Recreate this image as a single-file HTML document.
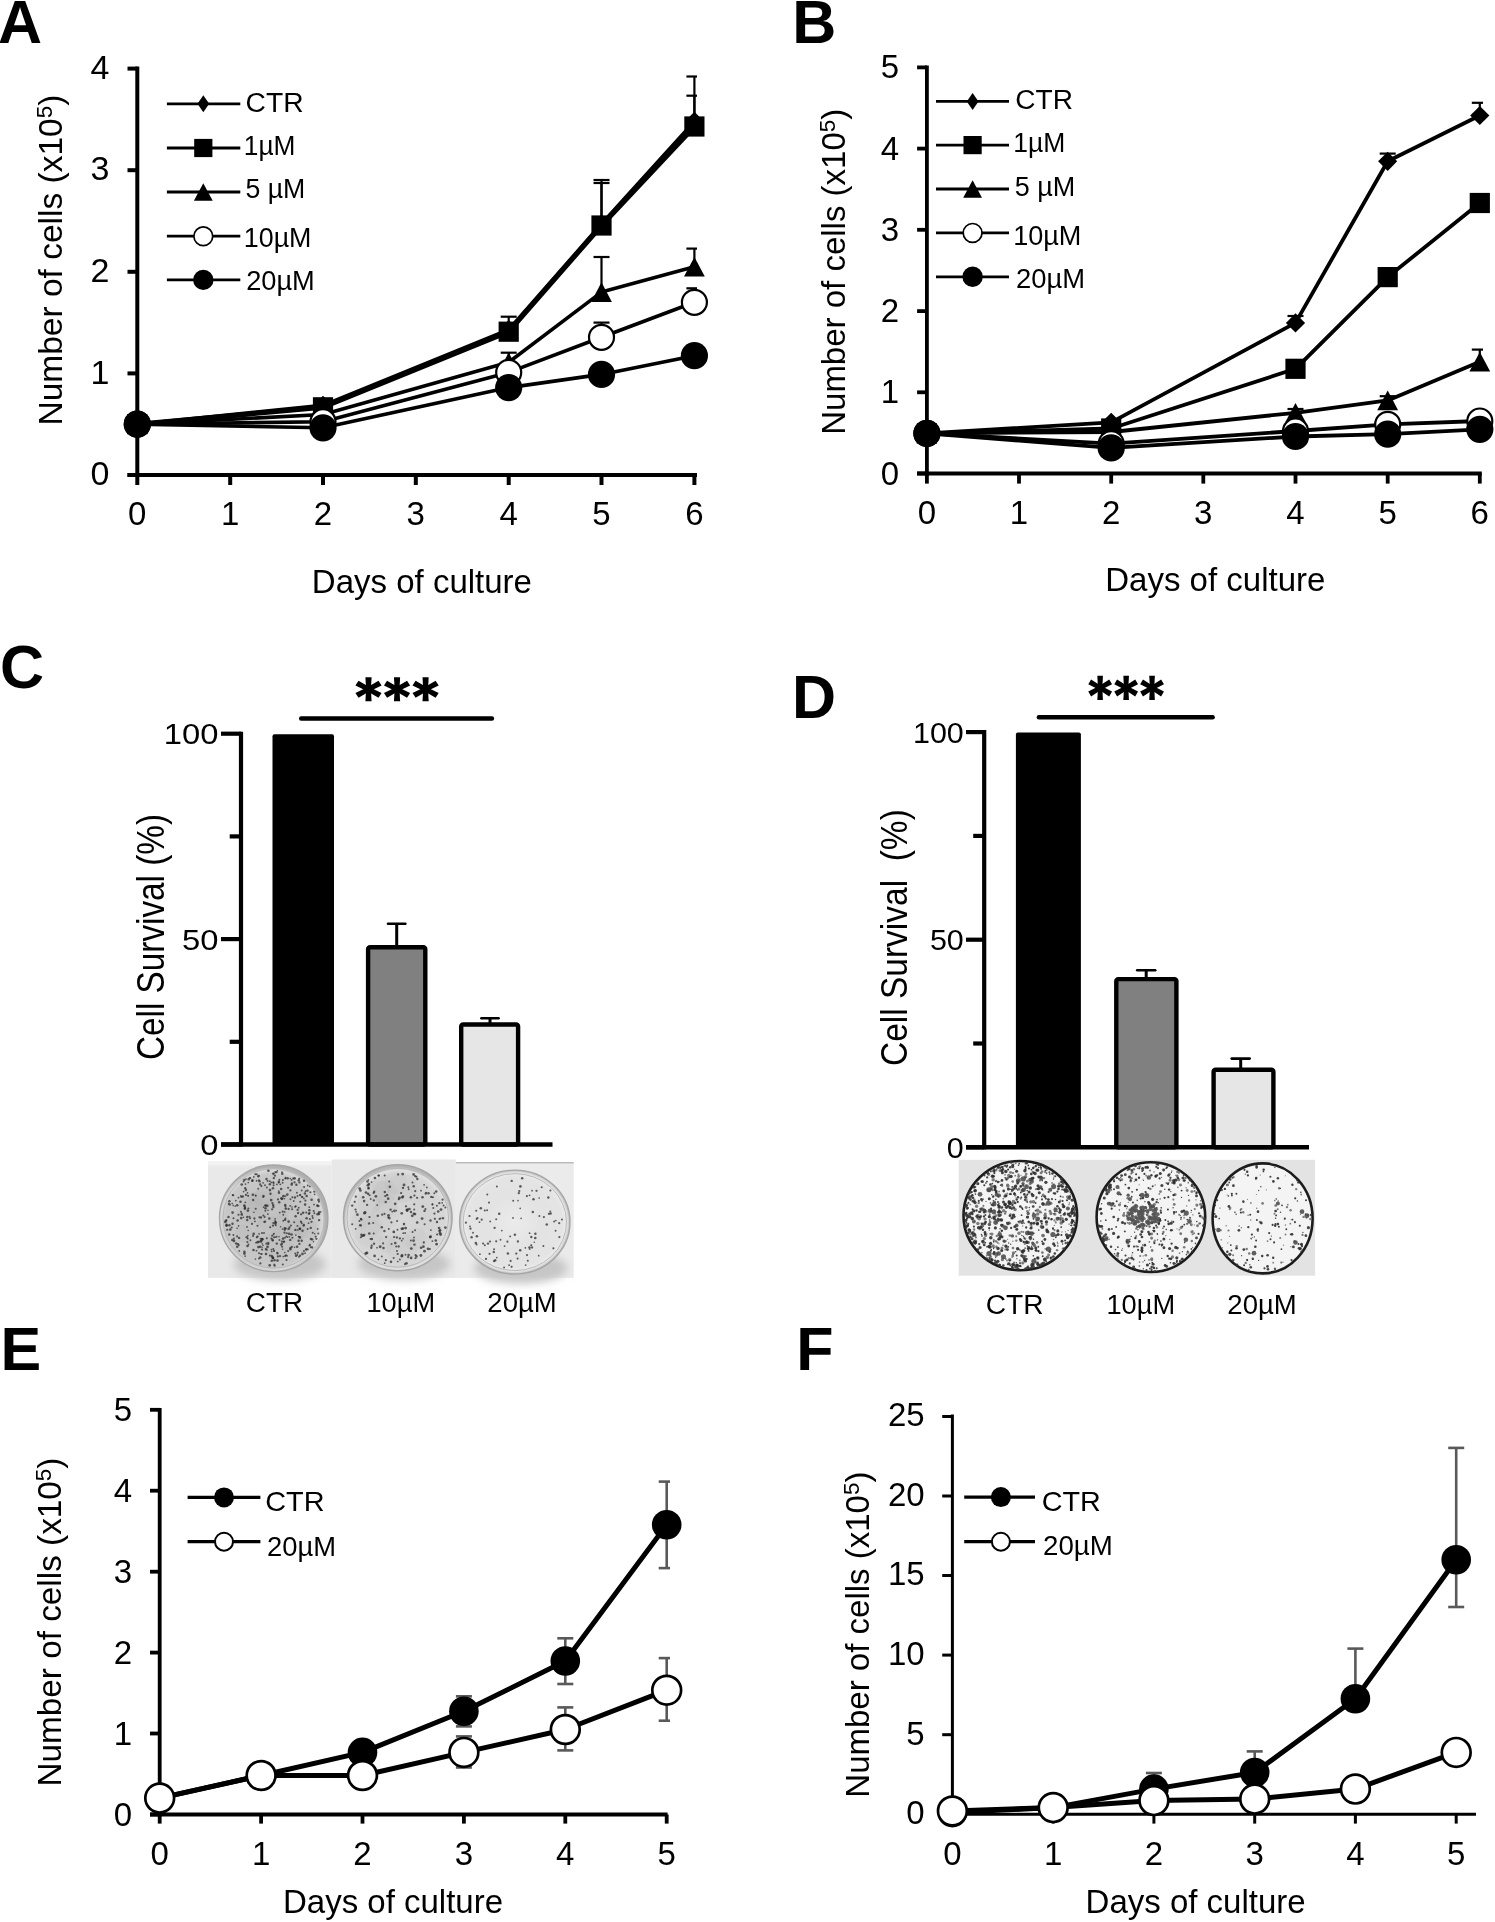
<!DOCTYPE html>
<html><head><meta charset="utf-8"><style>
html,body{margin:0;padding:0;background:#fff;}
body{width:1495px;height:1922px;overflow:hidden;font-family:"Liberation Sans", sans-serif;}
svg{display:block;will-change:transform;}
</style></head><body>
<svg width="1495" height="1922" viewBox="0 0 1495 1922" font-family='"Liberation Sans", sans-serif'>
<rect width="1495" height="1922" fill="#fff"/>
<text x="-1.9" y="42.7" font-size="61" text-anchor="start" font-weight="bold" fill="#000" >A</text>
<line x1="137.3" y1="66.5" x2="137.3" y2="477.0" stroke="#000" stroke-width="4" stroke-linecap="butt"/>
<line x1="127.5" y1="475.0" x2="697.0" y2="475.0" stroke="#000" stroke-width="4" stroke-linecap="butt"/>
<line x1="127.5" y1="475.0" x2="137.3" y2="475.0" stroke="#000" stroke-width="4" stroke-linecap="butt"/>
<text x="109.3" y="485.2" font-size="34" text-anchor="end" fill="#000" >0</text>
<line x1="127.5" y1="373.4" x2="137.3" y2="373.4" stroke="#000" stroke-width="4" stroke-linecap="butt"/>
<text x="109.3" y="383.6" font-size="34" text-anchor="end" fill="#000" >1</text>
<line x1="127.5" y1="271.8" x2="137.3" y2="271.8" stroke="#000" stroke-width="4" stroke-linecap="butt"/>
<text x="109.3" y="282.0" font-size="34" text-anchor="end" fill="#000" >2</text>
<line x1="127.5" y1="170.2" x2="137.3" y2="170.2" stroke="#000" stroke-width="4" stroke-linecap="butt"/>
<text x="109.3" y="180.4" font-size="34" text-anchor="end" fill="#000" >3</text>
<line x1="127.5" y1="68.6" x2="137.3" y2="68.6" stroke="#000" stroke-width="4" stroke-linecap="butt"/>
<text x="109.3" y="78.8" font-size="34" text-anchor="end" fill="#000" >4</text>
<line x1="137.3" y1="475.0" x2="137.3" y2="485.0" stroke="#000" stroke-width="4" stroke-linecap="butt"/>
<text x="137.3" y="525.0" font-size="33" text-anchor="middle" fill="#000" >0</text>
<line x1="230.2" y1="475.0" x2="230.2" y2="485.0" stroke="#000" stroke-width="4" stroke-linecap="butt"/>
<text x="230.2" y="525.0" font-size="33" text-anchor="middle" fill="#000" >1</text>
<line x1="323.0" y1="475.0" x2="323.0" y2="485.0" stroke="#000" stroke-width="4" stroke-linecap="butt"/>
<text x="323.0" y="525.0" font-size="33" text-anchor="middle" fill="#000" >2</text>
<line x1="415.8" y1="475.0" x2="415.8" y2="485.0" stroke="#000" stroke-width="4" stroke-linecap="butt"/>
<text x="415.8" y="525.0" font-size="33" text-anchor="middle" fill="#000" >3</text>
<line x1="508.7" y1="475.0" x2="508.7" y2="485.0" stroke="#000" stroke-width="4" stroke-linecap="butt"/>
<text x="508.7" y="525.0" font-size="33" text-anchor="middle" fill="#000" >4</text>
<line x1="601.5" y1="475.0" x2="601.5" y2="485.0" stroke="#000" stroke-width="4" stroke-linecap="butt"/>
<text x="601.5" y="525.0" font-size="33" text-anchor="middle" fill="#000" >5</text>
<line x1="694.4" y1="475.0" x2="694.4" y2="485.0" stroke="#000" stroke-width="4" stroke-linecap="butt"/>
<text x="694.4" y="525.0" font-size="33" text-anchor="middle" fill="#000" >6</text>
<text transform="translate(61.6,425.5) scale(1.0,1) rotate(-90)" font-size="33.5">Number of cells (x10<tspan font-size="22.5" dy="-10">5</tspan><tspan dy="10">)</tspan></text>
<text x="421.9" y="592.7" font-size="33" text-anchor="middle" fill="#000" >Days of culture</text>
<line x1="694.4" y1="120.0" x2="694.4" y2="76.5" stroke="#000" stroke-width="2.2" stroke-linecap="butt"/>
<line x1="686.4" y1="76.5" x2="697.0" y2="76.5" stroke="#000" stroke-width="2.2" stroke-linecap="butt"/>
<line x1="694.4" y1="120.0" x2="694.4" y2="95.7" stroke="#000" stroke-width="2.2" stroke-linecap="butt"/>
<line x1="686.4" y1="95.7" x2="697.0" y2="95.7" stroke="#000" stroke-width="2.2" stroke-linecap="butt"/>
<line x1="601.5" y1="220.0" x2="601.5" y2="180.0" stroke="#000" stroke-width="2.2" stroke-linecap="butt"/>
<line x1="593.5" y1="180.0" x2="609.5" y2="180.0" stroke="#000" stroke-width="2.2" stroke-linecap="butt"/>
<line x1="601.5" y1="220.0" x2="601.5" y2="183.0" stroke="#000" stroke-width="2.2" stroke-linecap="butt"/>
<line x1="593.5" y1="183.0" x2="609.5" y2="183.0" stroke="#000" stroke-width="2.2" stroke-linecap="butt"/>
<line x1="508.7" y1="330.0" x2="508.7" y2="316.7" stroke="#000" stroke-width="2.2" stroke-linecap="butt"/>
<line x1="500.7" y1="316.7" x2="516.7" y2="316.7" stroke="#000" stroke-width="2.2" stroke-linecap="butt"/>
<line x1="601.5" y1="290.0" x2="601.5" y2="257.0" stroke="#000" stroke-width="2.2" stroke-linecap="butt"/>
<line x1="593.5" y1="257.0" x2="609.5" y2="257.0" stroke="#000" stroke-width="2.2" stroke-linecap="butt"/>
<line x1="694.4" y1="265.0" x2="694.4" y2="248.6" stroke="#000" stroke-width="2.2" stroke-linecap="butt"/>
<line x1="686.4" y1="248.6" x2="697.0" y2="248.6" stroke="#000" stroke-width="2.2" stroke-linecap="butt"/>
<line x1="601.5" y1="330.0" x2="601.5" y2="322.6" stroke="#000" stroke-width="2.2" stroke-linecap="butt"/>
<line x1="593.5" y1="322.6" x2="609.5" y2="322.6" stroke="#000" stroke-width="2.2" stroke-linecap="butt"/>
<line x1="694.4" y1="295.0" x2="694.4" y2="288.3" stroke="#000" stroke-width="2.2" stroke-linecap="butt"/>
<line x1="686.4" y1="288.3" x2="697.0" y2="288.3" stroke="#000" stroke-width="2.2" stroke-linecap="butt"/>
<line x1="508.7" y1="362.0" x2="508.7" y2="352.7" stroke="#000" stroke-width="2.2" stroke-linecap="butt"/>
<line x1="500.7" y1="352.7" x2="516.7" y2="352.7" stroke="#000" stroke-width="2.2" stroke-linecap="butt"/>
<polyline points="137.3,424.2 323.0,405.3 508.7,329.7 601.5,224.0 694.4,121.4" fill="none" stroke="#000" stroke-width="3.6" stroke-linejoin="round"/>
<polyline points="137.3,424.2 323.0,407.3 508.7,331.7 601.5,225.5 694.4,126.5" fill="none" stroke="#000" stroke-width="5.0" stroke-linejoin="round"/>
<polyline points="137.3,424.2 323.0,414.5 508.7,362.2 601.5,292.1 694.4,266.7" fill="none" stroke="#000" stroke-width="3.6" stroke-linejoin="round"/>
<polyline points="137.3,424.2 323.0,421.7 508.7,372.4 601.5,337.3 694.4,302.3" fill="none" stroke="#000" stroke-width="3.6" stroke-linejoin="round"/>
<polyline points="137.3,424.2 323.0,427.8 508.7,387.6 601.5,374.4 694.4,355.7" fill="none" stroke="#000" stroke-width="3.6" stroke-linejoin="round"/>
<polygon points="137.3,414.6 146.9,424.2 137.3,433.8 127.7,424.2" fill="#000"/>
<polygon points="323.0,395.7 332.6,405.3 323.0,414.9 313.4,405.3" fill="#000"/>
<polygon points="508.7,320.1 518.3,329.7 508.7,339.3 499.1,329.7" fill="#000"/>
<polygon points="601.5,214.4 611.1,224.0 601.5,233.6 591.9,224.0" fill="#000"/>
<polygon points="694.4,111.8 704.0,121.4 694.4,131.0 684.8,121.4" fill="#000"/>
<rect x="127.2" y="414.1" width="20.2" height="20.2" fill="#000"/>
<rect x="312.9" y="397.2" width="20.2" height="20.2" fill="#000"/>
<rect x="498.6" y="321.6" width="20.2" height="20.2" fill="#000"/>
<rect x="591.4" y="215.4" width="20.2" height="20.2" fill="#000"/>
<rect x="684.3" y="116.4" width="20.2" height="20.2" fill="#000"/>
<polygon points="137.3,414.4 147.7,434.0 126.9,434.0" fill="#000"/>
<polygon points="323.0,404.7 333.4,424.3 312.6,424.3" fill="#000"/>
<polygon points="508.7,352.4 519.1,372.0 498.3,372.0" fill="#000"/>
<polygon points="601.5,282.3 611.9,301.9 591.1,301.9" fill="#000"/>
<polygon points="694.4,256.9 704.8,276.5 684.0,276.5" fill="#000"/>
<circle cx="137.3" cy="424.2" r="12.5" fill="#fff" stroke="#000" stroke-width="2.2"/>
<circle cx="323.0" cy="421.7" r="12.5" fill="#fff" stroke="#000" stroke-width="2.2"/>
<circle cx="508.7" cy="372.4" r="12.5" fill="#fff" stroke="#000" stroke-width="2.2"/>
<circle cx="601.5" cy="337.3" r="12.5" fill="#fff" stroke="#000" stroke-width="2.2"/>
<circle cx="694.4" cy="302.3" r="12.5" fill="#fff" stroke="#000" stroke-width="2.2"/>
<circle cx="137.3" cy="424.2" r="13.6" fill="#000"/>
<circle cx="323.0" cy="427.8" r="13.6" fill="#000"/>
<circle cx="508.7" cy="387.6" r="13.6" fill="#000"/>
<circle cx="601.5" cy="374.4" r="13.6" fill="#000"/>
<circle cx="694.4" cy="355.7" r="13.6" fill="#000"/>
<line x1="166.9" y1="103.8" x2="240.3" y2="103.8" stroke="#000" stroke-width="2.8" stroke-linecap="butt"/>
<polygon points="203.3,95.2 209.2,103.8 203.3,112.3 197.5,103.8" fill="#000"/>
<text transform="translate(245.59,112.40) scale(1.0073,1)" font-size="28">CTR</text>
<line x1="166.9" y1="148.0" x2="240.3" y2="148.0" stroke="#000" stroke-width="2.8" stroke-linecap="butt"/>
<rect x="194.2" y="138.9" width="18.2" height="18.2" fill="#000"/>
<text transform="translate(243.82,154.80) scale(0.9392,1)" font-size="28">1µM</text>
<line x1="166.9" y1="192.0" x2="240.3" y2="192.0" stroke="#000" stroke-width="2.8" stroke-linecap="butt"/>
<polygon points="203.3,183.2 212.7,200.8 193.9,200.8" fill="#000"/>
<text transform="translate(245.45,198.40) scale(0.9533,1)" font-size="28">5 µM</text>
<line x1="166.9" y1="236.2" x2="240.3" y2="236.2" stroke="#000" stroke-width="2.8" stroke-linecap="butt"/>
<circle cx="203.3" cy="236.2" r="9.4" fill="#fff" stroke="#000" stroke-width="1.7"/>
<text transform="translate(243.78,246.70) scale(0.9591,1)" font-size="28">10µM</text>
<line x1="166.9" y1="279.9" x2="240.3" y2="279.9" stroke="#000" stroke-width="2.8" stroke-linecap="butt"/>
<circle cx="203.3" cy="279.9" r="10.2" fill="#000"/>
<text transform="translate(246.13,289.70) scale(0.9731,1)" font-size="28">20µM</text>
<text x="792.2" y="42.8" font-size="61" text-anchor="start" font-weight="bold" fill="#000" >B</text>
<line x1="926.9" y1="65.5" x2="926.9" y2="475.5" stroke="#000" stroke-width="3.8" stroke-linecap="butt"/>
<line x1="917.1" y1="473.5" x2="1481.8" y2="473.5" stroke="#000" stroke-width="3.8" stroke-linecap="butt"/>
<line x1="917.1" y1="473.5" x2="926.9" y2="473.5" stroke="#000" stroke-width="3.8" stroke-linecap="butt"/>
<text x="899.0" y="484.5" font-size="33" text-anchor="end" fill="#000" >0</text>
<line x1="917.1" y1="392.3" x2="926.9" y2="392.3" stroke="#000" stroke-width="3.8" stroke-linecap="butt"/>
<text x="899.0" y="403.3" font-size="33" text-anchor="end" fill="#000" >1</text>
<line x1="917.1" y1="311.1" x2="926.9" y2="311.1" stroke="#000" stroke-width="3.8" stroke-linecap="butt"/>
<text x="899.0" y="322.1" font-size="33" text-anchor="end" fill="#000" >2</text>
<line x1="917.1" y1="229.8" x2="926.9" y2="229.8" stroke="#000" stroke-width="3.8" stroke-linecap="butt"/>
<text x="899.0" y="240.8" font-size="33" text-anchor="end" fill="#000" >3</text>
<line x1="917.1" y1="148.6" x2="926.9" y2="148.6" stroke="#000" stroke-width="3.8" stroke-linecap="butt"/>
<text x="899.0" y="159.6" font-size="33" text-anchor="end" fill="#000" >4</text>
<line x1="917.1" y1="67.4" x2="926.9" y2="67.4" stroke="#000" stroke-width="3.8" stroke-linecap="butt"/>
<text x="899.0" y="78.4" font-size="33" text-anchor="end" fill="#000" >5</text>
<line x1="926.9" y1="473.5" x2="926.9" y2="483.6" stroke="#000" stroke-width="3.8" stroke-linecap="butt"/>
<text x="926.9" y="524.0" font-size="33" text-anchor="middle" fill="#000" >0</text>
<line x1="1019.0" y1="473.5" x2="1019.0" y2="483.6" stroke="#000" stroke-width="3.8" stroke-linecap="butt"/>
<text x="1019.0" y="524.0" font-size="33" text-anchor="middle" fill="#000" >1</text>
<line x1="1111.2" y1="473.5" x2="1111.2" y2="483.6" stroke="#000" stroke-width="3.8" stroke-linecap="butt"/>
<text x="1111.2" y="524.0" font-size="33" text-anchor="middle" fill="#000" >2</text>
<line x1="1203.3" y1="473.5" x2="1203.3" y2="483.6" stroke="#000" stroke-width="3.8" stroke-linecap="butt"/>
<text x="1203.3" y="524.0" font-size="33" text-anchor="middle" fill="#000" >3</text>
<line x1="1295.5" y1="473.5" x2="1295.5" y2="483.6" stroke="#000" stroke-width="3.8" stroke-linecap="butt"/>
<text x="1295.5" y="524.0" font-size="33" text-anchor="middle" fill="#000" >4</text>
<line x1="1387.7" y1="473.5" x2="1387.7" y2="483.6" stroke="#000" stroke-width="3.8" stroke-linecap="butt"/>
<text x="1387.7" y="524.0" font-size="33" text-anchor="middle" fill="#000" >5</text>
<line x1="1479.8" y1="473.5" x2="1479.8" y2="483.6" stroke="#000" stroke-width="3.8" stroke-linecap="butt"/>
<text x="1479.8" y="524.0" font-size="33" text-anchor="middle" fill="#000" >6</text>
<text transform="translate(845.2,434.8) scale(1.0,1) rotate(-90)" font-size="33">Number of cells (x10<tspan font-size="22.5" dy="-10">5</tspan><tspan dy="10">)</tspan></text>
<text x="1215.3" y="590.5" font-size="33" text-anchor="middle" fill="#000" >Days of culture</text>
<line x1="1479.8" y1="115.0" x2="1479.8" y2="102.8" stroke="#000" stroke-width="2.2" stroke-linecap="butt"/>
<line x1="1471.8" y1="102.8" x2="1483.0" y2="102.8" stroke="#000" stroke-width="2.2" stroke-linecap="butt"/>
<line x1="1387.7" y1="161.0" x2="1387.7" y2="153.6" stroke="#000" stroke-width="2.2" stroke-linecap="butt"/>
<line x1="1379.7" y1="153.6" x2="1395.7" y2="153.6" stroke="#000" stroke-width="2.2" stroke-linecap="butt"/>
<line x1="1295.5" y1="322.0" x2="1295.5" y2="316.0" stroke="#000" stroke-width="2.2" stroke-linecap="butt"/>
<line x1="1287.5" y1="316.0" x2="1303.5" y2="316.0" stroke="#000" stroke-width="2.2" stroke-linecap="butt"/>
<line x1="1479.8" y1="360.0" x2="1479.8" y2="349.6" stroke="#000" stroke-width="2.2" stroke-linecap="butt"/>
<line x1="1471.8" y1="349.6" x2="1483.0" y2="349.6" stroke="#000" stroke-width="2.2" stroke-linecap="butt"/>
<line x1="1387.7" y1="400.0" x2="1387.7" y2="396.2" stroke="#000" stroke-width="2.2" stroke-linecap="butt"/>
<line x1="1379.7" y1="396.2" x2="1395.7" y2="396.2" stroke="#000" stroke-width="2.2" stroke-linecap="butt"/>
<line x1="1295.5" y1="420.0" x2="1295.5" y2="409.0" stroke="#000" stroke-width="2.2" stroke-linecap="butt"/>
<line x1="1287.5" y1="409.0" x2="1303.5" y2="409.0" stroke="#000" stroke-width="2.2" stroke-linecap="butt"/>
<polyline points="926.9,433.4 1111.2,422.3 1295.5,322.9 1387.7,161.3 1479.8,115.5" fill="none" stroke="#000" stroke-width="3.8" stroke-linejoin="round"/>
<polyline points="926.9,433.4 1111.2,428.5 1295.5,368.8 1387.7,277.1 1479.8,203.0" fill="none" stroke="#000" stroke-width="3.8" stroke-linejoin="round"/>
<polyline points="926.9,433.4 1111.2,432.0 1295.5,412.8 1387.7,400.4 1479.8,361.8" fill="none" stroke="#000" stroke-width="3.8" stroke-linejoin="round"/>
<polyline points="926.9,433.4 1111.2,443.6 1295.5,431.0 1387.7,424.3 1479.8,421.0" fill="none" stroke="#000" stroke-width="3.8" stroke-linejoin="round"/>
<polyline points="926.9,433.4 1111.2,447.9 1295.5,436.5 1387.7,434.2 1479.8,429.3" fill="none" stroke="#000" stroke-width="3.8" stroke-linejoin="round"/>
<polygon points="926.9,423.8 936.5,433.4 926.9,443.0 917.3,433.4" fill="#000"/>
<polygon points="1111.2,412.7 1120.8,422.3 1111.2,431.9 1101.6,422.3" fill="#000"/>
<polygon points="1295.5,313.3 1305.1,322.9 1295.5,332.5 1285.9,322.9" fill="#000"/>
<polygon points="1387.7,151.7 1397.2,161.3 1387.7,170.9 1378.1,161.3" fill="#000"/>
<polygon points="1479.8,105.9 1489.4,115.5 1479.8,125.1 1470.2,115.5" fill="#000"/>
<rect x="916.8" y="423.3" width="20.2" height="20.2" fill="#000"/>
<rect x="1101.1" y="418.4" width="20.2" height="20.2" fill="#000"/>
<rect x="1285.4" y="358.7" width="20.2" height="20.2" fill="#000"/>
<rect x="1377.6" y="267.0" width="20.2" height="20.2" fill="#000"/>
<rect x="1469.7" y="192.9" width="20.2" height="20.2" fill="#000"/>
<polygon points="926.9,423.6 937.3,443.2 916.5,443.2" fill="#000"/>
<polygon points="1111.2,422.2 1121.6,441.8 1100.8,441.8" fill="#000"/>
<polygon points="1295.5,403.0 1305.9,422.6 1285.1,422.6" fill="#000"/>
<polygon points="1387.7,390.6 1398.1,410.2 1377.2,410.2" fill="#000"/>
<polygon points="1479.8,352.0 1490.2,371.6 1469.4,371.6" fill="#000"/>
<circle cx="926.9" cy="433.4" r="12.5" fill="#fff" stroke="#000" stroke-width="2.2"/>
<circle cx="1111.2" cy="443.6" r="12.5" fill="#fff" stroke="#000" stroke-width="2.2"/>
<circle cx="1295.5" cy="431.0" r="12.5" fill="#fff" stroke="#000" stroke-width="2.2"/>
<circle cx="1387.7" cy="424.3" r="12.5" fill="#fff" stroke="#000" stroke-width="2.2"/>
<circle cx="1479.8" cy="421.0" r="12.5" fill="#fff" stroke="#000" stroke-width="2.2"/>
<circle cx="926.9" cy="433.4" r="13.6" fill="#000"/>
<circle cx="1111.2" cy="447.9" r="13.6" fill="#000"/>
<circle cx="1295.5" cy="436.5" r="13.6" fill="#000"/>
<circle cx="1387.7" cy="434.2" r="13.6" fill="#000"/>
<circle cx="1479.8" cy="429.3" r="13.6" fill="#000"/>
<line x1="936.0" y1="101.4" x2="1009.0" y2="101.4" stroke="#000" stroke-width="2.8" stroke-linecap="butt"/>
<polygon points="972.6,92.9 978.5,101.4 972.6,110.0 966.8,101.4" fill="#000"/>
<text transform="translate(1015.30,108.60) scale(1.0018,1)" font-size="28">CTR</text>
<line x1="936.0" y1="145.1" x2="1009.0" y2="145.1" stroke="#000" stroke-width="2.8" stroke-linecap="butt"/>
<rect x="963.5" y="136.0" width="18.2" height="18.2" fill="#000"/>
<text transform="translate(1013.21,152.10) scale(0.9451,1)" font-size="28">1µM</text>
<line x1="936.0" y1="189.0" x2="1009.0" y2="189.0" stroke="#000" stroke-width="2.8" stroke-linecap="butt"/>
<polygon points="972.6,180.2 982.0,197.8 963.2,197.8" fill="#000"/>
<text transform="translate(1014.74,196.20) scale(0.9633,1)" font-size="28">5 µM</text>
<line x1="936.0" y1="232.9" x2="1009.0" y2="232.9" stroke="#000" stroke-width="2.8" stroke-linecap="butt"/>
<circle cx="972.6" cy="232.9" r="9.4" fill="#fff" stroke="#000" stroke-width="1.7"/>
<text transform="translate(1013.17,244.90) scale(0.9667,1)" font-size="28">10µM</text>
<line x1="936.0" y1="276.8" x2="1009.0" y2="276.8" stroke="#000" stroke-width="2.8" stroke-linecap="butt"/>
<circle cx="972.6" cy="276.8" r="10.2" fill="#000"/>
<text transform="translate(1015.92,287.80) scale(0.9791,1)" font-size="28">20µM</text>
<text x="0.1" y="688.0" font-size="61" text-anchor="start" font-weight="bold" fill="#000" >C</text>
<g fill="#000"><polygon points="370.92,689.25 371.58,677.15 365.42,677.15 366.08,689.25"/><polygon points="369.71,691.16 381.57,685.62 378.49,680.78 367.29,687.34"/><polygon points="367.29,691.16 378.49,697.72 381.57,692.88 369.71,687.34"/><polygon points="366.08,689.25 365.42,701.35 371.58,701.35 370.92,689.25"/><polygon points="367.29,687.34 355.43,692.88 358.51,697.72 369.71,691.16"/><polygon points="369.71,687.34 358.51,680.78 355.43,685.62 367.29,691.16"/><ellipse cx="368.50" cy="689.25" rx="2.86" ry="2.6"/></g>
<g fill="#000"><polygon points="399.47,689.25 400.13,677.15 393.97,677.15 394.63,689.25"/><polygon points="398.26,691.16 410.12,685.62 407.04,680.78 395.84,687.34"/><polygon points="395.84,691.16 407.04,697.72 410.12,692.88 398.26,687.34"/><polygon points="394.63,689.25 393.97,701.35 400.13,701.35 399.47,689.25"/><polygon points="395.84,687.34 383.98,692.88 387.06,697.72 398.26,691.16"/><polygon points="398.26,687.34 387.06,680.78 383.98,685.62 395.84,691.16"/><ellipse cx="397.05" cy="689.25" rx="2.86" ry="2.6"/></g>
<g fill="#000"><polygon points="428.02,689.25 428.68,677.15 422.52,677.15 423.18,689.25"/><polygon points="426.81,691.16 438.67,685.62 435.59,680.78 424.39,687.34"/><polygon points="424.39,691.16 435.59,697.72 438.67,692.88 426.81,687.34"/><polygon points="423.18,689.25 422.52,701.35 428.68,701.35 428.02,689.25"/><polygon points="424.39,687.34 412.53,692.88 415.61,697.72 426.81,691.16"/><polygon points="426.81,687.34 415.61,680.78 412.53,685.62 424.39,691.16"/><ellipse cx="425.60" cy="689.25" rx="2.86" ry="2.6"/></g>
<line x1="301.2" y1="718.6" x2="491.9" y2="718.6" stroke="#000" stroke-width="4.5" stroke-linecap="round"/>
<path d="M272.5,1144.5 L272.5,736.3 Q272.5,734.3 274.5,734.3 L332.0,734.3 Q334.0,734.3 334.0,736.3 L334.0,1144.5 Z" fill="#000"/>
<rect x="368.1" y="947.3" width="57.2" height="197.2" rx="2" fill="#808080" stroke="#000" stroke-width="4.4"/>
<rect x="461.2" y="1024.5" width="56.9" height="120.0" rx="2" fill="#e6e6e6" stroke="#000" stroke-width="4.4"/>
<line x1="396.7" y1="946.0" x2="396.7" y2="923.8" stroke="#000" stroke-width="3.0" stroke-linecap="butt"/>
<line x1="388.0" y1="923.8" x2="405.4" y2="923.8" stroke="#000" stroke-width="2.6" stroke-linecap="round"/>
<line x1="490.0" y1="1023.0" x2="490.0" y2="1018.2" stroke="#000" stroke-width="3.0" stroke-linecap="butt"/>
<line x1="481.4" y1="1018.2" x2="498.6" y2="1018.2" stroke="#000" stroke-width="2.6" stroke-linecap="round"/>
<line x1="241.0" y1="731.7" x2="241.0" y2="1146.5" stroke="#000" stroke-width="4.2" stroke-linecap="butt"/>
<line x1="221.0" y1="1144.5" x2="552.5" y2="1144.5" stroke="#000" stroke-width="4.4" stroke-linecap="butt"/>
<line x1="221.0" y1="1144.5" x2="241.0" y2="1144.5" stroke="#000" stroke-width="4.2" stroke-linecap="butt"/>
<line x1="221.0" y1="939.1" x2="241.0" y2="939.1" stroke="#000" stroke-width="4.2" stroke-linecap="butt"/>
<line x1="221.0" y1="733.7" x2="241.0" y2="733.7" stroke="#000" stroke-width="4.2" stroke-linecap="butt"/>
<line x1="229.7" y1="1041.8" x2="241.0" y2="1041.8" stroke="#000" stroke-width="4.2" stroke-linecap="butt"/>
<line x1="229.7" y1="836.4" x2="241.0" y2="836.4" stroke="#000" stroke-width="4.2" stroke-linecap="butt"/>
<text transform="translate(218.5,1155.0) scale(1.13,1)" font-size="29" text-anchor="end" fill="#000" >0</text>
<text transform="translate(218.5,949.6) scale(1.13,1)" font-size="29" text-anchor="end" fill="#000" >50</text>
<text transform="translate(218.5,744.2) scale(1.13,1)" font-size="29" text-anchor="end" fill="#000" >100</text>
<text transform="translate(164.4,1060.0) scale(1.16,1) rotate(-90)" font-size="33.3">Cell Survival (%)</text>
<text x="792.0" y="717.7" font-size="61" text-anchor="start" font-weight="bold" fill="#000" >D</text>
<g fill="#000"><polygon points="1102.35,687.95 1102.95,675.85 1097.35,675.85 1097.95,687.95"/><polygon points="1101.25,689.86 1112.03,684.32 1109.23,679.48 1099.05,686.04"/><polygon points="1099.05,689.86 1109.23,696.42 1112.03,691.58 1101.25,686.04"/><polygon points="1097.95,687.95 1097.35,700.05 1102.95,700.05 1102.35,687.95"/><polygon points="1099.05,686.04 1088.27,691.58 1091.07,696.42 1101.25,689.86"/><polygon points="1101.25,686.04 1091.07,679.48 1088.27,684.32 1099.05,689.86"/><ellipse cx="1100.15" cy="687.95" rx="2.60" ry="2.6"/></g>
<g fill="#000"><polygon points="1128.35,687.95 1128.95,675.85 1123.35,675.85 1123.95,687.95"/><polygon points="1127.25,689.86 1138.03,684.32 1135.23,679.48 1125.05,686.04"/><polygon points="1125.05,689.86 1135.23,696.42 1138.03,691.58 1127.25,686.04"/><polygon points="1123.95,687.95 1123.35,700.05 1128.95,700.05 1128.35,687.95"/><polygon points="1125.05,686.04 1114.27,691.58 1117.07,696.42 1127.25,689.86"/><polygon points="1127.25,686.04 1117.07,679.48 1114.27,684.32 1125.05,689.86"/><ellipse cx="1126.15" cy="687.95" rx="2.60" ry="2.6"/></g>
<g fill="#000"><polygon points="1154.25,687.95 1154.85,675.85 1149.25,675.85 1149.85,687.95"/><polygon points="1153.15,689.86 1163.93,684.32 1161.13,679.48 1150.95,686.04"/><polygon points="1150.95,689.86 1161.13,696.42 1163.93,691.58 1153.15,686.04"/><polygon points="1149.85,687.95 1149.25,700.05 1154.85,700.05 1154.25,687.95"/><polygon points="1150.95,686.04 1140.17,691.58 1142.97,696.42 1153.15,689.86"/><polygon points="1153.15,686.04 1142.97,679.48 1140.17,684.32 1150.95,689.86"/><ellipse cx="1152.05" cy="687.95" rx="2.60" ry="2.6"/></g>
<line x1="1038.9" y1="717.3" x2="1212.6" y2="717.3" stroke="#000" stroke-width="4.5" stroke-linecap="round"/>
<path d="M1015.9,1147.3 L1015.9,734.5 Q1015.9,732.5 1017.9,732.5 L1078.9,732.5 Q1080.9,732.5 1080.9,734.5 L1080.9,1147.3 Z" fill="#000"/>
<rect x="1116.3" y="979.1" width="60.1" height="168.2" rx="2" fill="#808080" stroke="#000" stroke-width="4.4"/>
<rect x="1213.6" y="1069.7" width="59.8" height="77.6" rx="2" fill="#e6e6e6" stroke="#000" stroke-width="4.4"/>
<line x1="1146.2" y1="978.0" x2="1146.2" y2="970.3" stroke="#000" stroke-width="3.0" stroke-linecap="butt"/>
<line x1="1137.2" y1="970.3" x2="1155.2" y2="970.3" stroke="#000" stroke-width="2.6" stroke-linecap="round"/>
<line x1="1240.7" y1="1068.0" x2="1240.7" y2="1058.6" stroke="#000" stroke-width="3.0" stroke-linecap="butt"/>
<line x1="1231.7" y1="1058.6" x2="1249.7" y2="1058.6" stroke="#000" stroke-width="2.6" stroke-linecap="round"/>
<line x1="984.2" y1="730.1" x2="984.2" y2="1149.3" stroke="#000" stroke-width="4.2" stroke-linecap="butt"/>
<line x1="966.0" y1="1147.3" x2="1309.0" y2="1147.3" stroke="#000" stroke-width="4.4" stroke-linecap="butt"/>
<line x1="966.0" y1="1147.3" x2="984.2" y2="1147.3" stroke="#000" stroke-width="4.2" stroke-linecap="butt"/>
<line x1="966.0" y1="939.7" x2="984.2" y2="939.7" stroke="#000" stroke-width="4.2" stroke-linecap="butt"/>
<line x1="966.0" y1="732.1" x2="984.2" y2="732.1" stroke="#000" stroke-width="4.2" stroke-linecap="butt"/>
<line x1="973.2" y1="1043.5" x2="984.2" y2="1043.5" stroke="#000" stroke-width="4.2" stroke-linecap="butt"/>
<line x1="973.2" y1="835.9" x2="984.2" y2="835.9" stroke="#000" stroke-width="4.2" stroke-linecap="butt"/>
<text transform="translate(963.8,1157.8) scale(1.05,1)" font-size="29" text-anchor="end" fill="#000" >0</text>
<text transform="translate(963.8,950.2) scale(1.05,1)" font-size="29" text-anchor="end" fill="#000" >50</text>
<text transform="translate(963.8,742.6) scale(1.05,1)" font-size="29" text-anchor="end" fill="#000" >100</text>
<text transform="translate(906.6,1066.0) scale(1.1,1) rotate(-90)" font-size="33.5">Cell Survival&#160;&#160;(%)</text>
<text x="0.6" y="1370.0" font-size="61" text-anchor="start" font-weight="bold" fill="#000" >E</text>
<line x1="159.7" y1="1408.0" x2="159.7" y2="1816.5" stroke="#000" stroke-width="3.8" stroke-linecap="butt"/>
<line x1="150.0" y1="1814.5" x2="667.6" y2="1814.5" stroke="#000" stroke-width="3.8" stroke-linecap="butt"/>
<line x1="150.0" y1="1814.5" x2="159.7" y2="1814.5" stroke="#000" stroke-width="3.8" stroke-linecap="butt"/>
<text x="132.0" y="1825.7" font-size="33" text-anchor="end" fill="#000" >0</text>
<line x1="150.0" y1="1733.5" x2="159.7" y2="1733.5" stroke="#000" stroke-width="3.8" stroke-linecap="butt"/>
<text x="132.0" y="1744.8" font-size="33" text-anchor="end" fill="#000" >1</text>
<line x1="150.0" y1="1652.6" x2="159.7" y2="1652.6" stroke="#000" stroke-width="3.8" stroke-linecap="butt"/>
<text x="132.0" y="1663.8" font-size="33" text-anchor="end" fill="#000" >2</text>
<line x1="150.0" y1="1571.7" x2="159.7" y2="1571.7" stroke="#000" stroke-width="3.8" stroke-linecap="butt"/>
<text x="132.0" y="1582.9" font-size="33" text-anchor="end" fill="#000" >3</text>
<line x1="150.0" y1="1490.7" x2="159.7" y2="1490.7" stroke="#000" stroke-width="3.8" stroke-linecap="butt"/>
<text x="132.0" y="1501.9" font-size="33" text-anchor="end" fill="#000" >4</text>
<line x1="150.0" y1="1409.8" x2="159.7" y2="1409.8" stroke="#000" stroke-width="3.8" stroke-linecap="butt"/>
<text x="132.0" y="1421.0" font-size="33" text-anchor="end" fill="#000" >5</text>
<line x1="159.7" y1="1814.5" x2="159.7" y2="1823.6" stroke="#000" stroke-width="3.8" stroke-linecap="butt"/>
<text x="159.7" y="1864.5" font-size="33" text-anchor="middle" fill="#000" >0</text>
<line x1="261.1" y1="1814.5" x2="261.1" y2="1823.6" stroke="#000" stroke-width="3.8" stroke-linecap="butt"/>
<text x="261.1" y="1864.5" font-size="33" text-anchor="middle" fill="#000" >1</text>
<line x1="362.5" y1="1814.5" x2="362.5" y2="1823.6" stroke="#000" stroke-width="3.8" stroke-linecap="butt"/>
<text x="362.5" y="1864.5" font-size="33" text-anchor="middle" fill="#000" >2</text>
<line x1="463.9" y1="1814.5" x2="463.9" y2="1823.6" stroke="#000" stroke-width="3.8" stroke-linecap="butt"/>
<text x="463.9" y="1864.5" font-size="33" text-anchor="middle" fill="#000" >3</text>
<line x1="565.3" y1="1814.5" x2="565.3" y2="1823.6" stroke="#000" stroke-width="3.8" stroke-linecap="butt"/>
<text x="565.3" y="1864.5" font-size="33" text-anchor="middle" fill="#000" >4</text>
<line x1="666.7" y1="1814.5" x2="666.7" y2="1823.6" stroke="#000" stroke-width="3.8" stroke-linecap="butt"/>
<text x="666.7" y="1864.5" font-size="33" text-anchor="middle" fill="#000" >5</text>
<text transform="translate(61.2,1786.5) scale(1.0,1) rotate(-90)" font-size="33.3">Number of cells (x10<tspan font-size="22.5" dy="-10">5</tspan><tspan dy="10">)</tspan></text>
<text x="393.0" y="1913.2" font-size="33" text-anchor="middle" fill="#000" >Days of culture</text>
<line x1="666.7" y1="1481.6" x2="666.7" y2="1568.1" stroke="#595959" stroke-width="2.6" stroke-linecap="butt"/>
<line x1="658.7" y1="1481.6" x2="670.0" y2="1481.6" stroke="#595959" stroke-width="2.6" stroke-linecap="butt"/>
<line x1="658.7" y1="1568.1" x2="670.0" y2="1568.1" stroke="#595959" stroke-width="2.6" stroke-linecap="butt"/>
<line x1="565.3" y1="1638.3" x2="565.3" y2="1684.0" stroke="#595959" stroke-width="2.6" stroke-linecap="butt"/>
<line x1="557.3" y1="1638.3" x2="573.3" y2="1638.3" stroke="#595959" stroke-width="2.6" stroke-linecap="butt"/>
<line x1="557.3" y1="1684.0" x2="573.3" y2="1684.0" stroke="#595959" stroke-width="2.6" stroke-linecap="butt"/>
<line x1="463.9" y1="1696.3" x2="463.9" y2="1726.4" stroke="#595959" stroke-width="2.6" stroke-linecap="butt"/>
<line x1="455.9" y1="1696.3" x2="471.9" y2="1696.3" stroke="#595959" stroke-width="2.6" stroke-linecap="butt"/>
<line x1="455.9" y1="1726.4" x2="471.9" y2="1726.4" stroke="#595959" stroke-width="2.6" stroke-linecap="butt"/>
<line x1="666.7" y1="1658.1" x2="666.7" y2="1720.7" stroke="#595959" stroke-width="2.6" stroke-linecap="butt"/>
<line x1="658.7" y1="1658.1" x2="670.0" y2="1658.1" stroke="#595959" stroke-width="2.6" stroke-linecap="butt"/>
<line x1="658.7" y1="1720.7" x2="670.0" y2="1720.7" stroke="#595959" stroke-width="2.6" stroke-linecap="butt"/>
<line x1="565.3" y1="1707.4" x2="565.3" y2="1750.4" stroke="#595959" stroke-width="2.6" stroke-linecap="butt"/>
<line x1="557.3" y1="1707.4" x2="573.3" y2="1707.4" stroke="#595959" stroke-width="2.6" stroke-linecap="butt"/>
<line x1="557.3" y1="1750.4" x2="573.3" y2="1750.4" stroke="#595959" stroke-width="2.6" stroke-linecap="butt"/>
<line x1="463.9" y1="1736.4" x2="463.9" y2="1767.5" stroke="#595959" stroke-width="2.6" stroke-linecap="butt"/>
<line x1="455.9" y1="1736.4" x2="471.9" y2="1736.4" stroke="#595959" stroke-width="2.6" stroke-linecap="butt"/>
<line x1="455.9" y1="1767.5" x2="471.9" y2="1767.5" stroke="#595959" stroke-width="2.6" stroke-linecap="butt"/>
<polyline points="159.7,1798.1 261.1,1775.5 362.5,1775.5 463.9,1752.4 565.3,1729.5 666.7,1690.2" fill="none" stroke="#000" stroke-width="5.0" stroke-linejoin="round"/>
<polyline points="159.7,1798.1 261.1,1775.5 362.5,1752.4 463.9,1711.3 565.3,1661.0 666.7,1524.8" fill="none" stroke="#000" stroke-width="5.0" stroke-linejoin="round"/>
<circle cx="159.7" cy="1798.1" r="14.8" fill="#000"/>
<circle cx="261.1" cy="1775.5" r="14.8" fill="#000"/>
<circle cx="362.5" cy="1752.4" r="14.8" fill="#000"/>
<circle cx="463.9" cy="1711.3" r="14.8" fill="#000"/>
<circle cx="565.3" cy="1661.0" r="14.8" fill="#000"/>
<circle cx="666.7" cy="1524.8" r="14.8" fill="#000"/>
<circle cx="159.7" cy="1798.1" r="14.4" fill="#fff" stroke="#000" stroke-width="2.7"/>
<circle cx="261.1" cy="1775.5" r="14.4" fill="#fff" stroke="#000" stroke-width="2.7"/>
<circle cx="362.5" cy="1775.5" r="14.4" fill="#fff" stroke="#000" stroke-width="2.7"/>
<circle cx="463.9" cy="1752.4" r="14.4" fill="#fff" stroke="#000" stroke-width="2.7"/>
<circle cx="565.3" cy="1729.5" r="14.4" fill="#fff" stroke="#000" stroke-width="2.7"/>
<circle cx="666.7" cy="1690.2" r="14.4" fill="#fff" stroke="#000" stroke-width="2.7"/>
<line x1="187.6" y1="1497.4" x2="260.4" y2="1497.4" stroke="#000" stroke-width="3.2" stroke-linecap="butt"/>
<line x1="187.6" y1="1541.7" x2="260.4" y2="1541.7" stroke="#000" stroke-width="3.2" stroke-linecap="butt"/>
<circle cx="224.0" cy="1497.4" r="10.0" fill="#000"/>
<circle cx="224.0" cy="1541.7" r="9.0" fill="#fff" stroke="#000" stroke-width="2.0"/>
<text transform="translate(265.17,1511.40) scale(1.0127,1)" font-size="28.5">CTR</text>
<text transform="translate(266.94,1555.60) scale(0.9603,1)" font-size="28.5">20µM</text>
<text x="796.2" y="1369.6" font-size="61" text-anchor="start" font-weight="bold" fill="#000" >F</text>
<line x1="952.4" y1="1414.5" x2="952.4" y2="1816.0" stroke="#000" stroke-width="3.0" stroke-linecap="butt"/>
<line x1="942.2" y1="1814.2" x2="1476.0" y2="1814.2" stroke="#000" stroke-width="3.0" stroke-linecap="butt"/>
<line x1="942.2" y1="1814.2" x2="952.4" y2="1814.2" stroke="#000" stroke-width="3.0" stroke-linecap="butt"/>
<text x="924.7" y="1824.0" font-size="33" text-anchor="end" fill="#000" >0</text>
<line x1="942.2" y1="1734.7" x2="952.4" y2="1734.7" stroke="#000" stroke-width="3.0" stroke-linecap="butt"/>
<text x="924.7" y="1744.5" font-size="33" text-anchor="end" fill="#000" >5</text>
<line x1="942.2" y1="1655.1" x2="952.4" y2="1655.1" stroke="#000" stroke-width="3.0" stroke-linecap="butt"/>
<text x="924.7" y="1664.9" font-size="33" text-anchor="end" fill="#000" >10</text>
<line x1="942.2" y1="1575.5" x2="952.4" y2="1575.5" stroke="#000" stroke-width="3.0" stroke-linecap="butt"/>
<text x="924.7" y="1585.3" font-size="33" text-anchor="end" fill="#000" >15</text>
<line x1="942.2" y1="1496.0" x2="952.4" y2="1496.0" stroke="#000" stroke-width="3.0" stroke-linecap="butt"/>
<text x="924.7" y="1505.8" font-size="33" text-anchor="end" fill="#000" >20</text>
<line x1="942.2" y1="1416.5" x2="952.4" y2="1416.5" stroke="#000" stroke-width="3.0" stroke-linecap="butt"/>
<text x="924.7" y="1426.2" font-size="33" text-anchor="end" fill="#000" >25</text>
<line x1="952.4" y1="1814.2" x2="952.4" y2="1823.6" stroke="#000" stroke-width="3.0" stroke-linecap="butt"/>
<text x="952.4" y="1864.5" font-size="33" text-anchor="middle" fill="#000" >0</text>
<line x1="1053.2" y1="1814.2" x2="1053.2" y2="1823.6" stroke="#000" stroke-width="3.0" stroke-linecap="butt"/>
<text x="1053.2" y="1864.5" font-size="33" text-anchor="middle" fill="#000" >1</text>
<line x1="1153.9" y1="1814.2" x2="1153.9" y2="1823.6" stroke="#000" stroke-width="3.0" stroke-linecap="butt"/>
<text x="1153.9" y="1864.5" font-size="33" text-anchor="middle" fill="#000" >2</text>
<line x1="1254.7" y1="1814.2" x2="1254.7" y2="1823.6" stroke="#000" stroke-width="3.0" stroke-linecap="butt"/>
<text x="1254.7" y="1864.5" font-size="33" text-anchor="middle" fill="#000" >3</text>
<line x1="1355.4" y1="1814.2" x2="1355.4" y2="1823.6" stroke="#000" stroke-width="3.0" stroke-linecap="butt"/>
<text x="1355.4" y="1864.5" font-size="33" text-anchor="middle" fill="#000" >4</text>
<line x1="1456.2" y1="1814.2" x2="1456.2" y2="1823.6" stroke="#000" stroke-width="3.0" stroke-linecap="butt"/>
<text x="1456.2" y="1864.5" font-size="33" text-anchor="middle" fill="#000" >5</text>
<text transform="translate(869.1,1797.7) scale(1.0,1) rotate(-90)" font-size="33">Number of cells (x10<tspan font-size="22.5" dy="-10">5</tspan><tspan dy="10">)</tspan></text>
<text x="1195.6" y="1913.2" font-size="33" text-anchor="middle" fill="#000" >Days of culture</text>
<line x1="1456.2" y1="1447.9" x2="1456.2" y2="1607.0" stroke="#595959" stroke-width="2.6" stroke-linecap="butt"/>
<line x1="1448.2" y1="1447.9" x2="1464.2" y2="1447.9" stroke="#595959" stroke-width="2.6" stroke-linecap="butt"/>
<line x1="1448.2" y1="1607.0" x2="1464.2" y2="1607.0" stroke="#595959" stroke-width="2.6" stroke-linecap="butt"/>
<line x1="1355.4" y1="1648.6" x2="1355.4" y2="1698.8" stroke="#595959" stroke-width="2.6" stroke-linecap="butt"/>
<line x1="1347.4" y1="1648.6" x2="1363.4" y2="1648.6" stroke="#595959" stroke-width="2.6" stroke-linecap="butt"/>
<line x1="1347.4" y1="1698.8" x2="1363.4" y2="1698.8" stroke="#595959" stroke-width="2.6" stroke-linecap="butt"/>
<line x1="1254.7" y1="1751.4" x2="1254.7" y2="1772.5" stroke="#595959" stroke-width="2.6" stroke-linecap="butt"/>
<line x1="1246.7" y1="1751.4" x2="1262.7" y2="1751.4" stroke="#595959" stroke-width="2.6" stroke-linecap="butt"/>
<line x1="1246.7" y1="1772.5" x2="1262.7" y2="1772.5" stroke="#595959" stroke-width="2.6" stroke-linecap="butt"/>
<line x1="1153.9" y1="1773.0" x2="1153.9" y2="1789.1" stroke="#595959" stroke-width="2.6" stroke-linecap="butt"/>
<line x1="1145.9" y1="1773.0" x2="1161.9" y2="1773.0" stroke="#595959" stroke-width="2.6" stroke-linecap="butt"/>
<line x1="1145.9" y1="1789.1" x2="1161.9" y2="1789.1" stroke="#595959" stroke-width="2.6" stroke-linecap="butt"/>
<polyline points="952.4,1812.6 1053.2,1807.6 1153.9,1789.1 1254.7,1772.5 1355.4,1698.8 1456.2,1559.8" fill="none" stroke="#000" stroke-width="5.0" stroke-linejoin="round"/>
<polyline points="952.4,1811.0 1053.2,1807.6 1153.9,1800.6 1254.7,1799.1 1355.4,1789.1 1456.2,1752.4" fill="none" stroke="#000" stroke-width="5.0" stroke-linejoin="round"/>
<circle cx="952.4" cy="1812.6" r="14.8" fill="#000"/>
<circle cx="1053.2" cy="1807.6" r="14.8" fill="#000"/>
<circle cx="1153.9" cy="1789.1" r="14.8" fill="#000"/>
<circle cx="1254.7" cy="1772.5" r="14.8" fill="#000"/>
<circle cx="1355.4" cy="1698.8" r="14.8" fill="#000"/>
<circle cx="1456.2" cy="1559.8" r="14.8" fill="#000"/>
<circle cx="952.4" cy="1811.0" r="14.4" fill="#fff" stroke="#000" stroke-width="2.7"/>
<circle cx="1053.2" cy="1807.6" r="14.4" fill="#fff" stroke="#000" stroke-width="2.7"/>
<circle cx="1153.9" cy="1800.6" r="14.4" fill="#fff" stroke="#000" stroke-width="2.7"/>
<circle cx="1254.7" cy="1799.1" r="14.4" fill="#fff" stroke="#000" stroke-width="2.7"/>
<circle cx="1355.4" cy="1789.1" r="14.4" fill="#fff" stroke="#000" stroke-width="2.7"/>
<circle cx="1456.2" cy="1752.4" r="14.4" fill="#fff" stroke="#000" stroke-width="2.7"/>
<line x1="964.2" y1="1497.1" x2="1035.0" y2="1497.1" stroke="#000" stroke-width="3.2" stroke-linecap="butt"/>
<line x1="964.2" y1="1541.7" x2="1035.0" y2="1541.7" stroke="#000" stroke-width="3.2" stroke-linecap="butt"/>
<circle cx="1000.9" cy="1497.1" r="10.0" fill="#000"/>
<circle cx="1000.9" cy="1541.7" r="9.0" fill="#fff" stroke="#000" stroke-width="2.0"/>
<text transform="translate(1041.69,1511.30) scale(1.0073,1)" font-size="28.5">CTR</text>
<text transform="translate(1043.03,1555.30) scale(0.9706,1)" font-size="28.5">20µM</text>
<defs><filter id="soft" x="-5%" y="-5%" width="110%" height="110%"><feGaussianBlur stdDeviation="0.6"/></filter><filter id="softD" x="-5%" y="-5%" width="110%" height="110%"><feGaussianBlur stdDeviation="0.45"/></filter><filter id="soft2" x="-30%" y="-30%" width="160%" height="160%"><feGaussianBlur stdDeviation="4"/></filter><radialGradient id="cg1" cx="48%" cy="52%" r="50%"><stop offset="0" stop-color="#c9c9c9"/><stop offset="0.5" stop-color="#c3c3c3"/><stop offset="0.86" stop-color="#c8c8c8"/><stop offset="0.94" stop-color="#d8d8d8"/><stop offset="1" stop-color="#b0b0b0"/></radialGradient><radialGradient id="cg2" cx="50%" cy="52%" r="50%"><stop offset="0" stop-color="#d8d8d8"/><stop offset="0.5" stop-color="#d2d2d2"/><stop offset="0.86" stop-color="#d6d6d6"/><stop offset="0.94" stop-color="#e0e0e0"/><stop offset="1" stop-color="#b4b4b4"/></radialGradient><radialGradient id="cg3" cx="50%" cy="50%" r="50%"><stop offset="0" stop-color="#ebebeb"/><stop offset="0.5" stop-color="#e3e3e3"/><stop offset="0.86" stop-color="#e4e4e4"/><stop offset="0.94" stop-color="#ececec"/><stop offset="1" stop-color="#bcbcbc"/></radialGradient></defs>
<g filter="url(#soft)">
<rect x="208" y="1161.5" width="123.7" height="116.4" fill="#e9e9e9"/>
<rect x="331.7" y="1159.5" width="124.1" height="118.4" fill="#e8e8e8"/>
<rect x="455.8" y="1162.5" width="117.9" height="115.4" fill="#ebebeb"/>
<line x1="455.8" y1="1162.8" x2="573.7" y2="1162.8" stroke="#a0a0a0" stroke-width="1"/>
<rect x="208" y="1161.5" width="123.7" height="4" fill="#f2f2f2"/>
<ellipse cx="279.7" cy="1264.3" rx="46.1" ry="16.0" fill="#c6c6c6" filter="url(#soft2)"/>
<ellipse cx="273.7" cy="1218.3" rx="54.2" ry="53.3" fill="url(#cg1)" stroke="#a6a6a6" stroke-width="1.4"/>
<ellipse cx="273.7" cy="1218.3" rx="50.7" ry="49.8" fill="none" stroke="#b8b8b8" stroke-width="1"/>
<g fill="#909090" fill-opacity="0.05"><circle cx="268.2" cy="1229.0" r="13.21"/><circle cx="297.1" cy="1229.6" r="10.93"/><circle cx="297.3" cy="1227.2" r="8.30"/><circle cx="266.7" cy="1221.4" r="8.73"/><circle cx="243.6" cy="1233.5" r="8.99"/><circle cx="278.5" cy="1246.1" r="15.58"/><circle cx="254.4" cy="1208.3" r="15.81"/><circle cx="306.8" cy="1228.1" r="10.32"/><circle cx="280.2" cy="1226.4" r="10.47"/><circle cx="279.2" cy="1206.1" r="12.65"/><circle cx="260.2" cy="1202.5" r="12.38"/><circle cx="280.1" cy="1220.9" r="9.65"/><circle cx="264.0" cy="1198.0" r="10.51"/><circle cx="253.4" cy="1206.4" r="10.40"/></g>
<g fill="#2c2c2c" fill-opacity="0.75"><circle cx="285.3" cy="1178.6" r="0.93"/><circle cx="240.5" cy="1201.8" r="1.28"/><circle cx="270.0" cy="1190.1" r="1.34"/><circle cx="298.6" cy="1240.8" r="1.22"/><circle cx="294.6" cy="1247.3" r="0.82"/><circle cx="252.3" cy="1181.0" r="1.12"/><circle cx="295.0" cy="1197.5" r="1.18"/><circle cx="241.5" cy="1197.0" r="1.05"/><circle cx="299.2" cy="1178.7" r="1.06"/><circle cx="266.0" cy="1205.6" r="1.19"/><circle cx="244.4" cy="1180.1" r="1.25"/><circle cx="266.6" cy="1249.7" r="1.17"/><circle cx="308.6" cy="1223.2" r="0.89"/><circle cx="284.7" cy="1228.1" r="1.22"/><circle cx="292.4" cy="1237.7" r="1.02"/><circle cx="285.4" cy="1206.3" r="1.05"/><circle cx="229.6" cy="1204.4" r="1.25"/><circle cx="292.4" cy="1197.2" r="1.03"/><circle cx="244.4" cy="1253.6" r="1.33"/><circle cx="287.4" cy="1237.1" r="0.93"/><circle cx="277.5" cy="1253.5" r="1.12"/><circle cx="273.3" cy="1223.0" r="1.03"/><circle cx="247.5" cy="1246.0" r="1.32"/><circle cx="260.2" cy="1184.5" r="1.14"/><circle cx="267.3" cy="1205.7" r="1.29"/><circle cx="282.3" cy="1173.8" r="1.24"/><circle cx="247.8" cy="1238.7" r="0.86"/><circle cx="263.6" cy="1207.1" r="0.84"/><circle cx="279.5" cy="1239.9" r="0.99"/><circle cx="275.1" cy="1218.8" r="0.88"/><circle cx="299.3" cy="1237.0" r="0.81"/><circle cx="301.7" cy="1190.5" r="0.88"/><circle cx="273.3" cy="1249.1" r="1.00"/><circle cx="306.3" cy="1249.5" r="1.35"/><circle cx="238.6" cy="1225.8" r="0.85"/><circle cx="298.6" cy="1236.6" r="0.95"/><circle cx="284.5" cy="1198.7" r="0.81"/><circle cx="309.3" cy="1207.2" r="0.88"/><circle cx="263.4" cy="1215.5" r="1.09"/><circle cx="319.1" cy="1212.2" r="1.18"/><circle cx="271.5" cy="1249.7" r="0.89"/><circle cx="278.8" cy="1181.8" r="1.23"/><circle cx="261.2" cy="1240.7" r="1.25"/><circle cx="319.1" cy="1214.1" r="1.24"/><circle cx="291.6" cy="1179.9" r="0.92"/><circle cx="242.3" cy="1214.9" r="0.82"/><circle cx="301.8" cy="1223.2" r="0.94"/><circle cx="256.8" cy="1174.3" r="1.05"/><circle cx="318.5" cy="1199.9" r="1.33"/><circle cx="256.7" cy="1237.4" r="0.92"/><circle cx="281.9" cy="1241.6" r="1.14"/><circle cx="310.4" cy="1192.2" r="1.06"/><circle cx="248.3" cy="1182.5" r="0.85"/><circle cx="248.7" cy="1179.3" r="1.23"/><circle cx="273.7" cy="1183.1" r="0.90"/><circle cx="281.2" cy="1189.0" r="1.24"/><circle cx="306.2" cy="1212.5" r="1.02"/><circle cx="314.0" cy="1204.6" r="0.89"/><circle cx="289.1" cy="1233.8" r="1.30"/><circle cx="281.3" cy="1198.2" r="1.25"/><circle cx="314.3" cy="1213.3" r="0.99"/><circle cx="253.9" cy="1212.2" r="0.81"/><circle cx="313.7" cy="1211.0" r="1.09"/><circle cx="305.1" cy="1204.6" r="1.28"/><circle cx="285.4" cy="1196.1" r="0.94"/><circle cx="266.5" cy="1243.7" r="1.12"/><circle cx="271.7" cy="1251.5" r="0.87"/><circle cx="300.3" cy="1201.7" r="1.05"/><circle cx="233.2" cy="1195.3" r="1.03"/><circle cx="305.4" cy="1200.6" r="1.09"/><circle cx="264.6" cy="1217.0" r="1.04"/><circle cx="275.6" cy="1222.6" r="1.24"/><circle cx="290.4" cy="1249.3" r="1.20"/><circle cx="245.1" cy="1207.9" r="1.09"/><circle cx="232.3" cy="1203.5" r="0.86"/><circle cx="248.4" cy="1208.4" r="0.95"/><circle cx="278.8" cy="1182.6" r="1.11"/><circle cx="276.6" cy="1172.2" r="1.04"/><circle cx="245.9" cy="1194.9" r="1.08"/><circle cx="261.4" cy="1186.1" r="1.09"/><circle cx="226.6" cy="1224.7" r="1.18"/><circle cx="307.7" cy="1185.5" r="0.94"/><circle cx="229.4" cy="1201.2" r="1.26"/><circle cx="286.8" cy="1233.3" r="1.04"/><circle cx="297.8" cy="1229.9" r="0.84"/><circle cx="252.4" cy="1180.4" r="1.29"/><circle cx="297.7" cy="1252.7" r="1.16"/><circle cx="302.5" cy="1253.9" r="1.33"/><circle cx="282.8" cy="1264.4" r="1.02"/><circle cx="225.3" cy="1222.1" r="1.26"/><circle cx="291.8" cy="1246.9" r="1.08"/><circle cx="260.6" cy="1238.8" r="0.98"/><circle cx="272.1" cy="1209.3" r="1.10"/><circle cx="265.3" cy="1221.5" r="0.98"/><circle cx="247.5" cy="1192.9" r="0.84"/><circle cx="317.6" cy="1214.2" r="1.33"/><circle cx="295.8" cy="1235.1" r="0.82"/><circle cx="278.8" cy="1191.1" r="0.87"/><circle cx="232.3" cy="1240.0" r="1.25"/><circle cx="272.5" cy="1239.9" r="1.31"/><circle cx="235.8" cy="1200.6" r="0.85"/><circle cx="312.7" cy="1232.8" r="1.03"/><circle cx="316.4" cy="1238.8" r="1.15"/><circle cx="279.2" cy="1202.3" r="1.27"/><circle cx="315.6" cy="1236.6" r="1.05"/><circle cx="253.5" cy="1250.0" r="1.31"/><circle cx="271.4" cy="1238.5" r="1.09"/><circle cx="275.1" cy="1237.2" r="0.89"/><circle cx="297.4" cy="1225.9" r="0.97"/><circle cx="259.0" cy="1258.5" r="0.96"/><circle cx="250.1" cy="1218.3" r="0.99"/><circle cx="300.8" cy="1221.4" r="0.81"/><circle cx="269.7" cy="1181.2" r="0.90"/><circle cx="226.9" cy="1225.7" r="0.86"/><circle cx="288.1" cy="1187.7" r="1.07"/><circle cx="290.4" cy="1190.4" r="1.08"/><circle cx="255.2" cy="1174.3" r="0.99"/><circle cx="294.5" cy="1182.3" r="1.15"/><circle cx="247.9" cy="1235.6" r="0.83"/><circle cx="284.7" cy="1229.8" r="1.21"/><circle cx="272.9" cy="1240.7" r="0.85"/><circle cx="298.7" cy="1180.3" r="1.17"/><circle cx="268.3" cy="1244.2" r="0.96"/><circle cx="252.0" cy="1223.9" r="1.05"/><circle cx="269.7" cy="1265.3" r="1.33"/><circle cx="247.9" cy="1210.6" r="1.33"/><circle cx="262.1" cy="1247.3" r="0.80"/><circle cx="247.4" cy="1242.1" r="1.08"/><circle cx="284.8" cy="1252.6" r="0.80"/><circle cx="272.1" cy="1235.7" r="1.02"/><circle cx="283.3" cy="1220.8" r="0.97"/><circle cx="277.9" cy="1256.4" r="1.09"/><circle cx="273.8" cy="1178.1" r="1.19"/><circle cx="297.5" cy="1196.1" r="0.98"/><circle cx="295.6" cy="1216.2" r="1.20"/><circle cx="265.5" cy="1208.2" r="1.26"/><circle cx="304.9" cy="1193.5" r="1.20"/><circle cx="281.8" cy="1198.9" r="1.09"/><circle cx="228.5" cy="1217.1" r="1.24"/><circle cx="291.7" cy="1184.4" r="1.29"/><circle cx="256.6" cy="1180.8" r="0.93"/><circle cx="294.2" cy="1222.3" r="1.00"/><circle cx="309.5" cy="1245.5" r="1.11"/><circle cx="245.9" cy="1190.0" r="1.17"/><circle cx="269.3" cy="1218.6" r="1.24"/><circle cx="273.3" cy="1182.4" r="1.09"/><circle cx="265.3" cy="1205.4" r="1.21"/><circle cx="273.5" cy="1234.4" r="0.95"/><circle cx="270.5" cy="1193.8" r="1.21"/><circle cx="309.6" cy="1212.9" r="1.01"/><circle cx="232.5" cy="1223.7" r="1.22"/><circle cx="243.6" cy="1191.6" r="0.84"/><circle cx="290.2" cy="1239.9" r="1.21"/><circle cx="260.8" cy="1253.9" r="0.81"/><circle cx="299.8" cy="1228.6" r="1.17"/><circle cx="259.0" cy="1180.3" r="0.96"/><circle cx="238.5" cy="1214.7" r="1.06"/><circle cx="307.9" cy="1249.3" r="0.91"/><circle cx="320.7" cy="1211.9" r="0.81"/><circle cx="230.3" cy="1229.6" r="1.33"/><circle cx="247.0" cy="1226.9" r="0.92"/><circle cx="297.6" cy="1209.9" r="1.12"/><circle cx="297.1" cy="1246.7" r="1.32"/><circle cx="303.9" cy="1251.0" r="1.08"/><circle cx="305.6" cy="1191.3" r="0.93"/><circle cx="302.5" cy="1197.1" r="0.81"/><circle cx="309.9" cy="1219.1" r="1.05"/><circle cx="266.8" cy="1238.2" r="0.99"/><circle cx="255.4" cy="1259.1" r="0.80"/><circle cx="273.9" cy="1173.7" r="0.87"/><circle cx="311.6" cy="1199.7" r="1.30"/><circle cx="265.7" cy="1249.0" r="1.02"/><circle cx="312.8" cy="1218.0" r="1.00"/><circle cx="248.2" cy="1230.5" r="0.83"/><circle cx="310.0" cy="1244.8" r="0.96"/><circle cx="298.7" cy="1207.8" r="0.95"/><circle cx="249.5" cy="1216.7" r="1.01"/><circle cx="318.3" cy="1205.9" r="1.25"/><circle cx="241.7" cy="1184.5" r="1.32"/><circle cx="233.2" cy="1205.6" r="0.83"/><circle cx="269.8" cy="1184.2" r="1.21"/><circle cx="255.9" cy="1195.9" r="0.83"/><circle cx="292.1" cy="1209.3" r="1.06"/><circle cx="257.4" cy="1242.3" r="1.21"/><circle cx="301.1" cy="1214.3" r="1.16"/><circle cx="261.7" cy="1253.9" r="1.02"/><circle cx="285.0" cy="1237.7" r="0.91"/><circle cx="303.9" cy="1198.4" r="0.92"/><circle cx="314.2" cy="1191.7" r="1.05"/><circle cx="289.3" cy="1236.8" r="0.85"/><circle cx="264.0" cy="1233.0" r="0.93"/><circle cx="271.7" cy="1256.1" r="1.29"/><circle cx="273.6" cy="1185.2" r="1.03"/><circle cx="241.7" cy="1213.5" r="0.99"/><circle cx="300.0" cy="1228.9" r="1.33"/><circle cx="299.4" cy="1243.9" r="1.15"/><circle cx="290.4" cy="1199.2" r="0.95"/><circle cx="274.0" cy="1250.9" r="1.05"/><circle cx="317.3" cy="1205.5" r="1.28"/><circle cx="285.1" cy="1219.8" r="1.19"/><circle cx="301.9" cy="1196.9" r="1.12"/><circle cx="306.6" cy="1218.3" r="1.31"/><circle cx="294.6" cy="1178.3" r="1.33"/><circle cx="273.9" cy="1237.2" r="0.88"/><circle cx="232.6" cy="1212.6" r="1.32"/><circle cx="266.5" cy="1179.0" r="1.22"/><circle cx="237.1" cy="1228.2" r="0.82"/><circle cx="279.0" cy="1192.8" r="1.31"/><circle cx="255.6" cy="1195.3" r="0.87"/><circle cx="273.2" cy="1258.0" r="1.18"/><circle cx="285.9" cy="1228.5" r="1.09"/><circle cx="245.3" cy="1202.3" r="0.92"/><circle cx="267.9" cy="1214.1" r="0.97"/><circle cx="227.2" cy="1229.8" r="1.15"/><circle cx="300.3" cy="1194.9" r="0.93"/><circle cx="274.6" cy="1265.5" r="1.19"/><circle cx="270.2" cy="1227.3" r="1.07"/><circle cx="258.2" cy="1188.7" r="0.94"/><circle cx="250.3" cy="1178.0" r="0.92"/><circle cx="303.9" cy="1224.8" r="1.03"/><circle cx="263.5" cy="1196.1" r="1.24"/><circle cx="271.2" cy="1182.4" r="0.91"/><circle cx="303.1" cy="1212.8" r="1.25"/><circle cx="276.8" cy="1243.6" r="1.22"/><circle cx="260.4" cy="1263.4" r="1.07"/><circle cx="283.7" cy="1241.9" r="1.03"/><circle cx="249.5" cy="1177.9" r="0.88"/><circle cx="253.7" cy="1233.8" r="1.34"/><circle cx="282.5" cy="1229.1" r="0.83"/><circle cx="237.2" cy="1246.8" r="1.29"/><circle cx="268.4" cy="1170.7" r="1.31"/><circle cx="262.2" cy="1239.1" r="1.31"/><circle cx="273.4" cy="1207.0" r="1.17"/><circle cx="250.4" cy="1240.2" r="0.98"/><circle cx="275.7" cy="1221.9" r="0.95"/><circle cx="245.2" cy="1256.1" r="0.87"/><circle cx="298.3" cy="1212.8" r="1.00"/><circle cx="293.2" cy="1178.5" r="1.04"/><circle cx="307.6" cy="1229.0" r="1.00"/><circle cx="295.1" cy="1206.7" r="1.00"/><circle cx="282.7" cy="1211.6" r="1.03"/><circle cx="290.2" cy="1178.6" r="0.82"/><circle cx="288.6" cy="1221.6" r="1.31"/><circle cx="271.8" cy="1260.7" r="1.29"/><circle cx="258.7" cy="1241.8" r="1.33"/><circle cx="253.1" cy="1200.0" r="1.19"/><circle cx="262.2" cy="1243.8" r="0.80"/><circle cx="275.4" cy="1172.1" r="1.15"/><circle cx="283.3" cy="1214.8" r="0.93"/><circle cx="226.4" cy="1225.6" r="1.32"/><circle cx="253.1" cy="1235.9" r="1.04"/><circle cx="226.5" cy="1220.2" r="0.90"/><circle cx="287.6" cy="1178.3" r="1.25"/><circle cx="279.4" cy="1179.8" r="0.98"/><circle cx="260.2" cy="1246.7" r="1.23"/><circle cx="295.4" cy="1229.9" r="1.21"/><circle cx="274.0" cy="1233.5" r="0.82"/><circle cx="244.9" cy="1208.6" r="1.34"/><circle cx="309.8" cy="1186.4" r="0.95"/><circle cx="289.5" cy="1227.4" r="1.07"/><circle cx="265.0" cy="1185.2" r="0.93"/><circle cx="239.1" cy="1237.9" r="1.17"/><circle cx="273.1" cy="1173.6" r="1.17"/><circle cx="306.5" cy="1249.1" r="0.96"/><circle cx="244.3" cy="1205.4" r="1.21"/><circle cx="282.2" cy="1243.6" r="0.93"/><circle cx="300.1" cy="1255.7" r="1.12"/><circle cx="258.4" cy="1247.1" r="1.35"/><circle cx="247.3" cy="1217.1" r="1.24"/><circle cx="246.0" cy="1179.1" r="0.86"/><circle cx="229.4" cy="1225.3" r="1.26"/><circle cx="284.6" cy="1211.9" r="0.96"/><circle cx="291.5" cy="1234.5" r="1.34"/><circle cx="232.7" cy="1195.1" r="1.00"/><circle cx="296.9" cy="1192.8" r="0.94"/><circle cx="282.0" cy="1172.2" r="0.86"/><circle cx="240.9" cy="1196.0" r="0.92"/><circle cx="259.1" cy="1233.8" r="0.91"/><circle cx="272.5" cy="1257.0" r="1.16"/><circle cx="275.8" cy="1225.3" r="0.98"/><circle cx="263.2" cy="1197.0" r="0.97"/><circle cx="286.5" cy="1260.0" r="1.10"/><circle cx="290.9" cy="1225.4" r="1.02"/><circle cx="235.3" cy="1206.0" r="0.85"/><circle cx="295.3" cy="1253.6" r="1.03"/><circle cx="267.5" cy="1246.9" r="1.32"/><circle cx="259.0" cy="1253.2" r="1.00"/><circle cx="234.0" cy="1240.9" r="1.35"/><circle cx="257.5" cy="1236.6" r="1.20"/><circle cx="275.3" cy="1223.6" r="1.30"/><circle cx="233.9" cy="1238.6" r="1.02"/><circle cx="299.8" cy="1195.0" r="0.89"/><circle cx="311.5" cy="1221.8" r="1.15"/><circle cx="288.6" cy="1209.0" r="1.14"/><circle cx="248.5" cy="1244.4" r="0.88"/><circle cx="266.0" cy="1254.0" r="1.31"/><circle cx="301.7" cy="1240.8" r="1.24"/><circle cx="297.8" cy="1213.3" r="0.87"/><circle cx="318.9" cy="1201.7" r="1.07"/><circle cx="318.3" cy="1233.6" r="1.01"/><circle cx="306.6" cy="1196.1" r="1.25"/><circle cx="297.3" cy="1254.9" r="0.92"/><circle cx="236.2" cy="1243.6" r="1.26"/><circle cx="284.2" cy="1241.4" r="1.02"/><circle cx="241.3" cy="1214.7" r="0.87"/><circle cx="274.5" cy="1260.2" r="1.29"/><circle cx="310.7" cy="1227.9" r="1.22"/><circle cx="317.7" cy="1228.9" r="0.86"/><circle cx="242.9" cy="1196.5" r="1.14"/><circle cx="262.0" cy="1249.6" r="1.12"/><circle cx="237.1" cy="1236.4" r="1.05"/><circle cx="264.4" cy="1222.0" r="1.14"/><circle cx="247.2" cy="1220.0" r="1.22"/><circle cx="280.3" cy="1184.3" r="0.90"/><circle cx="254.9" cy="1221.4" r="0.87"/><circle cx="257.5" cy="1225.7" r="1.04"/><circle cx="261.0" cy="1217.5" r="1.15"/><circle cx="310.9" cy="1239.1" r="1.23"/><circle cx="259.4" cy="1217.3" r="1.08"/><circle cx="239.3" cy="1250.9" r="0.87"/><circle cx="304.0" cy="1180.8" r="1.20"/><circle cx="283.4" cy="1196.2" r="1.34"/><circle cx="225.9" cy="1220.7" r="1.30"/><circle cx="296.1" cy="1255.7" r="1.31"/><circle cx="302.5" cy="1230.7" r="1.22"/><circle cx="299.0" cy="1256.8" r="0.95"/><circle cx="282.4" cy="1198.8" r="1.08"/><circle cx="295.8" cy="1206.3" r="0.94"/><circle cx="243.5" cy="1217.2" r="0.82"/><circle cx="283.1" cy="1238.6" r="1.32"/><circle cx="253.8" cy="1176.9" r="0.89"/><circle cx="278.0" cy="1199.4" r="1.09"/><circle cx="252.9" cy="1194.7" r="1.28"/><circle cx="237.2" cy="1205.3" r="1.29"/><circle cx="312.2" cy="1247.5" r="1.15"/><circle cx="238.8" cy="1245.2" r="0.95"/><circle cx="312.4" cy="1216.0" r="1.00"/><circle cx="276.9" cy="1184.4" r="0.90"/><circle cx="273.2" cy="1204.9" r="1.25"/><circle cx="272.8" cy="1258.0" r="1.34"/><circle cx="238.5" cy="1197.6" r="0.97"/><circle cx="285.5" cy="1218.4" r="0.88"/><circle cx="248.1" cy="1195.8" r="1.08"/><circle cx="290.2" cy="1205.8" r="0.92"/><circle cx="268.1" cy="1210.3" r="0.80"/><circle cx="262.0" cy="1233.1" r="1.00"/><circle cx="280.0" cy="1256.1" r="1.12"/><circle cx="285.1" cy="1256.0" r="1.06"/><circle cx="305.1" cy="1253.3" r="0.93"/><circle cx="284.5" cy="1232.7" r="1.15"/><circle cx="304.1" cy="1187.0" r="1.02"/><circle cx="273.0" cy="1225.6" r="1.15"/><circle cx="244.7" cy="1206.5" r="1.16"/><circle cx="229.2" cy="1234.5" r="1.20"/><circle cx="274.1" cy="1264.3" r="0.82"/><circle cx="240.9" cy="1211.8" r="0.93"/><circle cx="314.7" cy="1233.8" r="0.81"/><circle cx="228.6" cy="1203.6" r="0.88"/><circle cx="286.0" cy="1255.3" r="1.08"/><circle cx="245.5" cy="1184.1" r="0.90"/><circle cx="263.0" cy="1245.3" r="0.83"/><circle cx="307.5" cy="1190.6" r="1.19"/><circle cx="319.1" cy="1220.1" r="1.21"/><circle cx="231.7" cy="1227.5" r="1.05"/><circle cx="276.6" cy="1236.7" r="0.93"/><circle cx="303.6" cy="1225.6" r="1.21"/><circle cx="258.3" cy="1176.2" r="1.19"/><circle cx="269.9" cy="1255.5" r="1.04"/><circle cx="282.6" cy="1182.8" r="0.95"/><circle cx="243.5" cy="1181.5" r="0.92"/><circle cx="279.8" cy="1212.6" r="0.94"/><circle cx="277.5" cy="1260.5" r="1.32"/><circle cx="273.0" cy="1188.3" r="1.28"/><circle cx="261.0" cy="1241.5" r="1.30"/><circle cx="245.2" cy="1188.2" r="1.17"/><circle cx="308.9" cy="1213.7" r="1.26"/><circle cx="258.9" cy="1175.7" r="1.04"/><circle cx="267.6" cy="1180.9" r="0.97"/><circle cx="283.2" cy="1256.5" r="0.84"/><circle cx="292.0" cy="1207.0" r="0.81"/><circle cx="310.8" cy="1247.2" r="0.99"/><circle cx="280.6" cy="1226.7" r="0.82"/><circle cx="259.5" cy="1181.2" r="1.18"/><circle cx="272.4" cy="1203.1" r="1.12"/><circle cx="244.4" cy="1251.7" r="1.25"/><circle cx="285.8" cy="1208.6" r="1.28"/><circle cx="314.6" cy="1194.3" r="0.86"/><circle cx="279.0" cy="1236.7" r="0.82"/><circle cx="299.4" cy="1182.4" r="1.15"/><circle cx="292.0" cy="1183.1" r="0.96"/><circle cx="288.6" cy="1228.9" r="1.22"/><circle cx="282.1" cy="1246.8" r="1.03"/><circle cx="301.0" cy="1221.9" r="0.96"/><circle cx="266.9" cy="1187.5" r="0.98"/><circle cx="309.3" cy="1210.2" r="1.27"/><circle cx="265.4" cy="1210.8" r="1.03"/><circle cx="233.4" cy="1235.0" r="0.99"/><circle cx="263.1" cy="1182.8" r="0.92"/><circle cx="285.2" cy="1205.0" r="1.25"/><circle cx="275.1" cy="1220.9" r="0.91"/><circle cx="277.4" cy="1170.9" r="0.80"/><circle cx="237.6" cy="1220.4" r="1.24"/><circle cx="288.2" cy="1251.0" r="0.99"/><circle cx="287.3" cy="1194.6" r="1.32"/><circle cx="268.3" cy="1242.9" r="1.18"/><circle cx="254.4" cy="1218.5" r="1.15"/><circle cx="312.3" cy="1239.4" r="1.18"/><circle cx="282.9" cy="1179.9" r="1.00"/><circle cx="246.8" cy="1237.2" r="1.29"/><circle cx="313.5" cy="1241.8" r="0.81"/><circle cx="281.3" cy="1244.6" r="1.30"/><circle cx="241.2" cy="1218.1" r="1.29"/><circle cx="277.3" cy="1252.8" r="1.09"/><circle cx="274.9" cy="1175.7" r="1.16"/><circle cx="256.0" cy="1242.7" r="0.89"/><circle cx="296.4" cy="1184.7" r="1.21"/><circle cx="290.4" cy="1248.0" r="1.23"/><circle cx="255.7" cy="1208.7" r="1.05"/><circle cx="293.7" cy="1201.0" r="0.91"/><circle cx="260.3" cy="1257.5" r="1.26"/><circle cx="286.3" cy="1236.4" r="0.94"/><circle cx="256.5" cy="1250.7" r="0.89"/><circle cx="262.3" cy="1239.3" r="1.34"/><circle cx="271.2" cy="1200.1" r="1.33"/><circle cx="299.9" cy="1237.4" r="1.34"/><circle cx="285.6" cy="1177.9" r="1.04"/><circle cx="287.1" cy="1255.8" r="0.86"/><circle cx="282.6" cy="1249.3" r="0.82"/><circle cx="238.1" cy="1244.1" r="1.18"/><circle cx="233.5" cy="1218.2" r="1.05"/></g>
<ellipse cx="403.8" cy="1263.7" rx="46.2" ry="15.9" fill="#c6c6c6" filter="url(#soft2)"/>
<ellipse cx="397.8" cy="1217.7" rx="54.3" ry="53.0" fill="url(#cg2)" stroke="#a6a6a6" stroke-width="1.4"/>
<ellipse cx="397.8" cy="1217.7" rx="50.8" ry="49.5" fill="none" stroke="#b8b8b8" stroke-width="1"/>
<g fill="#909090" fill-opacity="0.05"><circle cx="415.5" cy="1239.0" r="11.24"/><circle cx="395.8" cy="1182.7" r="11.44"/><circle cx="369.2" cy="1203.7" r="11.37"/><circle cx="402.0" cy="1247.9" r="15.04"/><circle cx="402.4" cy="1188.1" r="14.82"/><circle cx="385.3" cy="1192.0" r="11.63"/><circle cx="386.7" cy="1243.6" r="8.78"/><circle cx="369.1" cy="1233.2" r="13.71"/><circle cx="386.4" cy="1206.0" r="11.39"/><circle cx="370.3" cy="1225.4" r="11.27"/><circle cx="381.3" cy="1186.0" r="9.46"/><circle cx="379.3" cy="1191.4" r="11.11"/><circle cx="360.4" cy="1220.0" r="8.31"/><circle cx="385.6" cy="1214.4" r="14.25"/></g>
<g fill="#2c2c2c" fill-opacity="0.75"><circle cx="432.4" cy="1204.5" r="0.91"/><circle cx="364.1" cy="1201.1" r="1.28"/><circle cx="357.4" cy="1214.7" r="1.35"/><circle cx="364.5" cy="1213.2" r="1.42"/><circle cx="408.1" cy="1257.1" r="1.09"/><circle cx="399.4" cy="1198.0" r="1.44"/><circle cx="388.8" cy="1229.0" r="1.01"/><circle cx="391.4" cy="1222.3" r="1.10"/><circle cx="360.9" cy="1237.3" r="1.06"/><circle cx="395.3" cy="1243.1" r="1.29"/><circle cx="432.5" cy="1204.3" r="0.98"/><circle cx="408.3" cy="1187.2" r="0.98"/><circle cx="428.0" cy="1248.8" r="1.34"/><circle cx="374.2" cy="1191.8" r="1.19"/><circle cx="405.0" cy="1264.1" r="1.06"/><circle cx="368.9" cy="1184.1" r="1.34"/><circle cx="369.1" cy="1223.4" r="1.18"/><circle cx="429.8" cy="1249.0" r="1.06"/><circle cx="414.4" cy="1195.6" r="1.08"/><circle cx="397.0" cy="1251.0" r="0.96"/><circle cx="440.4" cy="1218.4" r="1.02"/><circle cx="398.7" cy="1246.5" r="1.14"/><circle cx="361.4" cy="1234.8" r="1.25"/><circle cx="367.0" cy="1252.9" r="1.36"/><circle cx="440.1" cy="1233.2" r="1.39"/><circle cx="402.3" cy="1197.3" r="1.35"/><circle cx="392.2" cy="1211.6" r="0.86"/><circle cx="436.9" cy="1205.8" r="1.00"/><circle cx="415.1" cy="1230.2" r="0.99"/><circle cx="403.0" cy="1187.6" r="0.94"/><circle cx="434.3" cy="1193.2" r="0.95"/><circle cx="428.5" cy="1193.2" r="1.32"/><circle cx="374.9" cy="1178.0" r="1.32"/><circle cx="410.9" cy="1197.2" r="1.27"/><circle cx="355.5" cy="1209.6" r="1.11"/><circle cx="426.1" cy="1192.7" r="1.01"/><circle cx="399.9" cy="1238.4" r="1.15"/><circle cx="430.9" cy="1230.1" r="0.94"/><circle cx="361.4" cy="1219.6" r="1.17"/><circle cx="401.7" cy="1213.3" r="1.35"/><circle cx="360.2" cy="1225.2" r="1.25"/><circle cx="415.2" cy="1191.1" r="1.10"/><circle cx="413.8" cy="1213.8" r="1.23"/><circle cx="390.6" cy="1209.6" r="1.22"/><circle cx="378.3" cy="1175.5" r="1.05"/><circle cx="434.4" cy="1213.6" r="1.14"/><circle cx="407.2" cy="1210.8" r="1.28"/><circle cx="375.9" cy="1196.3" r="1.37"/><circle cx="374.0" cy="1243.7" r="1.17"/><circle cx="401.1" cy="1193.1" r="1.11"/><circle cx="364.1" cy="1235.1" r="1.35"/><circle cx="385.8" cy="1260.2" r="1.09"/><circle cx="369.5" cy="1217.1" r="1.15"/><circle cx="438.2" cy="1211.5" r="1.33"/><circle cx="383.1" cy="1243.4" r="1.03"/><circle cx="363.2" cy="1197.3" r="1.32"/><circle cx="439.1" cy="1228.1" r="1.38"/><circle cx="384.5" cy="1213.9" r="1.03"/><circle cx="422.1" cy="1218.6" r="1.40"/><circle cx="366.0" cy="1192.5" r="1.32"/><circle cx="431.3" cy="1196.9" r="1.22"/><circle cx="368.5" cy="1188.4" r="1.21"/><circle cx="387.1" cy="1195.1" r="1.25"/><circle cx="355.7" cy="1228.8" r="0.91"/><circle cx="402.9" cy="1228.5" r="1.31"/><circle cx="432.9" cy="1197.2" r="1.07"/><circle cx="417.3" cy="1179.0" r="1.19"/><circle cx="396.3" cy="1246.5" r="1.10"/><circle cx="383.5" cy="1248.1" r="1.24"/><circle cx="411.0" cy="1212.0" r="1.19"/><circle cx="417.2" cy="1222.5" r="1.34"/><circle cx="355.8" cy="1196.7" r="1.12"/><circle cx="430.5" cy="1220.5" r="1.21"/><circle cx="442.6" cy="1199.7" r="1.14"/><circle cx="381.8" cy="1227.3" r="1.24"/><circle cx="403.0" cy="1238.7" r="0.86"/><circle cx="439.4" cy="1218.9" r="0.92"/><circle cx="415.0" cy="1214.1" r="1.37"/><circle cx="404.0" cy="1224.1" r="1.28"/><circle cx="399.9" cy="1259.5" r="0.96"/><circle cx="439.5" cy="1231.0" r="1.28"/><circle cx="424.1" cy="1184.8" r="0.90"/><circle cx="368.6" cy="1187.8" r="1.13"/><circle cx="422.8" cy="1206.6" r="1.43"/><circle cx="396.3" cy="1210.6" r="0.86"/><circle cx="371.6" cy="1182.1" r="0.90"/><circle cx="381.8" cy="1256.4" r="0.95"/><circle cx="421.0" cy="1190.7" r="0.89"/><circle cx="371.7" cy="1245.7" r="1.11"/><circle cx="388.2" cy="1198.7" r="1.33"/><circle cx="371.3" cy="1247.7" r="1.23"/><circle cx="369.3" cy="1233.5" r="1.32"/><circle cx="439.3" cy="1203.1" r="1.19"/><circle cx="393.8" cy="1231.9" r="1.43"/><circle cx="384.7" cy="1175.5" r="1.05"/><circle cx="359.7" cy="1188.6" r="1.35"/><circle cx="373.8" cy="1200.4" r="1.11"/><circle cx="422.5" cy="1197.2" r="1.26"/><circle cx="360.4" cy="1190.5" r="1.33"/><circle cx="397.1" cy="1220.9" r="1.01"/><circle cx="363.3" cy="1235.5" r="1.34"/><circle cx="407.6" cy="1209.5" r="1.35"/><circle cx="415.2" cy="1176.1" r="1.19"/><circle cx="391.0" cy="1261.8" r="1.33"/><circle cx="379.0" cy="1175.6" r="1.06"/><circle cx="430.6" cy="1236.7" r="1.33"/><circle cx="411.1" cy="1257.9" r="1.41"/><circle cx="401.8" cy="1256.2" r="1.26"/><circle cx="373.2" cy="1223.0" r="1.00"/><circle cx="398.1" cy="1174.5" r="1.13"/><circle cx="435.8" cy="1240.5" r="1.31"/><circle cx="402.0" cy="1255.4" r="1.39"/><circle cx="425.7" cy="1193.7" r="1.14"/><circle cx="377.2" cy="1205.1" r="0.97"/><circle cx="415.6" cy="1255.0" r="1.07"/><circle cx="367.1" cy="1204.9" r="1.16"/><circle cx="405.6" cy="1228.1" r="1.45"/><circle cx="384.4" cy="1230.9" r="1.23"/><circle cx="403.0" cy="1196.4" r="1.21"/><circle cx="377.0" cy="1247.7" r="0.86"/><circle cx="445.4" cy="1227.6" r="1.37"/><circle cx="359.4" cy="1220.9" r="1.01"/><circle cx="404.0" cy="1184.9" r="1.42"/><circle cx="402.7" cy="1174.1" r="1.43"/><circle cx="397.5" cy="1229.8" r="0.97"/><circle cx="405.1" cy="1233.0" r="0.88"/><circle cx="354.7" cy="1201.8" r="1.12"/><circle cx="442.2" cy="1202.8" r="0.89"/><circle cx="370.7" cy="1199.0" r="0.92"/><circle cx="424.5" cy="1210.9" r="1.19"/><circle cx="367.4" cy="1181.5" r="1.25"/><circle cx="370.5" cy="1238.9" r="0.95"/><circle cx="445.4" cy="1207.6" r="0.98"/><circle cx="424.6" cy="1224.2" r="1.06"/><circle cx="436.2" cy="1191.5" r="1.35"/><circle cx="440.1" cy="1230.3" r="1.28"/><circle cx="368.4" cy="1179.9" r="0.88"/><circle cx="424.5" cy="1251.2" r="1.41"/><circle cx="384.8" cy="1192.0" r="1.20"/><circle cx="398.7" cy="1199.2" r="1.04"/><circle cx="396.9" cy="1237.5" r="1.14"/><circle cx="410.9" cy="1240.5" r="0.94"/><circle cx="394.4" cy="1210.9" r="1.28"/><circle cx="401.9" cy="1228.8" r="1.41"/><circle cx="406.5" cy="1263.3" r="1.37"/><circle cx="414.2" cy="1204.3" r="1.12"/><circle cx="436.6" cy="1244.2" r="1.36"/><circle cx="373.6" cy="1193.0" r="1.05"/><circle cx="413.7" cy="1186.3" r="1.23"/><circle cx="414.0" cy="1237.5" r="0.88"/><circle cx="389.2" cy="1181.5" r="0.94"/><circle cx="417.1" cy="1197.8" r="1.10"/><circle cx="413.6" cy="1240.6" r="1.35"/><circle cx="386.1" cy="1237.1" r="1.14"/><circle cx="378.4" cy="1259.3" r="0.92"/><circle cx="412.3" cy="1215.8" r="1.39"/><circle cx="385.3" cy="1196.1" r="1.14"/><circle cx="391.6" cy="1244.0" r="0.97"/><circle cx="365.8" cy="1253.5" r="1.45"/><circle cx="414.2" cy="1209.6" r="1.02"/><circle cx="409.5" cy="1209.0" r="1.29"/><circle cx="384.7" cy="1263.2" r="0.86"/><circle cx="408.7" cy="1189.3" r="0.93"/><circle cx="443.0" cy="1218.2" r="1.17"/><circle cx="411.3" cy="1248.6" r="1.40"/><circle cx="405.5" cy="1254.7" r="0.93"/><circle cx="416.4" cy="1256.4" r="1.28"/><circle cx="403.3" cy="1233.2" r="0.90"/><circle cx="369.6" cy="1195.3" r="1.01"/><circle cx="408.6" cy="1255.1" r="1.27"/><circle cx="412.5" cy="1182.5" r="0.97"/><circle cx="437.1" cy="1234.5" r="1.09"/><circle cx="395.2" cy="1203.8" r="1.34"/><circle cx="374.6" cy="1255.9" r="1.37"/><circle cx="389.3" cy="1218.1" r="1.40"/><circle cx="352.2" cy="1224.3" r="1.01"/><circle cx="415.5" cy="1258.3" r="1.07"/><circle cx="414.5" cy="1244.6" r="1.21"/><circle cx="434.9" cy="1218.8" r="1.12"/><circle cx="377.8" cy="1215.8" r="1.28"/><circle cx="416.5" cy="1176.7" r="1.04"/><circle cx="389.9" cy="1186.8" r="1.30"/><circle cx="440.6" cy="1234.6" r="1.42"/><circle cx="360.9" cy="1218.9" r="1.17"/><circle cx="388.5" cy="1215.5" r="1.43"/><circle cx="401.7" cy="1240.7" r="0.91"/><circle cx="397.7" cy="1261.5" r="0.87"/><circle cx="432.4" cy="1241.1" r="0.97"/><circle cx="437.0" cy="1222.0" r="1.20"/><circle cx="356.1" cy="1211.8" r="0.91"/><circle cx="426.8" cy="1187.4" r="0.88"/><circle cx="423.8" cy="1242.5" r="1.15"/><circle cx="394.1" cy="1237.1" r="1.09"/><circle cx="423.4" cy="1246.7" r="1.37"/><circle cx="421.1" cy="1247.8" r="1.30"/><circle cx="420.9" cy="1255.5" r="1.41"/><circle cx="371.8" cy="1239.0" r="1.35"/><circle cx="365.1" cy="1212.5" r="1.41"/><circle cx="403.0" cy="1187.9" r="0.99"/><circle cx="380.2" cy="1246.7" r="1.44"/><circle cx="413.6" cy="1174.4" r="1.34"/><circle cx="406.0" cy="1206.3" r="1.16"/><circle cx="443.6" cy="1205.6" r="1.00"/><circle cx="362.2" cy="1236.2" r="1.07"/><circle cx="382.2" cy="1214.7" r="1.11"/><circle cx="388.2" cy="1217.4" r="0.93"/><circle cx="441.0" cy="1209.6" r="1.41"/><circle cx="367.9" cy="1185.3" r="1.38"/><circle cx="406.7" cy="1210.0" r="1.23"/><circle cx="393.7" cy="1258.0" r="1.01"/><circle cx="352.2" cy="1205.6" r="1.22"/><circle cx="397.7" cy="1254.0" r="1.11"/><circle cx="425.4" cy="1209.1" r="1.03"/><circle cx="385.7" cy="1202.0" r="1.21"/><circle cx="433.3" cy="1207.9" r="1.01"/><circle cx="361.1" cy="1225.4" r="0.94"/><circle cx="412.6" cy="1232.0" r="1.03"/><circle cx="373.7" cy="1233.4" r="1.00"/><circle cx="430.1" cy="1237.1" r="1.35"/><circle cx="368.1" cy="1193.7" r="1.24"/></g>
<ellipse cx="520.8" cy="1268.1" rx="46.9" ry="15.6" fill="#c6c6c6" filter="url(#soft2)"/>
<ellipse cx="514.8" cy="1222.1" rx="55.2" ry="52.0" fill="url(#cg3)" stroke="#a6a6a6" stroke-width="1.4"/>
<ellipse cx="514.8" cy="1222.1" rx="51.7" ry="48.5" fill="none" stroke="#b8b8b8" stroke-width="1"/>
<g fill="#2c2c2c" fill-opacity="0.75"><circle cx="527.8" cy="1260.7" r="1.03"/><circle cx="476.2" cy="1210.8" r="1.03"/><circle cx="504.6" cy="1246.1" r="0.91"/><circle cx="481.7" cy="1219.7" r="1.09"/><circle cx="546.8" cy="1224.4" r="1.23"/><circle cx="517.6" cy="1258.6" r="1.05"/><circle cx="504.1" cy="1267.5" r="0.95"/><circle cx="518.0" cy="1200.7" r="0.83"/><circle cx="539.1" cy="1198.1" r="0.83"/><circle cx="488.0" cy="1243.6" r="1.17"/><circle cx="535.3" cy="1238.0" r="1.28"/><circle cx="513.2" cy="1200.8" r="0.97"/><circle cx="489.5" cy="1253.8" r="1.11"/><circle cx="541.7" cy="1187.2" r="1.06"/><circle cx="511.7" cy="1180.9" r="1.18"/><circle cx="470.5" cy="1228.7" r="1.15"/><circle cx="532.8" cy="1212.0" r="1.24"/><circle cx="559.2" cy="1223.2" r="1.09"/><circle cx="465.9" cy="1222.7" r="1.09"/><circle cx="475.8" cy="1242.9" r="1.24"/><circle cx="489.0" cy="1202.6" r="1.03"/><circle cx="473.0" cy="1232.8" r="0.95"/><circle cx="484.8" cy="1245.3" r="0.99"/><circle cx="495.2" cy="1260.2" r="1.22"/><circle cx="479.5" cy="1222.2" r="0.89"/><circle cx="507.4" cy="1241.7" r="1.09"/><circle cx="499.2" cy="1213.8" r="1.26"/><circle cx="494.1" cy="1261.1" r="1.22"/><circle cx="539.4" cy="1215.9" r="1.01"/><circle cx="521.1" cy="1218.4" r="0.82"/><circle cx="480.8" cy="1208.3" r="1.26"/><circle cx="520.4" cy="1186.4" r="1.30"/><circle cx="477.4" cy="1218.2" r="1.14"/><circle cx="490.0" cy="1241.5" r="1.10"/><circle cx="486.0" cy="1258.9" r="1.14"/><circle cx="496.2" cy="1219.3" r="0.99"/><circle cx="483.1" cy="1243.5" r="1.09"/><circle cx="550.4" cy="1190.5" r="1.04"/><circle cx="476.9" cy="1236.2" r="1.30"/><circle cx="493.8" cy="1252.0" r="1.21"/><circle cx="529.5" cy="1247.5" r="1.29"/><circle cx="532.1" cy="1190.7" r="0.86"/><circle cx="548.3" cy="1197.5" r="1.21"/><circle cx="562.0" cy="1219.4" r="1.01"/><circle cx="531.2" cy="1245.2" r="1.06"/><circle cx="490.2" cy="1221.4" r="0.89"/><circle cx="487.3" cy="1194.5" r="0.98"/><circle cx="555.9" cy="1220.6" r="0.82"/><circle cx="476.6" cy="1244.5" r="0.95"/><circle cx="513.0" cy="1217.9" r="0.95"/><circle cx="536.5" cy="1190.8" r="1.13"/><circle cx="527.0" cy="1255.1" r="1.08"/><circle cx="510.6" cy="1260.9" r="1.07"/><circle cx="554.2" cy="1221.4" r="1.01"/><circle cx="531.3" cy="1237.0" r="1.18"/><circle cx="529.6" cy="1233.2" r="0.89"/><circle cx="469.5" cy="1216.0" r="1.11"/><circle cx="520.2" cy="1208.4" r="0.81"/><circle cx="518.8" cy="1193.2" r="1.16"/><circle cx="500.5" cy="1239.7" r="0.93"/><circle cx="553.4" cy="1248.3" r="1.09"/><circle cx="494.1" cy="1249.3" r="0.99"/><circle cx="559.4" cy="1237.1" r="1.09"/><circle cx="548.9" cy="1213.8" r="1.11"/><circle cx="514.9" cy="1234.7" r="1.27"/><circle cx="533.5" cy="1199.3" r="1.25"/><circle cx="526.9" cy="1196.1" r="1.10"/><circle cx="550.6" cy="1213.4" r="1.27"/><circle cx="516.3" cy="1253.6" r="1.16"/><circle cx="520.2" cy="1250.2" r="1.24"/><circle cx="470.0" cy="1226.3" r="0.92"/><circle cx="529.7" cy="1249.1" r="0.89"/><circle cx="543.9" cy="1217.1" r="1.08"/><circle cx="543.4" cy="1245.9" r="0.99"/><circle cx="501.8" cy="1230.6" r="0.86"/><circle cx="529.5" cy="1195.3" r="0.92"/><circle cx="525.4" cy="1247.8" r="0.92"/><circle cx="555.6" cy="1230.7" r="0.97"/><circle cx="538.7" cy="1255.7" r="0.85"/><circle cx="509.1" cy="1265.2" r="0.86"/><circle cx="471.6" cy="1237.2" r="1.20"/><circle cx="532.1" cy="1247.5" r="1.16"/><circle cx="479.9" cy="1254.2" r="0.90"/><circle cx="550.3" cy="1211.4" r="0.91"/><circle cx="494.6" cy="1227.9" r="1.15"/><circle cx="511.6" cy="1266.8" r="1.09"/><circle cx="496.2" cy="1241.3" r="1.10"/><circle cx="525.7" cy="1265.1" r="0.86"/><circle cx="476.5" cy="1219.1" r="0.94"/><circle cx="519.3" cy="1191.1" r="1.13"/><circle cx="487.1" cy="1210.3" r="0.99"/><circle cx="535.4" cy="1233.7" r="1.23"/><circle cx="496.8" cy="1257.6" r="0.85"/><circle cx="484.8" cy="1210.5" r="1.05"/><circle cx="510.2" cy="1236.4" r="0.96"/><circle cx="517.9" cy="1241.5" r="1.16"/><circle cx="507.9" cy="1253.4" r="1.25"/><circle cx="522.2" cy="1178.2" r="1.23"/><circle cx="534.3" cy="1242.2" r="0.81"/><circle cx="496.9" cy="1186.5" r="0.98"/></g>
</g>
<g filter="url(#softD)">
<rect x="958.7" y="1159.8" width="356.4" height="115.9" fill="#e3e3e3"/>
<ellipse cx="1020.3" cy="1215.6" rx="56.8" ry="54.6" fill="#f4f4f4" stroke="#1e1e1e" stroke-width="2.6"/>
<g fill="#6e6e6e" fill-opacity="0.9"><circle cx="1006.6" cy="1247.5" r="1.25"/><circle cx="1050.7" cy="1249.2" r="0.91"/><circle cx="1013.4" cy="1172.9" r="0.78"/><circle cx="1028.5" cy="1242.5" r="1.46"/><circle cx="991.9" cy="1234.1" r="1.64"/><circle cx="1024.8" cy="1243.9" r="1.01"/><circle cx="1022.7" cy="1226.0" r="0.63"/><circle cx="992.0" cy="1186.5" r="1.57"/><circle cx="1050.0" cy="1211.2" r="1.40"/><circle cx="1042.7" cy="1203.6" r="1.43"/><circle cx="993.4" cy="1170.8" r="1.64"/><circle cx="1024.5" cy="1257.5" r="0.71"/><circle cx="989.3" cy="1230.2" r="0.67"/><circle cx="996.8" cy="1235.9" r="1.20"/><circle cx="1016.2" cy="1236.3" r="1.08"/><circle cx="998.1" cy="1219.0" r="1.40"/><circle cx="1021.4" cy="1231.7" r="1.01"/><circle cx="1001.4" cy="1225.2" r="1.30"/><circle cx="1008.0" cy="1178.0" r="1.44"/><circle cx="1054.4" cy="1220.4" r="1.04"/><circle cx="1052.6" cy="1228.6" r="0.67"/><circle cx="978.1" cy="1216.7" r="1.16"/><circle cx="1007.6" cy="1239.3" r="0.63"/><circle cx="990.5" cy="1256.6" r="1.28"/><circle cx="1016.9" cy="1258.8" r="0.82"/><circle cx="977.9" cy="1223.6" r="1.75"/><circle cx="993.1" cy="1246.1" r="1.73"/><circle cx="1026.2" cy="1174.0" r="1.34"/><circle cx="990.2" cy="1233.7" r="0.93"/><circle cx="1045.1" cy="1172.0" r="1.06"/><circle cx="1029.4" cy="1210.0" r="0.76"/><circle cx="989.7" cy="1214.3" r="1.03"/><circle cx="1041.4" cy="1212.6" r="0.83"/><circle cx="1026.4" cy="1258.9" r="0.88"/><circle cx="1060.9" cy="1215.8" r="1.07"/><circle cx="1022.9" cy="1252.7" r="1.38"/><circle cx="978.7" cy="1203.1" r="1.27"/><circle cx="1046.8" cy="1170.1" r="1.00"/><circle cx="990.7" cy="1256.5" r="0.98"/><circle cx="1010.5" cy="1172.4" r="1.42"/><circle cx="1069.0" cy="1204.8" r="0.79"/><circle cx="992.4" cy="1189.9" r="1.28"/><circle cx="1000.2" cy="1236.3" r="1.50"/><circle cx="994.1" cy="1210.1" r="0.90"/><circle cx="1009.8" cy="1235.5" r="1.22"/><circle cx="1030.0" cy="1225.1" r="0.68"/><circle cx="1057.3" cy="1242.2" r="0.74"/><circle cx="974.1" cy="1229.5" r="1.18"/><circle cx="1047.1" cy="1257.6" r="1.64"/><circle cx="1046.5" cy="1224.4" r="1.21"/><circle cx="1030.2" cy="1183.8" r="1.46"/><circle cx="1019.8" cy="1260.4" r="0.99"/><circle cx="996.2" cy="1255.5" r="1.61"/><circle cx="1040.0" cy="1180.5" r="1.10"/><circle cx="1008.7" cy="1175.3" r="1.60"/><circle cx="1026.5" cy="1197.8" r="1.05"/><circle cx="1007.4" cy="1193.3" r="0.82"/><circle cx="1062.3" cy="1219.1" r="1.73"/><circle cx="1040.1" cy="1212.0" r="1.43"/><circle cx="982.0" cy="1236.0" r="1.08"/><circle cx="1070.4" cy="1194.2" r="0.66"/><circle cx="1016.0" cy="1197.9" r="0.65"/><circle cx="1009.7" cy="1259.7" r="1.79"/><circle cx="1043.4" cy="1236.4" r="0.63"/><circle cx="983.4" cy="1205.9" r="1.05"/><circle cx="1002.4" cy="1259.7" r="1.61"/><circle cx="1013.0" cy="1248.0" r="1.34"/><circle cx="1025.6" cy="1163.4" r="1.07"/><circle cx="1006.3" cy="1178.9" r="1.56"/><circle cx="1034.2" cy="1233.3" r="0.73"/><circle cx="1045.6" cy="1204.8" r="1.19"/><circle cx="1043.1" cy="1236.3" r="0.62"/><circle cx="1001.2" cy="1207.5" r="1.35"/><circle cx="1016.3" cy="1240.6" r="1.18"/><circle cx="1001.6" cy="1235.7" r="0.66"/><circle cx="1068.2" cy="1235.3" r="0.97"/><circle cx="1041.0" cy="1226.3" r="1.18"/><circle cx="1045.1" cy="1215.2" r="1.64"/><circle cx="985.0" cy="1219.0" r="1.57"/><circle cx="1009.8" cy="1223.3" r="1.26"/><circle cx="996.3" cy="1180.7" r="0.93"/><circle cx="1067.8" cy="1197.1" r="1.79"/><circle cx="973.2" cy="1232.5" r="1.47"/><circle cx="1024.4" cy="1223.3" r="0.80"/><circle cx="1031.4" cy="1225.4" r="1.03"/><circle cx="1021.0" cy="1186.1" r="1.22"/><circle cx="1045.5" cy="1217.2" r="1.75"/><circle cx="1060.2" cy="1218.3" r="1.57"/><circle cx="1032.7" cy="1171.8" r="1.08"/><circle cx="1036.7" cy="1170.1" r="1.52"/><circle cx="1037.7" cy="1214.1" r="1.74"/><circle cx="982.5" cy="1241.2" r="0.90"/><circle cx="1027.4" cy="1211.2" r="1.29"/><circle cx="1025.2" cy="1248.3" r="1.04"/><circle cx="992.9" cy="1175.8" r="1.04"/><circle cx="999.1" cy="1191.6" r="0.94"/><circle cx="1046.2" cy="1198.7" r="0.71"/><circle cx="996.2" cy="1254.9" r="0.85"/><circle cx="1018.6" cy="1176.5" r="1.42"/><circle cx="1028.2" cy="1231.1" r="0.77"/><circle cx="999.0" cy="1243.7" r="0.61"/><circle cx="985.3" cy="1215.1" r="0.99"/><circle cx="968.0" cy="1203.6" r="0.85"/><circle cx="1043.1" cy="1195.1" r="1.50"/><circle cx="1062.8" cy="1248.7" r="1.12"/><circle cx="1045.4" cy="1209.8" r="1.09"/><circle cx="1014.0" cy="1194.1" r="0.93"/><circle cx="996.6" cy="1169.3" r="0.99"/><circle cx="1033.7" cy="1244.5" r="1.79"/><circle cx="1046.5" cy="1249.4" r="1.05"/><circle cx="1004.6" cy="1196.4" r="1.34"/><circle cx="1059.1" cy="1183.8" r="1.35"/><circle cx="978.8" cy="1214.4" r="0.74"/><circle cx="1044.2" cy="1178.1" r="1.14"/><circle cx="1002.2" cy="1186.0" r="1.06"/><circle cx="1025.6" cy="1256.3" r="1.29"/><circle cx="1010.5" cy="1214.7" r="1.35"/><circle cx="980.2" cy="1229.0" r="1.31"/><circle cx="1039.8" cy="1207.0" r="1.16"/><circle cx="1067.6" cy="1213.6" r="0.98"/><circle cx="1015.7" cy="1163.1" r="1.08"/><circle cx="1033.5" cy="1201.7" r="1.79"/><circle cx="993.7" cy="1217.0" r="1.61"/><circle cx="988.7" cy="1174.3" r="1.60"/><circle cx="1031.9" cy="1179.4" r="1.79"/><circle cx="1067.5" cy="1235.2" r="1.45"/><circle cx="1020.1" cy="1263.2" r="1.14"/><circle cx="970.4" cy="1204.5" r="0.84"/><circle cx="1012.1" cy="1257.4" r="0.69"/><circle cx="974.3" cy="1199.7" r="1.19"/><circle cx="1022.8" cy="1262.9" r="1.63"/><circle cx="1025.6" cy="1176.7" r="1.69"/><circle cx="1026.5" cy="1195.9" r="1.04"/><circle cx="1028.8" cy="1221.6" r="1.01"/><circle cx="1053.5" cy="1179.3" r="0.74"/><circle cx="1034.6" cy="1245.6" r="1.62"/><circle cx="981.5" cy="1181.9" r="0.69"/><circle cx="1045.3" cy="1213.8" r="1.36"/><circle cx="1053.9" cy="1184.0" r="0.84"/><circle cx="1002.6" cy="1185.3" r="0.62"/><circle cx="1003.8" cy="1240.8" r="1.36"/><circle cx="1012.7" cy="1256.1" r="1.43"/><circle cx="1028.6" cy="1232.8" r="1.43"/><circle cx="1000.9" cy="1219.6" r="0.74"/><circle cx="1060.4" cy="1200.6" r="1.03"/><circle cx="1038.5" cy="1265.4" r="1.43"/><circle cx="1017.4" cy="1183.9" r="0.97"/><circle cx="1002.6" cy="1226.6" r="1.36"/><circle cx="975.9" cy="1237.4" r="1.09"/><circle cx="982.5" cy="1225.7" r="1.73"/><circle cx="994.0" cy="1252.1" r="0.88"/><circle cx="994.5" cy="1202.1" r="1.65"/><circle cx="1008.7" cy="1263.3" r="1.41"/><circle cx="969.2" cy="1229.9" r="1.07"/><circle cx="1018.5" cy="1174.6" r="1.14"/><circle cx="1053.1" cy="1229.1" r="0.94"/><circle cx="970.1" cy="1234.4" r="0.95"/><circle cx="1005.0" cy="1174.8" r="0.89"/><circle cx="1003.3" cy="1225.8" r="1.67"/><circle cx="1019.9" cy="1249.9" r="1.01"/><circle cx="1042.1" cy="1171.5" r="1.31"/><circle cx="1003.6" cy="1210.8" r="1.68"/><circle cx="1048.5" cy="1232.4" r="1.05"/><circle cx="1012.7" cy="1172.9" r="1.01"/><circle cx="1063.3" cy="1184.7" r="0.63"/><circle cx="995.0" cy="1188.7" r="1.03"/><circle cx="990.1" cy="1222.1" r="1.41"/><circle cx="977.5" cy="1183.5" r="1.77"/><circle cx="1054.9" cy="1214.1" r="1.59"/><circle cx="993.2" cy="1179.7" r="1.80"/><circle cx="1054.5" cy="1230.2" r="1.08"/><circle cx="1006.0" cy="1195.1" r="1.79"/><circle cx="1028.8" cy="1246.8" r="0.77"/><circle cx="982.9" cy="1243.6" r="0.70"/><circle cx="1042.4" cy="1252.6" r="1.35"/><circle cx="1018.9" cy="1189.0" r="1.57"/><circle cx="1014.5" cy="1169.3" r="0.74"/><circle cx="1013.5" cy="1216.9" r="1.63"/><circle cx="1069.3" cy="1198.5" r="0.63"/><circle cx="996.4" cy="1246.8" r="1.24"/><circle cx="1057.8" cy="1245.9" r="0.96"/><circle cx="1000.9" cy="1214.7" r="1.28"/><circle cx="1031.5" cy="1227.1" r="1.21"/><circle cx="1007.0" cy="1260.5" r="0.90"/><circle cx="1009.3" cy="1222.0" r="0.86"/><circle cx="981.0" cy="1227.4" r="1.15"/><circle cx="1030.8" cy="1201.8" r="1.62"/><circle cx="1050.8" cy="1258.7" r="1.23"/><circle cx="984.4" cy="1238.6" r="1.64"/><circle cx="1054.8" cy="1207.9" r="0.61"/><circle cx="1048.6" cy="1255.0" r="1.48"/><circle cx="1015.2" cy="1195.2" r="1.24"/><circle cx="1038.3" cy="1218.7" r="0.96"/><circle cx="1063.5" cy="1206.6" r="1.62"/><circle cx="1054.4" cy="1225.4" r="0.69"/><circle cx="1019.0" cy="1233.3" r="1.70"/><circle cx="1002.0" cy="1248.2" r="1.38"/><circle cx="1060.9" cy="1181.9" r="1.28"/><circle cx="967.9" cy="1215.3" r="1.07"/><circle cx="1005.8" cy="1259.0" r="0.91"/><circle cx="995.9" cy="1241.2" r="1.17"/><circle cx="997.5" cy="1242.6" r="1.14"/><circle cx="1068.2" cy="1230.4" r="0.67"/><circle cx="980.2" cy="1208.8" r="1.08"/><circle cx="1023.3" cy="1232.0" r="1.05"/><circle cx="1005.2" cy="1249.5" r="0.88"/><circle cx="1020.2" cy="1178.6" r="0.61"/><circle cx="975.2" cy="1244.4" r="0.61"/><circle cx="975.3" cy="1186.9" r="1.04"/><circle cx="993.0" cy="1197.0" r="0.96"/><circle cx="987.6" cy="1189.8" r="0.98"/><circle cx="980.7" cy="1216.2" r="1.50"/><circle cx="1036.2" cy="1220.9" r="0.90"/><circle cx="1014.1" cy="1262.5" r="1.11"/><circle cx="1042.6" cy="1189.7" r="0.94"/><circle cx="1013.4" cy="1201.6" r="1.78"/><circle cx="1035.8" cy="1189.2" r="0.98"/><circle cx="1041.0" cy="1173.0" r="1.37"/><circle cx="1065.4" cy="1231.8" r="0.66"/><circle cx="991.3" cy="1187.8" r="1.71"/><circle cx="1015.0" cy="1209.5" r="1.72"/><circle cx="1021.0" cy="1175.3" r="0.61"/><circle cx="1017.4" cy="1181.5" r="1.42"/><circle cx="1072.8" cy="1210.4" r="0.69"/><circle cx="1027.5" cy="1181.1" r="1.50"/><circle cx="993.8" cy="1240.2" r="1.12"/><circle cx="1043.3" cy="1235.8" r="1.48"/><circle cx="1037.2" cy="1223.4" r="1.60"/><circle cx="999.8" cy="1181.7" r="0.74"/><circle cx="1042.9" cy="1235.6" r="1.74"/><circle cx="971.1" cy="1196.8" r="0.85"/><circle cx="985.6" cy="1235.4" r="1.61"/><circle cx="1057.1" cy="1250.2" r="1.17"/><circle cx="1055.8" cy="1222.4" r="1.05"/><circle cx="996.0" cy="1170.2" r="1.19"/><circle cx="1007.6" cy="1185.0" r="1.53"/><circle cx="1057.8" cy="1243.6" r="0.80"/><circle cx="999.0" cy="1203.4" r="1.02"/><circle cx="1037.1" cy="1242.4" r="1.31"/><circle cx="986.2" cy="1211.5" r="1.29"/><circle cx="1038.4" cy="1189.1" r="1.30"/><circle cx="966.2" cy="1222.0" r="0.99"/><circle cx="1011.7" cy="1191.4" r="0.91"/><circle cx="1015.2" cy="1175.7" r="0.91"/><circle cx="1066.3" cy="1234.5" r="1.05"/><circle cx="1012.7" cy="1181.5" r="1.34"/><circle cx="969.6" cy="1196.5" r="1.69"/><circle cx="983.3" cy="1225.7" r="0.88"/><circle cx="1020.6" cy="1198.7" r="0.97"/><circle cx="1026.2" cy="1207.5" r="1.44"/><circle cx="983.1" cy="1199.3" r="1.00"/><circle cx="1051.5" cy="1257.7" r="1.52"/><circle cx="1026.2" cy="1200.1" r="1.54"/><circle cx="1025.1" cy="1238.8" r="1.24"/><circle cx="1005.5" cy="1203.9" r="1.52"/><circle cx="974.9" cy="1190.7" r="1.71"/><circle cx="1007.9" cy="1185.9" r="1.74"/><circle cx="1014.5" cy="1187.6" r="1.63"/><circle cx="1016.2" cy="1188.6" r="0.90"/><circle cx="1060.4" cy="1220.5" r="0.90"/><circle cx="1012.9" cy="1241.3" r="0.76"/><circle cx="991.7" cy="1218.2" r="0.94"/><circle cx="1013.5" cy="1252.8" r="1.65"/><circle cx="1047.6" cy="1257.1" r="1.63"/><circle cx="988.9" cy="1190.8" r="1.48"/><circle cx="976.6" cy="1206.3" r="1.70"/><circle cx="1024.7" cy="1188.9" r="0.67"/><circle cx="1050.9" cy="1203.2" r="1.54"/><circle cx="1024.2" cy="1251.0" r="1.04"/><circle cx="1013.3" cy="1164.6" r="1.21"/><circle cx="990.5" cy="1203.0" r="0.88"/><circle cx="1037.7" cy="1210.2" r="1.73"/><circle cx="1012.2" cy="1203.8" r="1.68"/><circle cx="1053.5" cy="1239.4" r="0.74"/><circle cx="1050.9" cy="1213.5" r="1.65"/><circle cx="1062.0" cy="1231.9" r="0.68"/><circle cx="1061.2" cy="1223.0" r="1.78"/><circle cx="1000.1" cy="1170.6" r="1.54"/><circle cx="1005.1" cy="1213.6" r="1.23"/><circle cx="1036.3" cy="1250.8" r="1.03"/><circle cx="995.8" cy="1215.7" r="1.45"/><circle cx="987.0" cy="1233.9" r="0.69"/><circle cx="979.3" cy="1218.8" r="1.77"/><circle cx="1001.6" cy="1208.3" r="0.96"/><circle cx="996.6" cy="1253.7" r="1.73"/><circle cx="1073.4" cy="1207.9" r="1.71"/><circle cx="1053.9" cy="1175.9" r="0.62"/><circle cx="978.0" cy="1218.2" r="1.42"/></g>
<g fill="#2e2e2e" fill-opacity="0.9"><circle cx="980.9" cy="1227.3" r="1.71"/><circle cx="981.9" cy="1223.7" r="1.30"/><circle cx="1036.0" cy="1250.3" r="1.36"/><circle cx="1024.8" cy="1199.9" r="0.96"/><circle cx="1062.0" cy="1241.3" r="1.43"/><circle cx="1073.0" cy="1229.3" r="1.76"/><circle cx="995.8" cy="1181.4" r="0.79"/><circle cx="1060.2" cy="1219.2" r="0.67"/><circle cx="1030.2" cy="1239.8" r="0.64"/><circle cx="984.7" cy="1223.5" r="1.61"/><circle cx="976.5" cy="1210.5" r="1.20"/><circle cx="1000.8" cy="1185.1" r="0.93"/><circle cx="1075.3" cy="1214.8" r="1.61"/><circle cx="1012.2" cy="1186.9" r="0.88"/><circle cx="1016.8" cy="1229.2" r="1.52"/><circle cx="979.2" cy="1244.1" r="1.06"/><circle cx="1069.3" cy="1202.9" r="0.60"/><circle cx="1033.5" cy="1264.5" r="1.16"/><circle cx="1054.8" cy="1211.5" r="0.69"/><circle cx="986.9" cy="1181.6" r="0.92"/><circle cx="1047.4" cy="1231.5" r="1.76"/><circle cx="1021.3" cy="1197.4" r="0.90"/><circle cx="1031.2" cy="1223.3" r="1.56"/><circle cx="1038.4" cy="1251.2" r="1.14"/><circle cx="1037.5" cy="1257.8" r="0.76"/><circle cx="1008.7" cy="1201.4" r="1.10"/><circle cx="1026.9" cy="1242.4" r="1.77"/><circle cx="1030.3" cy="1188.0" r="1.66"/><circle cx="1028.8" cy="1247.8" r="1.63"/><circle cx="1009.3" cy="1202.6" r="1.79"/><circle cx="1026.7" cy="1241.8" r="1.53"/><circle cx="1006.0" cy="1241.0" r="0.69"/><circle cx="1055.8" cy="1237.3" r="0.89"/><circle cx="993.3" cy="1196.4" r="1.14"/><circle cx="1057.4" cy="1206.2" r="1.29"/><circle cx="1036.0" cy="1198.8" r="0.78"/><circle cx="1062.1" cy="1189.5" r="0.90"/><circle cx="1037.8" cy="1257.9" r="1.73"/><circle cx="1038.0" cy="1264.3" r="1.66"/><circle cx="991.8" cy="1194.8" r="0.72"/><circle cx="1072.8" cy="1228.1" r="0.89"/><circle cx="1012.4" cy="1189.8" r="1.59"/><circle cx="995.8" cy="1199.3" r="0.81"/><circle cx="1017.6" cy="1202.0" r="0.87"/><circle cx="972.9" cy="1197.8" r="1.34"/><circle cx="1010.3" cy="1265.4" r="0.84"/><circle cx="1048.7" cy="1218.5" r="1.13"/><circle cx="1041.8" cy="1223.8" r="1.04"/><circle cx="1002.3" cy="1207.2" r="1.03"/><circle cx="1062.5" cy="1182.4" r="1.39"/><circle cx="1005.1" cy="1177.8" r="0.77"/><circle cx="1027.5" cy="1217.1" r="1.69"/><circle cx="1003.9" cy="1166.1" r="0.63"/><circle cx="995.2" cy="1187.8" r="1.48"/><circle cx="997.2" cy="1263.7" r="0.69"/><circle cx="975.0" cy="1202.6" r="1.68"/><circle cx="1016.6" cy="1171.3" r="1.55"/><circle cx="1048.4" cy="1199.6" r="1.42"/><circle cx="1062.1" cy="1186.8" r="1.10"/><circle cx="1033.2" cy="1168.0" r="1.29"/><circle cx="996.2" cy="1192.4" r="1.30"/><circle cx="1008.2" cy="1206.1" r="1.37"/><circle cx="1071.9" cy="1213.5" r="1.47"/><circle cx="984.2" cy="1244.9" r="1.30"/><circle cx="973.3" cy="1233.3" r="0.70"/><circle cx="1020.3" cy="1206.5" r="1.32"/><circle cx="994.1" cy="1218.6" r="1.44"/><circle cx="977.1" cy="1216.3" r="1.70"/><circle cx="1020.1" cy="1221.2" r="0.96"/><circle cx="1009.5" cy="1194.2" r="0.80"/><circle cx="1057.4" cy="1191.6" r="1.13"/><circle cx="1044.8" cy="1196.6" r="1.40"/><circle cx="1031.8" cy="1248.6" r="1.57"/><circle cx="1064.7" cy="1190.1" r="1.06"/><circle cx="993.4" cy="1200.7" r="0.76"/><circle cx="969.9" cy="1216.7" r="1.62"/><circle cx="1007.3" cy="1165.5" r="0.93"/><circle cx="1038.3" cy="1246.7" r="0.93"/><circle cx="1028.2" cy="1248.8" r="1.35"/><circle cx="989.4" cy="1216.7" r="1.61"/><circle cx="1057.1" cy="1211.6" r="0.69"/><circle cx="1070.8" cy="1225.3" r="0.65"/><circle cx="1009.6" cy="1176.9" r="0.97"/><circle cx="1022.3" cy="1208.5" r="0.76"/><circle cx="1012.0" cy="1217.9" r="1.60"/><circle cx="1021.9" cy="1235.4" r="0.66"/><circle cx="995.0" cy="1189.9" r="1.36"/><circle cx="992.5" cy="1176.2" r="1.75"/><circle cx="1010.5" cy="1193.9" r="1.17"/><circle cx="1022.8" cy="1220.6" r="1.17"/><circle cx="1015.1" cy="1193.8" r="0.93"/><circle cx="994.3" cy="1252.1" r="1.22"/><circle cx="984.3" cy="1185.3" r="1.07"/><circle cx="1034.0" cy="1166.9" r="0.70"/><circle cx="1063.0" cy="1197.1" r="0.76"/><circle cx="978.6" cy="1227.7" r="1.69"/><circle cx="990.6" cy="1243.5" r="1.66"/><circle cx="1035.8" cy="1166.3" r="1.16"/><circle cx="1005.8" cy="1196.1" r="1.47"/><circle cx="1038.7" cy="1177.0" r="1.46"/><circle cx="1032.2" cy="1264.5" r="1.78"/><circle cx="1060.3" cy="1210.1" r="1.55"/><circle cx="997.8" cy="1261.3" r="1.63"/><circle cx="1011.1" cy="1228.0" r="1.13"/><circle cx="974.4" cy="1201.2" r="1.18"/><circle cx="1069.1" cy="1224.1" r="0.68"/><circle cx="1027.4" cy="1194.6" r="1.00"/><circle cx="1025.2" cy="1196.3" r="0.78"/><circle cx="973.7" cy="1210.9" r="1.61"/><circle cx="1000.4" cy="1167.8" r="1.19"/><circle cx="1035.6" cy="1210.7" r="0.87"/><circle cx="991.0" cy="1210.8" r="1.47"/><circle cx="994.7" cy="1186.3" r="1.61"/><circle cx="991.7" cy="1204.7" r="1.06"/><circle cx="1049.8" cy="1174.1" r="0.85"/><circle cx="1052.4" cy="1173.6" r="1.23"/><circle cx="998.2" cy="1205.1" r="1.24"/><circle cx="977.4" cy="1214.8" r="0.63"/><circle cx="1059.1" cy="1208.3" r="1.08"/><circle cx="1033.3" cy="1177.9" r="1.19"/><circle cx="1015.2" cy="1202.9" r="1.25"/><circle cx="974.1" cy="1242.3" r="1.71"/><circle cx="1015.7" cy="1251.8" r="0.75"/><circle cx="974.8" cy="1235.0" r="1.68"/><circle cx="989.6" cy="1220.0" r="0.83"/><circle cx="981.2" cy="1181.2" r="0.76"/><circle cx="1021.8" cy="1207.7" r="0.83"/><circle cx="1026.8" cy="1259.1" r="0.99"/><circle cx="993.6" cy="1248.5" r="0.73"/><circle cx="1018.0" cy="1197.2" r="1.21"/><circle cx="1020.2" cy="1239.2" r="1.24"/><circle cx="989.2" cy="1228.2" r="1.10"/><circle cx="998.7" cy="1211.7" r="0.85"/><circle cx="990.4" cy="1184.5" r="1.24"/><circle cx="1045.9" cy="1182.3" r="1.63"/><circle cx="1025.5" cy="1260.9" r="1.57"/><circle cx="1045.7" cy="1198.5" r="0.98"/><circle cx="1043.1" cy="1204.1" r="1.80"/><circle cx="1035.6" cy="1203.0" r="0.89"/><circle cx="1016.2" cy="1188.9" r="0.72"/><circle cx="1038.0" cy="1185.7" r="1.55"/><circle cx="1044.9" cy="1239.5" r="1.42"/><circle cx="1044.8" cy="1218.2" r="1.42"/><circle cx="1066.3" cy="1188.1" r="0.74"/><circle cx="972.4" cy="1214.0" r="1.20"/><circle cx="1010.9" cy="1194.4" r="0.68"/><circle cx="1028.7" cy="1221.9" r="1.26"/><circle cx="978.9" cy="1211.9" r="0.78"/><circle cx="1030.2" cy="1237.5" r="1.61"/><circle cx="1073.2" cy="1212.5" r="0.71"/><circle cx="1070.0" cy="1235.2" r="1.15"/><circle cx="1023.2" cy="1185.5" r="1.16"/><circle cx="984.3" cy="1212.3" r="1.32"/><circle cx="1066.3" cy="1219.3" r="1.61"/><circle cx="1035.8" cy="1248.0" r="1.49"/><circle cx="1000.1" cy="1228.7" r="0.80"/><circle cx="1013.5" cy="1215.1" r="1.67"/><circle cx="1035.1" cy="1173.5" r="1.63"/><circle cx="996.2" cy="1191.1" r="1.32"/><circle cx="965.7" cy="1214.2" r="1.57"/><circle cx="1017.6" cy="1266.1" r="1.49"/><circle cx="1029.0" cy="1168.5" r="1.09"/><circle cx="1061.4" cy="1185.5" r="1.43"/><circle cx="1025.5" cy="1169.5" r="1.09"/><circle cx="1017.8" cy="1201.7" r="1.01"/><circle cx="1014.7" cy="1216.7" r="1.03"/><circle cx="992.3" cy="1183.6" r="0.88"/><circle cx="1062.6" cy="1200.9" r="1.01"/><circle cx="998.0" cy="1181.9" r="1.24"/><circle cx="977.9" cy="1249.5" r="1.37"/><circle cx="1005.8" cy="1171.5" r="1.78"/><circle cx="1063.1" cy="1221.5" r="1.49"/><circle cx="1018.8" cy="1249.1" r="0.66"/><circle cx="1031.6" cy="1246.2" r="0.72"/><circle cx="1020.0" cy="1266.0" r="1.26"/><circle cx="966.2" cy="1213.0" r="1.28"/><circle cx="1064.3" cy="1214.3" r="1.57"/><circle cx="1058.1" cy="1234.5" r="1.51"/><circle cx="1071.3" cy="1229.9" r="0.79"/><circle cx="998.0" cy="1219.4" r="1.19"/><circle cx="1010.1" cy="1207.4" r="1.73"/><circle cx="985.2" cy="1234.0" r="1.32"/><circle cx="1000.7" cy="1236.8" r="1.39"/><circle cx="993.1" cy="1205.1" r="1.46"/><circle cx="1018.4" cy="1221.6" r="0.89"/><circle cx="1041.3" cy="1221.2" r="1.51"/><circle cx="980.1" cy="1247.6" r="1.50"/><circle cx="1072.4" cy="1231.9" r="1.73"/><circle cx="1067.2" cy="1238.1" r="1.12"/><circle cx="966.5" cy="1222.9" r="0.89"/><circle cx="967.5" cy="1208.1" r="1.47"/><circle cx="966.9" cy="1226.0" r="1.58"/><circle cx="1005.4" cy="1204.7" r="1.35"/><circle cx="996.4" cy="1222.2" r="0.66"/><circle cx="1001.2" cy="1212.3" r="1.13"/><circle cx="1002.0" cy="1184.5" r="0.91"/><circle cx="989.3" cy="1198.7" r="1.53"/><circle cx="966.3" cy="1205.4" r="1.74"/><circle cx="1017.6" cy="1189.9" r="0.74"/><circle cx="1058.4" cy="1186.3" r="1.35"/><circle cx="1002.1" cy="1237.0" r="1.42"/><circle cx="981.4" cy="1199.4" r="1.36"/><circle cx="1020.8" cy="1192.5" r="0.90"/><circle cx="1072.6" cy="1209.2" r="1.65"/><circle cx="1033.5" cy="1218.8" r="0.93"/><circle cx="981.5" cy="1234.5" r="0.72"/><circle cx="1006.0" cy="1211.9" r="0.70"/><circle cx="1002.0" cy="1180.4" r="1.36"/><circle cx="993.7" cy="1241.8" r="0.85"/><circle cx="993.9" cy="1253.6" r="1.61"/><circle cx="1037.3" cy="1223.9" r="1.57"/><circle cx="985.9" cy="1183.0" r="0.86"/><circle cx="995.4" cy="1227.9" r="1.57"/><circle cx="990.0" cy="1247.0" r="1.79"/><circle cx="1001.7" cy="1250.5" r="1.50"/><circle cx="1052.0" cy="1199.1" r="1.04"/><circle cx="1062.6" cy="1244.0" r="0.69"/><circle cx="1056.2" cy="1235.4" r="1.18"/><circle cx="1008.4" cy="1189.0" r="1.53"/><circle cx="1042.9" cy="1226.9" r="1.39"/><circle cx="1046.8" cy="1229.9" r="1.47"/><circle cx="1010.2" cy="1189.2" r="0.77"/><circle cx="990.9" cy="1250.8" r="1.04"/><circle cx="1054.6" cy="1245.6" r="1.28"/><circle cx="1066.9" cy="1190.5" r="1.70"/><circle cx="974.6" cy="1233.6" r="0.97"/><circle cx="1005.9" cy="1246.1" r="1.72"/><circle cx="1042.0" cy="1199.4" r="1.03"/><circle cx="998.3" cy="1239.5" r="1.07"/><circle cx="1001.8" cy="1230.8" r="1.28"/><circle cx="1032.1" cy="1178.4" r="1.60"/><circle cx="998.9" cy="1207.0" r="1.51"/><circle cx="1041.7" cy="1196.5" r="0.63"/><circle cx="979.9" cy="1211.8" r="1.28"/><circle cx="1063.8" cy="1206.6" r="1.57"/><circle cx="1057.8" cy="1230.9" r="1.55"/><circle cx="1033.9" cy="1223.2" r="1.48"/><circle cx="1033.2" cy="1206.5" r="1.36"/><circle cx="1049.7" cy="1251.5" r="1.38"/><circle cx="1021.0" cy="1240.5" r="1.52"/><circle cx="972.6" cy="1209.3" r="1.07"/><circle cx="991.9" cy="1260.0" r="1.41"/><circle cx="979.9" cy="1217.1" r="1.47"/><circle cx="1006.6" cy="1166.7" r="1.09"/><circle cx="1041.0" cy="1177.2" r="1.62"/><circle cx="1037.6" cy="1170.2" r="1.67"/><circle cx="1062.8" cy="1204.5" r="1.23"/><circle cx="1008.1" cy="1169.6" r="1.11"/><circle cx="1001.8" cy="1225.3" r="1.49"/><circle cx="1054.0" cy="1213.8" r="0.80"/><circle cx="1030.5" cy="1248.7" r="0.95"/><circle cx="1033.5" cy="1213.2" r="0.97"/><circle cx="1053.6" cy="1243.8" r="1.53"/><circle cx="1026.2" cy="1227.5" r="1.15"/><circle cx="974.9" cy="1190.1" r="0.64"/><circle cx="1038.7" cy="1230.0" r="0.86"/><circle cx="1024.6" cy="1260.3" r="1.31"/><circle cx="1024.2" cy="1238.1" r="0.94"/><circle cx="1042.7" cy="1256.3" r="0.97"/><circle cx="972.8" cy="1201.3" r="1.18"/><circle cx="1016.9" cy="1265.4" r="1.70"/><circle cx="998.0" cy="1248.4" r="1.75"/><circle cx="994.6" cy="1218.3" r="0.66"/><circle cx="1067.0" cy="1200.2" r="1.06"/><circle cx="981.3" cy="1209.0" r="0.93"/><circle cx="1064.9" cy="1213.0" r="0.89"/><circle cx="1058.1" cy="1218.1" r="1.05"/><circle cx="1033.8" cy="1172.8" r="1.33"/><circle cx="1032.3" cy="1233.1" r="0.99"/><circle cx="1017.3" cy="1264.9" r="1.22"/><circle cx="984.5" cy="1175.6" r="0.92"/><circle cx="999.4" cy="1211.2" r="1.52"/><circle cx="1070.2" cy="1216.0" r="1.62"/><circle cx="1027.2" cy="1201.9" r="0.92"/><circle cx="1016.7" cy="1199.5" r="1.18"/><circle cx="967.5" cy="1225.7" r="1.30"/><circle cx="1039.3" cy="1192.8" r="1.55"/><circle cx="974.6" cy="1240.9" r="0.71"/><circle cx="1031.9" cy="1194.1" r="1.25"/><circle cx="998.7" cy="1212.2" r="1.60"/><circle cx="1008.7" cy="1243.0" r="0.69"/><circle cx="1007.4" cy="1249.6" r="1.46"/><circle cx="991.3" cy="1249.5" r="0.73"/><circle cx="990.8" cy="1237.8" r="1.76"/><circle cx="1041.7" cy="1178.0" r="0.61"/><circle cx="987.0" cy="1246.7" r="0.88"/><circle cx="986.0" cy="1201.5" r="0.61"/><circle cx="1069.5" cy="1213.1" r="0.85"/><circle cx="998.2" cy="1196.6" r="1.05"/><circle cx="991.1" cy="1208.4" r="1.00"/><circle cx="985.2" cy="1242.7" r="0.91"/><circle cx="1034.9" cy="1258.7" r="1.00"/><circle cx="1059.2" cy="1202.1" r="1.47"/><circle cx="995.7" cy="1257.6" r="0.71"/><circle cx="1031.0" cy="1228.2" r="1.41"/><circle cx="1014.2" cy="1193.9" r="1.08"/><circle cx="1042.3" cy="1180.8" r="0.71"/><circle cx="1023.5" cy="1236.4" r="0.75"/><circle cx="1007.9" cy="1223.5" r="1.70"/><circle cx="985.0" cy="1232.4" r="1.38"/><circle cx="1025.6" cy="1167.9" r="1.06"/><circle cx="1003.0" cy="1245.2" r="0.62"/><circle cx="982.9" cy="1241.5" r="1.78"/><circle cx="1031.3" cy="1173.9" r="1.33"/><circle cx="1051.8" cy="1219.1" r="1.01"/><circle cx="1009.8" cy="1201.6" r="1.05"/><circle cx="971.5" cy="1212.8" r="1.59"/><circle cx="1003.5" cy="1202.0" r="1.52"/><circle cx="1053.7" cy="1193.2" r="1.02"/><circle cx="999.6" cy="1215.5" r="1.46"/><circle cx="1059.7" cy="1212.4" r="1.46"/><circle cx="1032.8" cy="1195.4" r="1.73"/><circle cx="1003.2" cy="1198.7" r="0.70"/><circle cx="1021.7" cy="1255.8" r="1.44"/><circle cx="995.0" cy="1260.5" r="1.03"/><circle cx="1001.4" cy="1219.9" r="1.77"/><circle cx="1054.8" cy="1253.5" r="1.25"/><circle cx="982.0" cy="1200.8" r="0.92"/><circle cx="1066.5" cy="1187.1" r="1.58"/><circle cx="1004.8" cy="1204.6" r="1.59"/><circle cx="1007.8" cy="1264.3" r="0.89"/><circle cx="975.4" cy="1194.1" r="0.82"/><circle cx="1005.8" cy="1211.3" r="0.64"/><circle cx="1043.6" cy="1263.2" r="1.73"/><circle cx="1003.7" cy="1191.0" r="1.41"/><circle cx="1017.7" cy="1183.0" r="1.31"/><circle cx="1022.6" cy="1209.2" r="0.84"/><circle cx="999.9" cy="1219.6" r="1.06"/><circle cx="999.5" cy="1206.3" r="1.22"/><circle cx="1016.7" cy="1255.4" r="1.00"/><circle cx="1013.6" cy="1207.6" r="1.41"/><circle cx="1053.4" cy="1256.5" r="1.32"/><circle cx="985.6" cy="1222.0" r="1.35"/><circle cx="1002.4" cy="1172.8" r="1.50"/><circle cx="965.6" cy="1220.3" r="1.61"/><circle cx="1041.9" cy="1188.8" r="1.12"/><circle cx="972.3" cy="1195.3" r="1.23"/><circle cx="984.5" cy="1210.2" r="1.69"/><circle cx="1014.8" cy="1226.8" r="1.47"/><circle cx="1058.5" cy="1189.0" r="1.32"/><circle cx="1020.7" cy="1186.4" r="1.31"/><circle cx="1037.9" cy="1223.5" r="1.14"/><circle cx="985.6" cy="1215.0" r="0.66"/><circle cx="1006.7" cy="1179.5" r="0.89"/><circle cx="1008.3" cy="1246.8" r="0.88"/><circle cx="1068.1" cy="1236.7" r="1.76"/><circle cx="994.4" cy="1173.1" r="1.11"/><circle cx="1029.1" cy="1192.1" r="1.50"/><circle cx="972.5" cy="1195.1" r="0.72"/><circle cx="1025.4" cy="1197.6" r="1.25"/><circle cx="1021.6" cy="1215.2" r="0.89"/><circle cx="1010.7" cy="1244.3" r="0.68"/><circle cx="1059.6" cy="1186.3" r="1.08"/><circle cx="994.1" cy="1247.4" r="0.66"/><circle cx="1071.5" cy="1225.4" r="0.97"/><circle cx="967.1" cy="1216.1" r="1.77"/><circle cx="995.6" cy="1219.7" r="0.95"/><circle cx="1066.4" cy="1192.2" r="0.83"/><circle cx="1037.5" cy="1188.8" r="1.17"/><circle cx="1044.7" cy="1259.4" r="1.79"/><circle cx="1033.3" cy="1255.8" r="0.83"/><circle cx="1029.3" cy="1207.5" r="0.73"/><circle cx="1015.6" cy="1186.3" r="1.68"/><circle cx="1052.1" cy="1182.9" r="0.76"/><circle cx="1002.5" cy="1167.2" r="1.13"/><circle cx="1043.2" cy="1227.5" r="0.97"/><circle cx="1014.3" cy="1192.8" r="0.82"/><circle cx="1024.4" cy="1258.6" r="1.55"/><circle cx="989.1" cy="1246.5" r="1.66"/><circle cx="998.0" cy="1202.0" r="0.96"/><circle cx="1060.6" cy="1196.4" r="0.93"/><circle cx="1009.8" cy="1203.4" r="1.78"/><circle cx="983.0" cy="1229.7" r="1.24"/><circle cx="1061.2" cy="1227.1" r="0.94"/><circle cx="1020.0" cy="1263.1" r="0.70"/><circle cx="1009.8" cy="1260.5" r="0.90"/><circle cx="1012.9" cy="1254.2" r="0.82"/><circle cx="1064.0" cy="1183.9" r="0.64"/><circle cx="973.9" cy="1226.6" r="1.06"/><circle cx="1055.5" cy="1199.5" r="0.82"/><circle cx="978.8" cy="1200.9" r="1.03"/><circle cx="993.7" cy="1176.3" r="1.22"/><circle cx="969.7" cy="1213.9" r="1.42"/><circle cx="967.0" cy="1209.0" r="0.81"/><circle cx="1024.4" cy="1194.4" r="1.33"/><circle cx="1023.7" cy="1250.6" r="1.53"/><circle cx="1031.5" cy="1169.7" r="0.88"/><circle cx="994.4" cy="1217.3" r="1.30"/><circle cx="1009.9" cy="1215.7" r="1.32"/><circle cx="1011.1" cy="1176.5" r="1.65"/><circle cx="1029.4" cy="1234.3" r="0.62"/><circle cx="984.0" cy="1216.5" r="1.13"/><circle cx="1016.3" cy="1262.8" r="0.69"/><circle cx="1055.0" cy="1193.6" r="1.25"/><circle cx="1027.2" cy="1190.6" r="0.78"/><circle cx="1016.1" cy="1225.7" r="0.98"/><circle cx="991.4" cy="1189.1" r="0.92"/><circle cx="1006.4" cy="1207.3" r="1.58"/><circle cx="1033.5" cy="1239.2" r="0.79"/><circle cx="1002.0" cy="1170.6" r="1.54"/><circle cx="1053.0" cy="1228.3" r="1.04"/><circle cx="1031.7" cy="1266.6" r="0.65"/><circle cx="972.3" cy="1218.6" r="1.78"/><circle cx="1043.2" cy="1243.8" r="1.49"/><circle cx="1046.5" cy="1221.9" r="1.67"/><circle cx="1042.1" cy="1241.4" r="0.96"/><circle cx="1006.7" cy="1222.3" r="0.64"/><circle cx="1068.4" cy="1214.5" r="1.48"/><circle cx="1023.8" cy="1242.0" r="1.26"/><circle cx="1022.3" cy="1251.5" r="1.72"/><circle cx="999.3" cy="1238.8" r="1.78"/><circle cx="1011.9" cy="1208.8" r="1.08"/><circle cx="1012.5" cy="1205.2" r="1.01"/><circle cx="1002.9" cy="1169.3" r="1.31"/><circle cx="1048.6" cy="1192.0" r="1.07"/><circle cx="1039.1" cy="1188.3" r="1.54"/><circle cx="1027.3" cy="1246.1" r="0.82"/><circle cx="999.1" cy="1209.0" r="0.84"/><circle cx="1028.6" cy="1250.9" r="0.97"/><circle cx="968.4" cy="1232.8" r="1.42"/><circle cx="1036.5" cy="1197.4" r="1.06"/><circle cx="1061.4" cy="1235.0" r="1.04"/><circle cx="1019.1" cy="1222.7" r="0.82"/><circle cx="1017.6" cy="1248.7" r="1.71"/><circle cx="1014.1" cy="1188.8" r="1.03"/><circle cx="1050.7" cy="1257.7" r="1.03"/><circle cx="1024.9" cy="1170.8" r="1.69"/><circle cx="1051.3" cy="1219.4" r="1.06"/><circle cx="1065.1" cy="1240.4" r="0.99"/><circle cx="1025.5" cy="1177.8" r="0.67"/><circle cx="999.2" cy="1231.6" r="0.65"/><circle cx="1045.1" cy="1248.8" r="0.64"/></g>
<g fill="#444444" fill-opacity="0.85"><circle cx="988.9" cy="1189.7" r="2.53"/><circle cx="1052.9" cy="1234.5" r="2.56"/><circle cx="1037.6" cy="1219.0" r="2.47"/><circle cx="1028.2" cy="1213.5" r="1.63"/><circle cx="1041.4" cy="1178.6" r="2.12"/><circle cx="980.0" cy="1194.3" r="2.41"/><circle cx="1034.1" cy="1215.7" r="2.39"/><circle cx="1067.9" cy="1208.5" r="2.01"/><circle cx="1004.4" cy="1241.3" r="1.61"/><circle cx="1023.7" cy="1189.8" r="2.19"/><circle cx="990.1" cy="1210.8" r="2.27"/><circle cx="995.7" cy="1222.5" r="2.48"/><circle cx="1029.5" cy="1233.2" r="1.85"/><circle cx="973.9" cy="1221.5" r="1.93"/><circle cx="1023.5" cy="1256.6" r="1.86"/><circle cx="993.9" cy="1211.9" r="2.48"/><circle cx="1030.5" cy="1238.0" r="1.90"/><circle cx="998.7" cy="1253.6" r="2.27"/><circle cx="1030.0" cy="1179.5" r="1.68"/><circle cx="1022.5" cy="1190.6" r="1.82"/><circle cx="975.2" cy="1241.5" r="1.97"/><circle cx="989.0" cy="1253.6" r="2.59"/><circle cx="1005.5" cy="1227.8" r="2.39"/><circle cx="1026.5" cy="1186.7" r="2.39"/><circle cx="999.7" cy="1234.3" r="2.19"/><circle cx="1018.4" cy="1180.6" r="2.42"/><circle cx="1057.5" cy="1218.7" r="1.98"/><circle cx="1066.6" cy="1234.9" r="1.74"/><circle cx="1033.9" cy="1261.3" r="2.56"/><circle cx="1048.4" cy="1203.2" r="2.53"/><circle cx="1048.4" cy="1249.0" r="2.55"/><circle cx="1027.2" cy="1233.1" r="2.28"/><circle cx="1053.6" cy="1186.5" r="2.55"/><circle cx="989.4" cy="1224.5" r="1.72"/><circle cx="1012.9" cy="1264.3" r="1.67"/><circle cx="1032.7" cy="1243.1" r="1.65"/><circle cx="1012.4" cy="1235.9" r="1.72"/><circle cx="982.0" cy="1209.3" r="2.17"/><circle cx="1023.3" cy="1178.9" r="2.55"/><circle cx="1042.0" cy="1227.3" r="1.68"/><circle cx="1003.5" cy="1256.8" r="2.52"/><circle cx="999.2" cy="1215.1" r="1.93"/><circle cx="994.2" cy="1204.1" r="2.39"/><circle cx="1055.6" cy="1209.7" r="2.20"/><circle cx="1040.7" cy="1187.1" r="1.79"/><circle cx="1069.3" cy="1198.3" r="1.62"/><circle cx="1023.0" cy="1183.6" r="1.65"/><circle cx="1031.7" cy="1233.6" r="2.34"/><circle cx="1022.1" cy="1222.5" r="1.82"/><circle cx="1031.6" cy="1181.4" r="2.25"/><circle cx="998.3" cy="1220.3" r="1.62"/><circle cx="1016.7" cy="1225.4" r="1.86"/><circle cx="996.7" cy="1194.7" r="2.07"/><circle cx="999.1" cy="1195.5" r="1.96"/><circle cx="1050.3" cy="1189.8" r="2.02"/></g>
<g fill="#333333" fill-opacity="0.9"><circle cx="968.5" cy="1202.8" r="0.93"/><circle cx="1065.1" cy="1189.7" r="1.54"/><circle cx="1053.8" cy="1172.9" r="0.76"/><circle cx="964.2" cy="1212.6" r="0.89"/><circle cx="1046.4" cy="1261.9" r="0.84"/><circle cx="975.4" cy="1190.6" r="1.55"/><circle cx="1009.3" cy="1264.1" r="1.29"/><circle cx="989.4" cy="1258.1" r="1.10"/><circle cx="1067.8" cy="1191.4" r="0.98"/><circle cx="1074.0" cy="1216.1" r="0.87"/><circle cx="971.8" cy="1192.1" r="1.06"/><circle cx="1065.6" cy="1243.2" r="1.08"/><circle cx="984.9" cy="1173.8" r="0.88"/><circle cx="972.0" cy="1233.0" r="1.40"/><circle cx="1025.7" cy="1268.6" r="1.40"/><circle cx="1018.7" cy="1269.2" r="1.10"/><circle cx="972.0" cy="1238.8" r="1.55"/><circle cx="966.8" cy="1218.9" r="0.89"/><circle cx="1049.4" cy="1172.2" r="0.94"/><circle cx="1037.5" cy="1263.0" r="1.43"/><circle cx="1038.8" cy="1164.7" r="1.52"/><circle cx="998.4" cy="1166.9" r="1.31"/><circle cx="1040.5" cy="1166.2" r="0.78"/><circle cx="1041.1" cy="1169.1" r="0.84"/><circle cx="1065.1" cy="1191.7" r="1.11"/><circle cx="989.8" cy="1259.8" r="1.21"/><circle cx="1067.7" cy="1187.1" r="1.24"/><circle cx="1070.4" cy="1236.3" r="0.71"/><circle cx="1075.5" cy="1209.6" r="0.91"/><circle cx="1041.7" cy="1263.9" r="1.36"/><circle cx="1074.4" cy="1210.7" r="0.73"/><circle cx="1012.8" cy="1166.7" r="1.47"/><circle cx="1026.7" cy="1163.0" r="1.47"/><circle cx="969.6" cy="1193.0" r="1.24"/><circle cx="967.3" cy="1218.2" r="0.95"/><circle cx="1071.7" cy="1222.8" r="1.40"/><circle cx="1027.6" cy="1267.5" r="1.38"/><circle cx="1001.9" cy="1167.0" r="0.92"/><circle cx="1012.8" cy="1265.1" r="1.25"/><circle cx="998.5" cy="1166.1" r="0.93"/><circle cx="1070.3" cy="1191.9" r="0.89"/><circle cx="1072.1" cy="1200.1" r="1.56"/><circle cx="1028.3" cy="1165.4" r="0.88"/><circle cx="967.2" cy="1208.3" r="0.64"/><circle cx="1055.3" cy="1176.2" r="1.07"/><circle cx="1018.5" cy="1165.3" r="0.80"/><circle cx="974.5" cy="1191.1" r="0.93"/><circle cx="1066.8" cy="1236.6" r="0.96"/><circle cx="965.1" cy="1206.5" r="1.24"/><circle cx="974.6" cy="1241.8" r="0.84"/><circle cx="965.0" cy="1224.4" r="0.72"/><circle cx="970.4" cy="1237.1" r="1.36"/><circle cx="969.1" cy="1197.9" r="1.54"/><circle cx="1063.2" cy="1186.6" r="1.14"/><circle cx="1074.1" cy="1214.7" r="0.79"/><circle cx="1025.5" cy="1166.4" r="0.75"/><circle cx="970.5" cy="1199.6" r="1.32"/><circle cx="1012.6" cy="1165.4" r="1.37"/><circle cx="987.5" cy="1173.5" r="1.06"/><circle cx="973.2" cy="1236.0" r="1.07"/><circle cx="1073.7" cy="1200.6" r="0.66"/><circle cx="1067.7" cy="1237.4" r="1.29"/><circle cx="972.5" cy="1234.6" r="1.03"/><circle cx="971.1" cy="1192.2" r="1.00"/><circle cx="988.1" cy="1173.2" r="1.22"/><circle cx="1072.7" cy="1230.7" r="0.73"/><circle cx="1070.7" cy="1233.0" r="0.62"/><circle cx="1067.9" cy="1238.2" r="1.07"/><circle cx="1064.4" cy="1248.8" r="1.45"/><circle cx="966.4" cy="1220.0" r="0.92"/><circle cx="1071.8" cy="1210.5" r="0.90"/><circle cx="1030.4" cy="1268.1" r="1.11"/><circle cx="975.3" cy="1242.9" r="1.49"/><circle cx="1017.7" cy="1268.6" r="1.31"/><circle cx="970.1" cy="1231.8" r="1.04"/><circle cx="969.8" cy="1230.3" r="1.22"/><circle cx="975.6" cy="1242.4" r="1.37"/><circle cx="968.9" cy="1229.9" r="1.48"/><circle cx="969.4" cy="1229.9" r="1.50"/><circle cx="1074.8" cy="1207.8" r="1.00"/><circle cx="994.2" cy="1169.2" r="0.90"/><circle cx="1011.2" cy="1162.5" r="1.26"/><circle cx="994.2" cy="1170.9" r="1.25"/><circle cx="1028.6" cy="1267.9" r="1.14"/><circle cx="1072.7" cy="1209.2" r="1.31"/><circle cx="1073.3" cy="1221.0" r="1.37"/><circle cx="1017.1" cy="1267.7" r="0.82"/><circle cx="975.2" cy="1247.8" r="0.80"/><circle cx="1064.2" cy="1189.8" r="1.18"/><circle cx="1044.3" cy="1167.6" r="0.99"/><circle cx="974.1" cy="1187.3" r="1.36"/><circle cx="1019.2" cy="1163.6" r="0.85"/><circle cx="1005.3" cy="1165.7" r="1.14"/><circle cx="1071.9" cy="1211.6" r="1.38"/><circle cx="995.5" cy="1262.6" r="1.55"/><circle cx="1012.0" cy="1266.9" r="1.13"/><circle cx="968.3" cy="1217.1" r="1.23"/><circle cx="1063.0" cy="1183.1" r="0.89"/><circle cx="1038.7" cy="1167.5" r="0.75"/><circle cx="978.2" cy="1183.9" r="1.13"/><circle cx="1074.2" cy="1212.7" r="1.55"/><circle cx="987.2" cy="1257.9" r="0.68"/><circle cx="1003.3" cy="1265.5" r="1.29"/><circle cx="1045.4" cy="1170.7" r="0.87"/><circle cx="986.4" cy="1255.8" r="0.62"/><circle cx="981.9" cy="1252.7" r="0.75"/><circle cx="999.5" cy="1265.1" r="1.53"/><circle cx="1020.4" cy="1265.6" r="0.72"/><circle cx="1067.7" cy="1242.8" r="1.34"/><circle cx="1015.5" cy="1266.9" r="1.30"/><circle cx="1074.7" cy="1224.9" r="1.46"/><circle cx="1033.5" cy="1266.6" r="1.30"/><circle cx="991.4" cy="1261.3" r="0.82"/><circle cx="968.3" cy="1223.9" r="1.04"/><circle cx="1040.9" cy="1167.6" r="1.21"/><circle cx="1072.4" cy="1211.5" r="0.82"/><circle cx="982.4" cy="1181.5" r="1.56"/><circle cx="991.4" cy="1258.7" r="1.03"/><circle cx="1046.5" cy="1168.2" r="1.28"/><circle cx="1045.4" cy="1260.4" r="1.31"/><circle cx="1032.1" cy="1267.9" r="1.47"/><circle cx="1028.1" cy="1266.0" r="0.83"/><circle cx="1010.2" cy="1167.2" r="1.30"/><circle cx="1071.5" cy="1236.0" r="1.14"/><circle cx="975.6" cy="1190.8" r="0.64"/><circle cx="986.4" cy="1258.6" r="1.20"/><circle cx="1053.7" cy="1178.0" r="0.70"/><circle cx="1074.5" cy="1222.5" r="0.78"/><circle cx="1012.6" cy="1267.5" r="1.30"/><circle cx="996.8" cy="1261.8" r="0.89"/><circle cx="971.2" cy="1196.5" r="0.96"/><circle cx="1020.7" cy="1266.2" r="0.86"/><circle cx="1072.7" cy="1220.8" r="1.19"/><circle cx="1014.2" cy="1265.0" r="1.45"/><circle cx="967.6" cy="1225.6" r="0.91"/><circle cx="1062.0" cy="1181.2" r="1.22"/><circle cx="990.8" cy="1171.3" r="1.10"/><circle cx="974.9" cy="1242.1" r="1.10"/><circle cx="967.5" cy="1225.7" r="1.13"/><circle cx="1033.7" cy="1163.6" r="0.82"/><circle cx="1072.4" cy="1222.6" r="0.63"/><circle cx="1035.9" cy="1165.6" r="0.89"/><circle cx="1040.3" cy="1265.4" r="1.44"/><circle cx="998.2" cy="1167.6" r="1.34"/><circle cx="969.3" cy="1230.0" r="1.15"/><circle cx="1061.4" cy="1178.7" r="1.52"/><circle cx="1046.6" cy="1173.1" r="0.85"/><circle cx="1073.3" cy="1206.2" r="1.11"/><circle cx="999.9" cy="1265.2" r="1.12"/><circle cx="1071.7" cy="1212.6" r="1.59"/><circle cx="1072.0" cy="1219.8" r="0.99"/><circle cx="987.2" cy="1177.4" r="1.16"/><circle cx="1069.8" cy="1196.5" r="1.36"/><circle cx="975.0" cy="1187.2" r="0.77"/><circle cx="966.0" cy="1227.6" r="1.27"/><circle cx="1031.4" cy="1265.8" r="1.14"/><circle cx="992.3" cy="1260.0" r="1.23"/><circle cx="1072.2" cy="1221.2" r="1.26"/></g>
<ellipse cx="1150.9" cy="1217.1" rx="54.3" ry="54.9" fill="#f4f4f4" stroke="#1e1e1e" stroke-width="2.6"/>
<g fill="#6e6e6e" fill-opacity="0.9"><circle cx="1194.8" cy="1209.1" r="1.05"/><circle cx="1150.0" cy="1170.5" r="1.08"/><circle cx="1145.8" cy="1255.3" r="1.25"/><circle cx="1131.9" cy="1255.1" r="0.70"/><circle cx="1174.7" cy="1212.6" r="0.79"/><circle cx="1200.6" cy="1204.3" r="1.52"/><circle cx="1177.2" cy="1175.9" r="1.41"/><circle cx="1137.8" cy="1211.2" r="1.32"/><circle cx="1175.6" cy="1175.3" r="0.60"/><circle cx="1192.6" cy="1234.2" r="1.06"/><circle cx="1192.1" cy="1184.3" r="1.02"/><circle cx="1131.5" cy="1178.3" r="1.28"/><circle cx="1122.5" cy="1248.6" r="0.62"/><circle cx="1187.2" cy="1190.5" r="1.39"/><circle cx="1127.7" cy="1222.8" r="1.02"/><circle cx="1134.4" cy="1181.4" r="0.66"/><circle cx="1184.1" cy="1217.9" r="0.81"/><circle cx="1154.5" cy="1241.9" r="0.99"/><circle cx="1133.9" cy="1169.2" r="1.26"/><circle cx="1199.5" cy="1223.5" r="1.19"/><circle cx="1146.2" cy="1175.7" r="0.92"/><circle cx="1143.4" cy="1229.1" r="1.25"/><circle cx="1191.9" cy="1231.7" r="1.51"/><circle cx="1130.7" cy="1181.0" r="1.40"/><circle cx="1196.9" cy="1205.1" r="1.59"/><circle cx="1144.7" cy="1218.7" r="1.20"/><circle cx="1119.3" cy="1179.3" r="1.19"/><circle cx="1148.5" cy="1219.9" r="1.42"/><circle cx="1113.9" cy="1179.8" r="1.17"/><circle cx="1178.7" cy="1179.7" r="1.59"/><circle cx="1102.4" cy="1228.9" r="0.97"/><circle cx="1180.9" cy="1219.2" r="0.92"/><circle cx="1184.0" cy="1215.5" r="0.84"/><circle cx="1144.9" cy="1201.6" r="0.87"/><circle cx="1136.2" cy="1228.6" r="1.18"/><circle cx="1109.1" cy="1239.3" r="0.91"/><circle cx="1174.0" cy="1213.8" r="1.11"/><circle cx="1151.8" cy="1223.4" r="0.87"/><circle cx="1173.4" cy="1199.6" r="1.06"/><circle cx="1124.0" cy="1213.0" r="1.11"/><circle cx="1179.4" cy="1229.7" r="0.85"/><circle cx="1169.4" cy="1174.3" r="1.29"/><circle cx="1110.3" cy="1189.3" r="1.33"/><circle cx="1168.8" cy="1223.6" r="1.34"/><circle cx="1178.9" cy="1172.4" r="1.36"/><circle cx="1172.6" cy="1250.7" r="1.21"/><circle cx="1135.6" cy="1205.2" r="1.57"/><circle cx="1123.7" cy="1215.3" r="1.58"/><circle cx="1140.5" cy="1226.4" r="1.25"/><circle cx="1149.4" cy="1241.9" r="0.87"/><circle cx="1127.6" cy="1198.3" r="1.25"/><circle cx="1194.3" cy="1187.4" r="1.48"/><circle cx="1174.2" cy="1204.4" r="1.42"/><circle cx="1184.9" cy="1238.8" r="0.63"/><circle cx="1192.6" cy="1247.4" r="0.68"/><circle cx="1143.1" cy="1179.3" r="0.55"/><circle cx="1154.4" cy="1204.5" r="1.48"/><circle cx="1166.4" cy="1183.0" r="1.02"/><circle cx="1194.3" cy="1224.9" r="0.59"/><circle cx="1100.9" cy="1208.7" r="1.26"/><circle cx="1184.2" cy="1247.3" r="1.29"/><circle cx="1128.8" cy="1258.2" r="1.16"/><circle cx="1118.2" cy="1237.1" r="0.84"/><circle cx="1139.4" cy="1265.9" r="0.92"/><circle cx="1155.1" cy="1185.1" r="0.75"/><circle cx="1202.6" cy="1217.6" r="1.34"/><circle cx="1191.1" cy="1212.5" r="0.62"/><circle cx="1157.0" cy="1227.2" r="1.19"/><circle cx="1113.8" cy="1181.0" r="0.86"/><circle cx="1153.5" cy="1242.0" r="0.70"/><circle cx="1187.3" cy="1223.8" r="0.99"/><circle cx="1116.2" cy="1255.4" r="0.88"/><circle cx="1168.8" cy="1182.7" r="0.66"/><circle cx="1191.3" cy="1224.8" r="1.47"/><circle cx="1192.8" cy="1231.0" r="0.79"/><circle cx="1132.4" cy="1172.2" r="1.31"/><circle cx="1151.6" cy="1238.1" r="1.57"/><circle cx="1194.6" cy="1191.2" r="1.12"/><circle cx="1181.2" cy="1227.4" r="1.51"/><circle cx="1177.0" cy="1228.9" r="0.59"/><circle cx="1173.8" cy="1195.5" r="0.64"/><circle cx="1136.2" cy="1236.0" r="1.01"/><circle cx="1119.0" cy="1188.3" r="0.65"/><circle cx="1138.7" cy="1214.4" r="1.01"/><circle cx="1160.5" cy="1191.6" r="1.41"/><circle cx="1152.1" cy="1250.5" r="1.38"/><circle cx="1190.1" cy="1218.0" r="1.11"/><circle cx="1139.7" cy="1166.5" r="1.28"/><circle cx="1154.8" cy="1240.5" r="1.06"/><circle cx="1143.2" cy="1255.9" r="0.64"/><circle cx="1139.2" cy="1184.8" r="0.60"/><circle cx="1187.9" cy="1252.5" r="1.44"/><circle cx="1175.0" cy="1194.5" r="1.58"/><circle cx="1172.5" cy="1256.9" r="1.54"/><circle cx="1151.8" cy="1220.4" r="0.68"/><circle cx="1191.8" cy="1241.0" r="1.19"/><circle cx="1133.3" cy="1219.8" r="1.22"/><circle cx="1163.5" cy="1231.9" r="1.17"/><circle cx="1121.7" cy="1179.7" r="1.42"/><circle cx="1169.8" cy="1239.4" r="0.70"/><circle cx="1142.0" cy="1217.6" r="1.46"/><circle cx="1131.2" cy="1173.6" r="1.06"/><circle cx="1191.9" cy="1191.6" r="1.42"/><circle cx="1159.3" cy="1193.9" r="0.91"/><circle cx="1194.1" cy="1233.2" r="1.05"/><circle cx="1179.1" cy="1214.7" r="1.00"/><circle cx="1185.5" cy="1178.1" r="1.34"/><circle cx="1188.3" cy="1182.7" r="0.84"/><circle cx="1141.0" cy="1208.1" r="1.26"/><circle cx="1186.7" cy="1206.0" r="0.70"/><circle cx="1138.7" cy="1211.4" r="1.03"/><circle cx="1180.7" cy="1233.7" r="1.41"/><circle cx="1147.7" cy="1168.0" r="1.03"/><circle cx="1139.4" cy="1221.6" r="1.38"/><circle cx="1120.4" cy="1202.7" r="0.70"/><circle cx="1138.1" cy="1220.5" r="0.68"/><circle cx="1181.1" cy="1233.7" r="0.69"/><circle cx="1170.1" cy="1180.3" r="1.46"/><circle cx="1131.0" cy="1210.1" r="0.84"/><circle cx="1172.4" cy="1182.7" r="1.23"/><circle cx="1143.1" cy="1208.5" r="0.76"/><circle cx="1106.9" cy="1237.5" r="1.54"/><circle cx="1128.3" cy="1202.4" r="0.60"/><circle cx="1119.5" cy="1204.8" r="1.53"/><circle cx="1157.3" cy="1240.3" r="0.57"/><circle cx="1197.5" cy="1225.7" r="1.46"/><circle cx="1154.6" cy="1222.5" r="1.16"/><circle cx="1151.8" cy="1258.8" r="1.51"/><circle cx="1150.4" cy="1188.9" r="1.19"/><circle cx="1139.6" cy="1262.1" r="0.82"/><circle cx="1180.5" cy="1185.0" r="1.49"/><circle cx="1121.8" cy="1260.0" r="1.16"/><circle cx="1149.0" cy="1259.9" r="0.88"/><circle cx="1158.8" cy="1224.0" r="1.19"/><circle cx="1151.7" cy="1233.9" r="1.37"/><circle cx="1179.6" cy="1253.1" r="0.84"/><circle cx="1117.7" cy="1256.0" r="1.42"/><circle cx="1177.3" cy="1171.7" r="1.18"/><circle cx="1189.1" cy="1200.5" r="1.16"/><circle cx="1136.4" cy="1246.4" r="1.15"/><circle cx="1151.7" cy="1259.8" r="1.46"/><circle cx="1146.3" cy="1192.3" r="0.58"/><circle cx="1127.6" cy="1243.1" r="1.44"/><circle cx="1114.6" cy="1205.9" r="1.19"/><circle cx="1109.9" cy="1202.8" r="1.14"/><circle cx="1126.7" cy="1208.7" r="0.68"/><circle cx="1104.8" cy="1235.7" r="1.54"/><circle cx="1140.2" cy="1256.0" r="1.09"/><circle cx="1129.6" cy="1223.5" r="1.38"/><circle cx="1172.5" cy="1230.1" r="0.84"/><circle cx="1157.6" cy="1239.5" r="0.63"/><circle cx="1129.3" cy="1213.8" r="1.22"/></g>
<g fill="#2e2e2e" fill-opacity="0.9"><circle cx="1154.1" cy="1231.1" r="1.35"/><circle cx="1125.0" cy="1262.1" r="1.14"/><circle cx="1184.7" cy="1242.4" r="0.83"/><circle cx="1168.6" cy="1175.4" r="1.35"/><circle cx="1160.0" cy="1220.6" r="1.39"/><circle cx="1165.9" cy="1235.6" r="0.58"/><circle cx="1169.6" cy="1248.5" r="1.56"/><circle cx="1139.3" cy="1241.5" r="1.42"/><circle cx="1167.7" cy="1256.0" r="1.20"/><circle cx="1161.0" cy="1212.7" r="1.14"/><circle cx="1115.5" cy="1249.5" r="0.81"/><circle cx="1146.0" cy="1194.7" r="1.07"/><circle cx="1176.2" cy="1211.9" r="0.84"/><circle cx="1188.5" cy="1195.4" r="0.62"/><circle cx="1160.9" cy="1241.0" r="0.85"/><circle cx="1175.6" cy="1180.2" r="1.58"/><circle cx="1130.7" cy="1180.2" r="0.95"/><circle cx="1143.4" cy="1180.5" r="0.61"/><circle cx="1118.3" cy="1218.8" r="1.11"/><circle cx="1159.3" cy="1219.8" r="1.58"/><circle cx="1130.0" cy="1239.2" r="0.71"/><circle cx="1108.8" cy="1189.1" r="0.74"/><circle cx="1113.7" cy="1217.0" r="1.35"/><circle cx="1127.3" cy="1206.8" r="0.75"/><circle cx="1148.6" cy="1202.4" r="1.46"/><circle cx="1173.3" cy="1221.9" r="1.04"/><circle cx="1174.0" cy="1182.3" r="1.33"/><circle cx="1154.0" cy="1171.9" r="0.60"/><circle cx="1160.1" cy="1198.9" r="0.72"/><circle cx="1159.5" cy="1219.2" r="1.47"/><circle cx="1139.5" cy="1227.8" r="0.60"/><circle cx="1174.2" cy="1183.1" r="1.51"/><circle cx="1168.1" cy="1221.3" r="0.85"/><circle cx="1157.3" cy="1233.7" r="0.76"/><circle cx="1137.2" cy="1200.2" r="0.73"/><circle cx="1119.4" cy="1209.9" r="0.71"/><circle cx="1116.7" cy="1201.3" r="0.96"/><circle cx="1140.5" cy="1218.8" r="1.20"/><circle cx="1161.5" cy="1246.0" r="0.56"/><circle cx="1181.6" cy="1190.6" r="0.96"/><circle cx="1101.6" cy="1203.7" r="0.69"/><circle cx="1117.9" cy="1247.1" r="0.94"/><circle cx="1137.4" cy="1168.2" r="0.59"/><circle cx="1144.8" cy="1245.2" r="1.34"/><circle cx="1160.3" cy="1173.6" r="1.52"/><circle cx="1163.9" cy="1247.8" r="1.45"/><circle cx="1152.6" cy="1199.3" r="1.58"/><circle cx="1148.0" cy="1167.6" r="0.93"/><circle cx="1110.2" cy="1185.0" r="1.49"/><circle cx="1106.9" cy="1193.7" r="1.60"/><circle cx="1173.6" cy="1180.6" r="1.56"/><circle cx="1171.6" cy="1243.7" r="1.14"/><circle cx="1182.4" cy="1251.7" r="0.62"/><circle cx="1131.7" cy="1196.7" r="0.89"/><circle cx="1132.9" cy="1202.6" r="1.02"/><circle cx="1183.5" cy="1175.8" r="0.83"/><circle cx="1121.8" cy="1250.3" r="0.75"/><circle cx="1164.6" cy="1197.8" r="1.13"/><circle cx="1150.0" cy="1218.6" r="0.55"/><circle cx="1181.1" cy="1217.5" r="0.84"/><circle cx="1192.9" cy="1214.8" r="0.62"/><circle cx="1145.5" cy="1192.0" r="1.06"/><circle cx="1142.6" cy="1168.5" r="1.53"/><circle cx="1124.8" cy="1231.4" r="0.97"/><circle cx="1133.5" cy="1259.4" r="1.04"/><circle cx="1142.8" cy="1198.0" r="1.37"/><circle cx="1174.1" cy="1212.1" r="1.20"/><circle cx="1156.1" cy="1225.6" r="0.98"/><circle cx="1169.2" cy="1258.7" r="1.15"/><circle cx="1127.2" cy="1170.5" r="0.61"/><circle cx="1159.0" cy="1222.9" r="1.03"/><circle cx="1170.5" cy="1177.8" r="1.13"/><circle cx="1170.8" cy="1191.6" r="0.67"/><circle cx="1145.6" cy="1210.5" r="0.79"/><circle cx="1171.7" cy="1221.1" r="0.62"/><circle cx="1132.4" cy="1213.3" r="1.18"/><circle cx="1164.8" cy="1189.2" r="0.68"/><circle cx="1129.5" cy="1177.1" r="1.48"/><circle cx="1113.0" cy="1203.6" r="1.46"/><circle cx="1127.9" cy="1169.9" r="0.85"/><circle cx="1157.3" cy="1175.2" r="1.04"/><circle cx="1187.2" cy="1219.6" r="0.83"/><circle cx="1120.7" cy="1194.5" r="1.09"/><circle cx="1168.7" cy="1224.1" r="1.19"/><circle cx="1129.2" cy="1168.9" r="1.38"/><circle cx="1142.0" cy="1251.9" r="1.08"/><circle cx="1161.9" cy="1185.6" r="1.52"/><circle cx="1117.8" cy="1220.5" r="1.05"/><circle cx="1118.0" cy="1258.7" r="0.60"/><circle cx="1138.9" cy="1225.9" r="1.26"/><circle cx="1162.8" cy="1233.8" r="0.99"/><circle cx="1114.0" cy="1189.3" r="1.02"/><circle cx="1142.0" cy="1248.1" r="1.48"/><circle cx="1152.2" cy="1222.6" r="1.48"/><circle cx="1131.9" cy="1219.2" r="0.69"/><circle cx="1186.1" cy="1187.8" r="0.62"/><circle cx="1139.9" cy="1195.2" r="1.02"/><circle cx="1141.5" cy="1209.7" r="1.53"/><circle cx="1140.7" cy="1234.5" r="1.37"/><circle cx="1158.8" cy="1223.6" r="1.23"/><circle cx="1101.8" cy="1226.5" r="1.38"/><circle cx="1153.9" cy="1228.0" r="1.18"/><circle cx="1122.5" cy="1222.5" r="1.51"/><circle cx="1161.8" cy="1258.4" r="0.63"/><circle cx="1196.4" cy="1193.1" r="1.20"/><circle cx="1131.7" cy="1258.1" r="1.50"/><circle cx="1153.9" cy="1206.8" r="1.08"/><circle cx="1175.7" cy="1247.4" r="1.55"/><circle cx="1168.3" cy="1197.2" r="1.13"/><circle cx="1142.0" cy="1237.0" r="1.33"/><circle cx="1152.7" cy="1186.3" r="0.99"/><circle cx="1136.1" cy="1174.2" r="1.04"/><circle cx="1162.9" cy="1228.2" r="0.73"/><circle cx="1168.0" cy="1183.8" r="1.23"/><circle cx="1129.8" cy="1241.4" r="0.73"/><circle cx="1191.4" cy="1210.5" r="0.69"/><circle cx="1139.0" cy="1177.7" r="1.19"/><circle cx="1156.0" cy="1175.9" r="1.47"/><circle cx="1183.9" cy="1210.7" r="1.23"/><circle cx="1127.1" cy="1241.3" r="0.93"/><circle cx="1132.1" cy="1191.8" r="0.92"/><circle cx="1177.8" cy="1178.0" r="1.26"/><circle cx="1169.1" cy="1189.6" r="1.22"/><circle cx="1150.7" cy="1247.0" r="0.66"/><circle cx="1166.1" cy="1168.3" r="0.87"/><circle cx="1137.9" cy="1229.7" r="0.70"/><circle cx="1118.8" cy="1178.7" r="0.64"/><circle cx="1149.6" cy="1263.5" r="0.79"/><circle cx="1173.4" cy="1195.1" r="1.05"/><circle cx="1159.4" cy="1244.5" r="1.00"/><circle cx="1143.0" cy="1261.9" r="0.58"/><circle cx="1120.5" cy="1180.6" r="0.89"/><circle cx="1157.5" cy="1234.3" r="0.63"/><circle cx="1161.6" cy="1177.2" r="0.57"/><circle cx="1111.9" cy="1229.0" r="0.89"/><circle cx="1184.3" cy="1224.6" r="0.92"/><circle cx="1182.0" cy="1211.6" r="1.52"/><circle cx="1177.9" cy="1187.3" r="0.68"/><circle cx="1156.5" cy="1202.2" r="1.14"/><circle cx="1164.0" cy="1226.4" r="0.98"/><circle cx="1180.0" cy="1261.2" r="1.16"/><circle cx="1192.0" cy="1185.7" r="1.35"/><circle cx="1128.8" cy="1188.1" r="1.37"/><circle cx="1140.7" cy="1198.6" r="1.11"/><circle cx="1118.5" cy="1236.9" r="1.30"/><circle cx="1136.0" cy="1179.8" r="1.38"/><circle cx="1158.2" cy="1202.7" r="0.70"/><circle cx="1171.1" cy="1223.3" r="1.56"/><circle cx="1138.1" cy="1249.9" r="1.04"/><circle cx="1125.3" cy="1206.0" r="1.37"/><circle cx="1127.1" cy="1259.8" r="1.39"/><circle cx="1189.9" cy="1217.4" r="0.65"/><circle cx="1161.2" cy="1207.8" r="0.83"/><circle cx="1155.7" cy="1176.4" r="1.25"/><circle cx="1118.4" cy="1237.1" r="0.76"/><circle cx="1124.9" cy="1223.4" r="1.26"/><circle cx="1166.2" cy="1229.4" r="0.76"/><circle cx="1111.6" cy="1208.8" r="0.55"/><circle cx="1198.9" cy="1213.2" r="0.95"/><circle cx="1176.8" cy="1257.8" r="1.58"/><circle cx="1170.9" cy="1258.8" r="1.41"/><circle cx="1173.1" cy="1207.8" r="0.68"/><circle cx="1163.9" cy="1239.1" r="1.50"/><circle cx="1181.5" cy="1197.4" r="0.68"/><circle cx="1135.4" cy="1238.0" r="1.23"/><circle cx="1142.2" cy="1171.0" r="1.01"/><circle cx="1116.2" cy="1226.9" r="0.94"/><circle cx="1109.0" cy="1229.4" r="1.30"/><circle cx="1132.6" cy="1252.7" r="0.70"/><circle cx="1182.4" cy="1226.4" r="0.93"/><circle cx="1165.4" cy="1220.1" r="1.00"/><circle cx="1196.0" cy="1199.8" r="0.58"/><circle cx="1137.9" cy="1246.6" r="0.88"/><circle cx="1177.3" cy="1248.1" r="1.43"/><circle cx="1134.6" cy="1232.2" r="0.66"/><circle cx="1196.8" cy="1221.5" r="0.79"/><circle cx="1143.3" cy="1170.4" r="0.64"/><circle cx="1162.0" cy="1244.8" r="1.36"/><circle cx="1148.5" cy="1187.9" r="1.02"/><circle cx="1128.7" cy="1246.0" r="1.38"/><circle cx="1147.4" cy="1264.9" r="1.52"/><circle cx="1109.4" cy="1186.2" r="1.53"/><circle cx="1175.8" cy="1263.7" r="0.76"/><circle cx="1157.1" cy="1199.6" r="0.87"/><circle cx="1105.8" cy="1234.4" r="1.26"/><circle cx="1165.2" cy="1265.5" r="1.46"/><circle cx="1139.1" cy="1216.4" r="0.85"/><circle cx="1141.9" cy="1250.3" r="1.54"/><circle cx="1111.5" cy="1190.0" r="0.62"/><circle cx="1152.2" cy="1262.6" r="0.91"/><circle cx="1152.8" cy="1230.3" r="0.60"/><circle cx="1117.7" cy="1237.7" r="0.97"/><circle cx="1124.8" cy="1205.7" r="0.57"/><circle cx="1136.9" cy="1189.7" r="1.07"/><circle cx="1131.2" cy="1236.3" r="0.60"/><circle cx="1142.6" cy="1244.9" r="0.67"/><circle cx="1186.8" cy="1223.9" r="0.57"/><circle cx="1173.8" cy="1195.1" r="1.02"/><circle cx="1142.8" cy="1215.8" r="0.66"/><circle cx="1159.6" cy="1178.4" r="1.07"/><circle cx="1125.5" cy="1255.5" r="1.08"/><circle cx="1163.6" cy="1170.1" r="1.49"/><circle cx="1144.4" cy="1173.9" r="1.03"/><circle cx="1111.7" cy="1208.7" r="1.10"/><circle cx="1171.4" cy="1172.4" r="0.60"/><circle cx="1151.4" cy="1175.3" r="1.18"/><circle cx="1160.7" cy="1210.6" r="1.05"/><circle cx="1114.5" cy="1253.7" r="0.72"/><circle cx="1132.4" cy="1209.3" r="1.34"/><circle cx="1105.8" cy="1220.2" r="0.87"/><circle cx="1154.2" cy="1214.1" r="0.79"/><circle cx="1145.8" cy="1167.4" r="1.37"/><circle cx="1148.5" cy="1232.1" r="1.29"/><circle cx="1149.4" cy="1204.1" r="1.53"/><circle cx="1141.4" cy="1215.4" r="1.05"/><circle cx="1141.9" cy="1231.7" r="1.48"/><circle cx="1167.9" cy="1209.6" r="1.02"/><circle cx="1144.6" cy="1260.3" r="0.67"/><circle cx="1134.0" cy="1246.6" r="1.05"/><circle cx="1113.6" cy="1233.4" r="1.54"/><circle cx="1196.5" cy="1195.9" r="1.42"/><circle cx="1154.4" cy="1243.2" r="1.03"/><circle cx="1125.4" cy="1184.6" r="0.92"/><circle cx="1180.3" cy="1215.6" r="0.57"/><circle cx="1171.2" cy="1230.3" r="1.32"/><circle cx="1156.7" cy="1207.9" r="0.80"/><circle cx="1153.1" cy="1264.3" r="1.49"/><circle cx="1149.5" cy="1234.1" r="1.57"/></g>
<g fill="#444444" fill-opacity="0.85"><circle cx="1118.6" cy="1193.3" r="2.08"/><circle cx="1130.0" cy="1199.1" r="2.06"/><circle cx="1142.1" cy="1195.2" r="2.33"/><circle cx="1108.1" cy="1191.3" r="2.22"/><circle cx="1108.7" cy="1203.6" r="1.89"/><circle cx="1127.8" cy="1241.2" r="2.33"/><circle cx="1146.7" cy="1195.5" r="2.55"/><circle cx="1186.2" cy="1213.1" r="2.60"/><circle cx="1128.2" cy="1195.2" r="1.69"/><circle cx="1189.5" cy="1221.4" r="2.32"/><circle cx="1117.5" cy="1187.0" r="2.04"/><circle cx="1148.9" cy="1177.5" r="2.23"/><circle cx="1111.5" cy="1204.6" r="2.16"/><circle cx="1185.9" cy="1239.7" r="2.30"/><circle cx="1106.2" cy="1239.1" r="2.08"/></g>
<g fill="#333333" fill-opacity="0.9"><circle cx="1176.7" cy="1262.0" r="0.96"/><circle cx="1177.9" cy="1263.5" r="0.78"/><circle cx="1139.2" cy="1168.3" r="1.12"/><circle cx="1200.2" cy="1216.1" r="1.46"/><circle cx="1204.5" cy="1219.1" r="1.51"/><circle cx="1101.6" cy="1233.8" r="1.06"/><circle cx="1177.0" cy="1260.9" r="1.04"/><circle cx="1184.7" cy="1180.6" r="1.14"/><circle cx="1100.2" cy="1226.4" r="1.39"/><circle cx="1110.0" cy="1187.3" r="1.55"/><circle cx="1110.1" cy="1187.6" r="1.15"/><circle cx="1183.9" cy="1180.4" r="1.25"/><circle cx="1100.8" cy="1221.1" r="0.76"/><circle cx="1156.7" cy="1268.3" r="1.02"/><circle cx="1110.6" cy="1186.9" r="1.22"/><circle cx="1098.9" cy="1226.0" r="1.40"/><circle cx="1155.2" cy="1271.2" r="1.15"/><circle cx="1125.4" cy="1260.7" r="1.31"/><circle cx="1102.8" cy="1237.5" r="0.86"/><circle cx="1182.9" cy="1178.1" r="1.47"/><circle cx="1103.8" cy="1236.5" r="1.18"/><circle cx="1099.9" cy="1209.6" r="1.16"/><circle cx="1200.8" cy="1200.7" r="0.69"/><circle cx="1199.7" cy="1213.3" r="0.65"/><circle cx="1171.8" cy="1171.0" r="0.63"/><circle cx="1173.9" cy="1263.5" r="1.44"/><circle cx="1200.2" cy="1223.3" r="0.61"/><circle cx="1198.5" cy="1233.9" r="1.09"/><circle cx="1201.9" cy="1206.8" r="1.45"/><circle cx="1106.0" cy="1188.0" r="1.27"/><circle cx="1154.1" cy="1268.2" r="1.08"/><circle cx="1192.1" cy="1251.5" r="1.08"/><circle cx="1166.7" cy="1266.4" r="1.41"/><circle cx="1143.3" cy="1268.8" r="0.69"/><circle cx="1153.6" cy="1267.4" r="1.11"/><circle cx="1131.8" cy="1170.4" r="1.29"/><circle cx="1105.9" cy="1189.8" r="1.60"/><circle cx="1124.0" cy="1264.1" r="1.06"/><circle cx="1101.3" cy="1214.1" r="0.68"/><circle cx="1120.7" cy="1177.6" r="0.63"/><circle cx="1195.4" cy="1243.4" r="0.80"/><circle cx="1146.5" cy="1270.1" r="1.05"/><circle cx="1182.3" cy="1259.2" r="1.59"/><circle cx="1114.1" cy="1181.3" r="1.14"/><circle cx="1135.4" cy="1165.9" r="1.39"/><circle cx="1151.5" cy="1270.4" r="0.70"/><circle cx="1186.4" cy="1254.6" r="0.78"/><circle cx="1104.3" cy="1198.0" r="1.54"/><circle cx="1102.6" cy="1238.9" r="1.54"/><circle cx="1100.6" cy="1232.7" r="1.09"/><circle cx="1111.0" cy="1246.7" r="1.26"/><circle cx="1196.9" cy="1192.2" r="0.92"/><circle cx="1100.9" cy="1209.1" r="0.99"/><circle cx="1157.9" cy="1168.2" r="1.08"/><circle cx="1101.4" cy="1213.4" r="1.33"/><circle cx="1149.8" cy="1268.5" r="0.85"/><circle cx="1109.2" cy="1187.5" r="1.28"/><circle cx="1103.9" cy="1241.2" r="1.15"/><circle cx="1191.4" cy="1248.9" r="0.85"/><circle cx="1135.0" cy="1268.8" r="1.08"/><circle cx="1147.4" cy="1167.0" r="1.23"/><circle cx="1187.7" cy="1251.3" r="0.73"/><circle cx="1203.6" cy="1225.5" r="1.56"/><circle cx="1117.9" cy="1253.6" r="1.33"/><circle cx="1125.3" cy="1174.7" r="1.37"/><circle cx="1196.5" cy="1237.9" r="1.38"/><circle cx="1156.3" cy="1166.8" r="1.11"/><circle cx="1167.0" cy="1167.3" r="1.13"/><circle cx="1170.5" cy="1262.7" r="0.79"/><circle cx="1099.7" cy="1209.1" r="1.06"/><circle cx="1117.0" cy="1177.7" r="1.25"/><circle cx="1106.0" cy="1245.5" r="1.13"/><circle cx="1190.1" cy="1180.0" r="1.43"/><circle cx="1158.1" cy="1164.8" r="1.15"/><circle cx="1151.6" cy="1267.0" r="1.26"/><circle cx="1151.5" cy="1269.5" r="1.15"/><circle cx="1111.1" cy="1185.0" r="0.84"/><circle cx="1133.6" cy="1267.0" r="1.49"/><circle cx="1129.8" cy="1263.4" r="1.05"/><circle cx="1104.0" cy="1239.7" r="1.36"/><circle cx="1156.8" cy="1164.0" r="1.33"/><circle cx="1201.2" cy="1208.0" r="1.05"/><circle cx="1121.6" cy="1175.6" r="1.43"/></g>
<g fill="#555555" fill-opacity="0.9"><circle cx="1132.6" cy="1220.4" r="1.62"/><circle cx="1141.9" cy="1216.9" r="1.33"/><circle cx="1127.6" cy="1217.7" r="1.16"/><circle cx="1155.9" cy="1209.2" r="1.95"/><circle cx="1142.6" cy="1217.6" r="2.06"/><circle cx="1150.9" cy="1218.7" r="2.13"/><circle cx="1136.3" cy="1206.3" r="2.00"/><circle cx="1148.0" cy="1223.7" r="1.11"/><circle cx="1134.8" cy="1221.8" r="1.98"/><circle cx="1139.8" cy="1225.5" r="1.17"/><circle cx="1142.8" cy="1218.9" r="1.70"/><circle cx="1131.4" cy="1210.8" r="1.50"/><circle cx="1155.5" cy="1212.1" r="1.68"/><circle cx="1147.8" cy="1212.4" r="1.35"/><circle cx="1131.3" cy="1213.0" r="2.15"/><circle cx="1141.5" cy="1213.7" r="2.13"/><circle cx="1135.9" cy="1217.1" r="1.91"/><circle cx="1132.8" cy="1208.0" r="1.66"/><circle cx="1142.6" cy="1224.2" r="1.56"/><circle cx="1135.7" cy="1223.3" r="1.18"/><circle cx="1142.9" cy="1220.1" r="1.03"/><circle cx="1129.4" cy="1214.4" r="1.48"/><circle cx="1153.2" cy="1210.6" r="1.79"/><circle cx="1139.6" cy="1227.1" r="1.42"/><circle cx="1147.4" cy="1211.1" r="2.14"/><circle cx="1140.2" cy="1211.4" r="1.88"/><circle cx="1148.6" cy="1222.2" r="1.45"/><circle cx="1138.1" cy="1222.2" r="1.19"/><circle cx="1139.0" cy="1218.2" r="1.95"/><circle cx="1134.8" cy="1224.0" r="1.51"/><circle cx="1157.8" cy="1214.2" r="1.85"/><circle cx="1151.3" cy="1206.4" r="2.12"/><circle cx="1132.5" cy="1220.8" r="1.08"/><circle cx="1137.0" cy="1221.2" r="1.75"/><circle cx="1156.9" cy="1216.5" r="1.09"/><circle cx="1133.1" cy="1219.9" r="2.01"/><circle cx="1138.9" cy="1212.6" r="1.80"/><circle cx="1144.2" cy="1225.4" r="1.50"/><circle cx="1153.3" cy="1213.8" r="1.33"/><circle cx="1137.2" cy="1226.9" r="1.42"/><circle cx="1143.5" cy="1224.8" r="1.80"/><circle cx="1147.2" cy="1214.8" r="1.40"/><circle cx="1141.1" cy="1207.7" r="1.83"/><circle cx="1140.8" cy="1212.8" r="1.06"/><circle cx="1146.9" cy="1221.9" r="1.22"/><circle cx="1141.8" cy="1219.9" r="1.03"/><circle cx="1129.2" cy="1214.4" r="1.19"/><circle cx="1154.3" cy="1221.7" r="1.10"/><circle cx="1150.1" cy="1222.5" r="1.36"/><circle cx="1145.5" cy="1207.7" r="1.63"/><circle cx="1141.1" cy="1217.4" r="1.98"/><circle cx="1131.8" cy="1223.0" r="1.13"/><circle cx="1132.3" cy="1219.6" r="1.19"/><circle cx="1156.8" cy="1221.2" r="2.13"/><circle cx="1154.8" cy="1216.0" r="1.88"/><circle cx="1134.1" cy="1211.1" r="1.21"/><circle cx="1136.3" cy="1209.8" r="1.81"/><circle cx="1151.4" cy="1217.7" r="1.14"/><circle cx="1143.9" cy="1207.7" r="1.34"/><circle cx="1145.3" cy="1207.5" r="1.35"/><circle cx="1142.5" cy="1216.3" r="1.07"/><circle cx="1158.3" cy="1218.7" r="2.05"/><circle cx="1128.1" cy="1212.8" r="1.65"/><circle cx="1140.8" cy="1212.5" r="1.52"/><circle cx="1135.2" cy="1211.1" r="1.78"/><circle cx="1135.8" cy="1224.1" r="1.25"/><circle cx="1132.6" cy="1216.5" r="1.63"/><circle cx="1150.4" cy="1218.0" r="1.86"/><circle cx="1148.6" cy="1223.2" r="2.19"/><circle cx="1132.4" cy="1209.5" r="1.92"/><circle cx="1152.8" cy="1214.5" r="1.47"/><circle cx="1143.1" cy="1214.1" r="1.56"/><circle cx="1141.4" cy="1224.9" r="1.88"/><circle cx="1150.3" cy="1209.5" r="1.83"/><circle cx="1154.4" cy="1220.7" r="2.12"/><circle cx="1134.6" cy="1210.4" r="1.61"/><circle cx="1137.2" cy="1218.7" r="1.24"/><circle cx="1146.2" cy="1207.7" r="1.05"/><circle cx="1132.1" cy="1208.8" r="1.78"/><circle cx="1149.6" cy="1226.6" r="1.22"/><circle cx="1132.2" cy="1215.6" r="1.20"/><circle cx="1142.3" cy="1221.2" r="1.20"/><circle cx="1155.4" cy="1218.5" r="1.80"/><circle cx="1142.8" cy="1227.7" r="1.51"/><circle cx="1128.2" cy="1219.1" r="1.78"/><circle cx="1129.5" cy="1218.2" r="1.89"/><circle cx="1141.5" cy="1219.0" r="1.88"/><circle cx="1142.8" cy="1206.7" r="1.14"/><circle cx="1142.8" cy="1211.0" r="1.96"/><circle cx="1133.8" cy="1209.4" r="1.09"/><circle cx="1133.9" cy="1223.7" r="1.13"/><circle cx="1153.0" cy="1217.9" r="2.02"/><circle cx="1137.7" cy="1211.8" r="1.10"/><circle cx="1150.6" cy="1206.6" r="1.84"/><circle cx="1146.7" cy="1226.0" r="1.01"/><circle cx="1147.2" cy="1222.0" r="2.15"/><circle cx="1149.3" cy="1217.1" r="1.88"/><circle cx="1143.6" cy="1209.8" r="1.09"/><circle cx="1152.6" cy="1206.6" r="2.09"/><circle cx="1138.7" cy="1214.6" r="1.89"/><circle cx="1134.4" cy="1207.2" r="1.91"/><circle cx="1127.2" cy="1215.8" r="1.55"/><circle cx="1131.0" cy="1219.2" r="1.95"/><circle cx="1129.8" cy="1209.9" r="1.33"/><circle cx="1154.9" cy="1209.2" r="1.42"/><circle cx="1155.2" cy="1217.7" r="1.74"/><circle cx="1154.6" cy="1213.8" r="1.87"/><circle cx="1143.4" cy="1211.1" r="1.80"/><circle cx="1136.1" cy="1218.1" r="1.33"/><circle cx="1134.1" cy="1223.8" r="1.66"/></g>
<ellipse cx="1262.6" cy="1218.4" rx="50.0" ry="55.0" fill="#f4f4f4" stroke="#1e1e1e" stroke-width="2.6"/>
<g fill="#6e6e6e" fill-opacity="0.9"><circle cx="1220.9" cy="1230.2" r="1.03"/><circle cx="1256.7" cy="1208.2" r="0.72"/><circle cx="1227.2" cy="1195.1" r="0.63"/><circle cx="1285.5" cy="1234.5" r="0.90"/><circle cx="1252.6" cy="1237.5" r="0.61"/><circle cx="1233.7" cy="1177.2" r="1.09"/><circle cx="1277.7" cy="1209.2" r="1.07"/><circle cx="1233.1" cy="1255.3" r="1.06"/><circle cx="1227.6" cy="1184.9" r="1.36"/><circle cx="1283.5" cy="1245.2" r="0.62"/><circle cx="1241.3" cy="1209.1" r="1.14"/><circle cx="1260.0" cy="1222.1" r="1.30"/><circle cx="1280.2" cy="1238.1" r="0.99"/><circle cx="1302.5" cy="1234.9" r="1.16"/><circle cx="1290.9" cy="1246.7" r="0.66"/><circle cx="1248.1" cy="1215.3" r="0.79"/><circle cx="1228.5" cy="1230.5" r="1.11"/><circle cx="1287.8" cy="1204.7" r="0.85"/><circle cx="1273.2" cy="1262.7" r="0.86"/><circle cx="1267.6" cy="1241.1" r="0.91"/><circle cx="1279.2" cy="1188.2" r="1.24"/><circle cx="1226.2" cy="1225.7" r="0.77"/><circle cx="1227.8" cy="1242.9" r="0.62"/><circle cx="1239.2" cy="1226.0" r="0.80"/><circle cx="1251.2" cy="1238.6" r="1.04"/><circle cx="1285.5" cy="1224.9" r="0.77"/><circle cx="1281.2" cy="1262.6" r="1.13"/><circle cx="1276.1" cy="1205.8" r="0.71"/><circle cx="1249.2" cy="1253.5" r="1.26"/><circle cx="1285.4" cy="1175.7" r="0.56"/><circle cx="1290.3" cy="1223.7" r="0.91"/><circle cx="1291.3" cy="1219.7" r="0.66"/><circle cx="1278.2" cy="1201.0" r="0.82"/><circle cx="1282.9" cy="1262.2" r="0.65"/><circle cx="1241.4" cy="1227.7" r="0.76"/><circle cx="1303.6" cy="1216.9" r="1.18"/><circle cx="1233.2" cy="1260.0" r="1.37"/><circle cx="1247.4" cy="1199.3" r="0.59"/><circle cx="1230.1" cy="1208.1" r="1.28"/><circle cx="1306.4" cy="1217.9" r="0.76"/><circle cx="1300.4" cy="1214.4" r="0.58"/><circle cx="1275.0" cy="1268.8" r="1.23"/><circle cx="1260.2" cy="1175.1" r="0.57"/><circle cx="1287.0" cy="1207.1" r="1.21"/><circle cx="1229.7" cy="1209.2" r="1.00"/><circle cx="1301.2" cy="1194.5" r="0.89"/><circle cx="1274.8" cy="1200.5" r="0.85"/><circle cx="1258.1" cy="1228.8" r="0.89"/><circle cx="1310.3" cy="1219.1" r="1.25"/><circle cx="1250.7" cy="1220.1" r="0.77"/><circle cx="1266.3" cy="1189.8" r="0.63"/><circle cx="1229.5" cy="1236.3" r="0.66"/><circle cx="1236.7" cy="1246.2" r="1.18"/><circle cx="1222.3" cy="1247.7" r="0.77"/><circle cx="1262.6" cy="1203.4" r="1.33"/><circle cx="1243.2" cy="1212.2" r="1.24"/><circle cx="1275.6" cy="1205.5" r="1.30"/><circle cx="1290.6" cy="1210.3" r="1.22"/><circle cx="1255.8" cy="1178.9" r="0.88"/><circle cx="1245.7" cy="1262.9" r="1.22"/><circle cx="1274.5" cy="1213.7" r="1.03"/><circle cx="1256.4" cy="1194.5" r="0.57"/><circle cx="1296.2" cy="1189.2" r="1.16"/><circle cx="1246.7" cy="1249.1" r="1.24"/></g>
<g fill="#2e2e2e" fill-opacity="0.9"><circle cx="1257.7" cy="1229.7" r="1.22"/><circle cx="1263.7" cy="1169.6" r="1.22"/><circle cx="1286.3" cy="1229.3" r="0.94"/><circle cx="1249.8" cy="1264.7" r="0.72"/><circle cx="1295.0" cy="1221.7" r="0.59"/><circle cx="1299.8" cy="1225.8" r="1.06"/><circle cx="1250.2" cy="1214.7" r="1.03"/><circle cx="1236.1" cy="1214.2" r="0.74"/><circle cx="1281.4" cy="1249.2" r="0.86"/><circle cx="1228.4" cy="1196.0" r="0.78"/><circle cx="1243.3" cy="1201.5" r="1.18"/><circle cx="1273.2" cy="1257.8" r="1.18"/><circle cx="1273.4" cy="1181.4" r="1.33"/><circle cx="1305.6" cy="1214.3" r="0.85"/><circle cx="1258.6" cy="1260.4" r="0.66"/><circle cx="1269.2" cy="1233.1" r="1.10"/><circle cx="1227.3" cy="1251.7" r="1.24"/><circle cx="1234.9" cy="1212.3" r="0.82"/><circle cx="1277.9" cy="1224.1" r="1.29"/><circle cx="1261.3" cy="1223.0" r="1.38"/><circle cx="1231.4" cy="1250.5" r="0.94"/><circle cx="1276.1" cy="1215.4" r="0.95"/><circle cx="1258.0" cy="1211.7" r="1.33"/><circle cx="1241.6" cy="1255.7" r="0.62"/><circle cx="1275.2" cy="1225.8" r="1.22"/><circle cx="1306.0" cy="1200.2" r="1.00"/><circle cx="1298.5" cy="1243.9" r="0.98"/><circle cx="1270.4" cy="1176.8" r="1.03"/><circle cx="1271.3" cy="1236.1" r="0.62"/><circle cx="1238.9" cy="1230.3" r="1.36"/><circle cx="1302.9" cy="1232.4" r="0.65"/><circle cx="1299.7" cy="1249.4" r="0.74"/><circle cx="1231.9" cy="1195.5" r="0.89"/><circle cx="1251.9" cy="1234.6" r="1.14"/><circle cx="1236.5" cy="1248.2" r="1.25"/><circle cx="1290.6" cy="1234.3" r="0.85"/><circle cx="1297.4" cy="1201.0" r="0.72"/><circle cx="1256.9" cy="1220.1" r="0.99"/><circle cx="1278.9" cy="1226.8" r="0.98"/><circle cx="1240.9" cy="1212.6" r="1.05"/><circle cx="1247.3" cy="1259.8" r="0.59"/><circle cx="1280.3" cy="1188.4" r="0.70"/><circle cx="1252.8" cy="1259.3" r="0.63"/><circle cx="1282.0" cy="1205.3" r="0.90"/><circle cx="1292.0" cy="1234.3" r="1.37"/><circle cx="1270.5" cy="1239.2" r="1.01"/><circle cx="1250.9" cy="1202.9" r="0.74"/><circle cx="1243.8" cy="1202.5" r="0.57"/><circle cx="1247.2" cy="1171.7" r="1.24"/><circle cx="1276.3" cy="1199.0" r="0.81"/><circle cx="1231.8" cy="1193.8" r="1.08"/><circle cx="1240.4" cy="1210.0" r="0.75"/><circle cx="1272.6" cy="1224.9" r="1.04"/><circle cx="1301.5" cy="1244.2" r="1.37"/><circle cx="1291.5" cy="1260.1" r="1.08"/><circle cx="1292.6" cy="1219.6" r="0.86"/><circle cx="1258.0" cy="1231.3" r="0.76"/><circle cx="1294.9" cy="1222.3" r="0.96"/><circle cx="1268.0" cy="1269.3" r="1.30"/><circle cx="1219.2" cy="1218.5" r="0.85"/><circle cx="1263.4" cy="1171.4" r="0.85"/><circle cx="1260.8" cy="1186.8" r="0.70"/><circle cx="1248.3" cy="1227.2" r="1.16"/><circle cx="1262.2" cy="1256.0" r="1.24"/><circle cx="1224.9" cy="1188.9" r="1.17"/><circle cx="1247.9" cy="1175.4" r="1.14"/><circle cx="1295.2" cy="1198.3" r="1.11"/><circle cx="1228.9" cy="1206.4" r="1.35"/><circle cx="1256.1" cy="1240.5" r="0.98"/><circle cx="1247.1" cy="1260.1" r="1.09"/><circle cx="1284.8" cy="1218.7" r="1.08"/><circle cx="1230.8" cy="1245.1" r="0.95"/><circle cx="1293.4" cy="1246.9" r="1.38"/><circle cx="1294.5" cy="1241.2" r="1.07"/><circle cx="1236.4" cy="1193.7" r="0.98"/><circle cx="1307.8" cy="1215.1" r="0.92"/><circle cx="1277.9" cy="1178.2" r="1.23"/><circle cx="1275.6" cy="1218.2" r="0.73"/><circle cx="1267.5" cy="1266.4" r="1.34"/><circle cx="1267.6" cy="1255.2" r="1.31"/><circle cx="1256.2" cy="1178.1" r="1.31"/><circle cx="1275.6" cy="1211.0" r="1.37"/><circle cx="1252.8" cy="1258.8" r="1.19"/><circle cx="1255.3" cy="1246.8" r="1.32"/><circle cx="1274.9" cy="1167.4" r="0.63"/><circle cx="1233.4" cy="1185.7" r="1.36"/><circle cx="1258.7" cy="1190.5" r="0.64"/><circle cx="1274.1" cy="1242.4" r="1.03"/><circle cx="1254.4" cy="1236.9" r="0.62"/><circle cx="1245.3" cy="1174.1" r="0.65"/><circle cx="1214.8" cy="1213.9" r="0.86"/><circle cx="1220.0" cy="1208.0" r="0.57"/><circle cx="1292.4" cy="1184.8" r="1.18"/><circle cx="1243.8" cy="1249.6" r="1.35"/><circle cx="1275.5" cy="1224.2" r="1.09"/><circle cx="1280.5" cy="1212.3" r="0.71"/></g>
<g fill="#444444" fill-opacity="0.85"><circle cx="1295.5" cy="1242.5" r="2.31"/><circle cx="1218.4" cy="1229.9" r="2.23"/><circle cx="1277.9" cy="1203.4" r="2.01"/><circle cx="1254.0" cy="1253.2" r="2.35"/><circle cx="1306.9" cy="1215.8" r="2.45"/><circle cx="1302.0" cy="1211.7" r="2.34"/></g>
<g fill="#333333" fill-opacity="0.9"><circle cx="1302.0" cy="1246.2" r="1.09"/><circle cx="1301.3" cy="1251.5" r="0.97"/><circle cx="1264.5" cy="1268.3" r="1.14"/><circle cx="1237.1" cy="1264.8" r="1.23"/><circle cx="1221.2" cy="1239.8" r="0.65"/><circle cx="1244.5" cy="1169.8" r="1.09"/><circle cx="1215.8" cy="1216.4" r="1.51"/><circle cx="1305.9" cy="1235.7" r="1.39"/><circle cx="1244.1" cy="1265.3" r="1.03"/><circle cx="1248.8" cy="1269.4" r="0.70"/><circle cx="1217.3" cy="1200.3" r="0.94"/><circle cx="1256.6" cy="1167.6" r="1.22"/><circle cx="1299.8" cy="1249.0" r="1.16"/><circle cx="1226.6" cy="1185.0" r="0.64"/><circle cx="1215.2" cy="1205.3" r="0.87"/><circle cx="1275.0" cy="1269.2" r="0.83"/><circle cx="1298.9" cy="1248.2" r="1.22"/><circle cx="1298.3" cy="1182.4" r="1.19"/><circle cx="1297.1" cy="1180.4" r="0.87"/><circle cx="1226.4" cy="1255.3" r="1.54"/><circle cx="1232.3" cy="1177.7" r="0.94"/><circle cx="1301.7" cy="1246.0" r="0.83"/><circle cx="1230.2" cy="1179.5" r="1.23"/><circle cx="1300.8" cy="1192.2" r="0.81"/><circle cx="1300.4" cy="1248.5" r="1.51"/><circle cx="1215.0" cy="1229.2" r="0.78"/><circle cx="1233.0" cy="1260.8" r="0.89"/><circle cx="1256.7" cy="1166.3" r="1.26"/><circle cx="1308.4" cy="1227.7" r="1.58"/><circle cx="1229.8" cy="1254.3" r="1.60"/><circle cx="1221.9" cy="1190.1" r="1.08"/><circle cx="1229.2" cy="1182.4" r="0.87"/><circle cx="1250.8" cy="1267.3" r="1.29"/><circle cx="1301.4" cy="1244.6" r="1.11"/><circle cx="1311.0" cy="1215.0" r="1.27"/></g>
</g>
<text transform="translate(245.80,1311.70) scale(0.9964,1)" font-size="28">CTR</text>
<text transform="translate(366.45,1311.70) scale(0.9727,1)" font-size="28">10µM</text>
<text transform="translate(487.32,1311.70) scale(0.9836,1)" font-size="28">20µM</text>
<text transform="translate(985.79,1313.80) scale(1.0055,1)" font-size="28">CTR</text>
<text transform="translate(1106.45,1313.80) scale(0.9727,1)" font-size="28">10µM</text>
<text transform="translate(1227.32,1313.80) scale(0.9836,1)" font-size="28">20µM</text>
</svg>
</body></html>
